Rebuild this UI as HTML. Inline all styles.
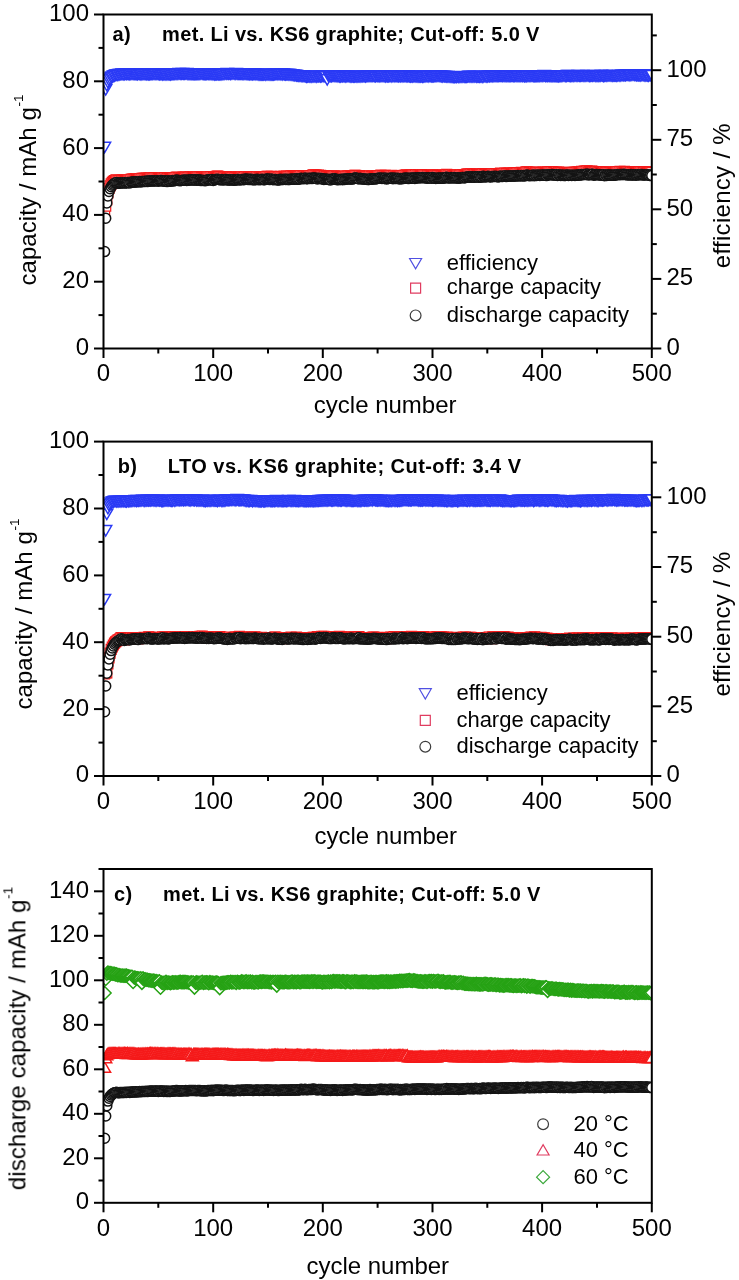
<!DOCTYPE html>
<html><head><meta charset="utf-8"><style>
html,body{margin:0;padding:0;background:#fff;}
body{width:739px;height:1280px;overflow:hidden;font-family:"Liberation Sans",sans-serif;}
svg{display:block;filter:blur(0.35px);}
</style></head><body>
<svg width="739" height="1280" viewBox="0 0 739 1280">
<defs>
<path id="mcirc" d="M-5.0 0a5.0 5.0 0 1 0 10.0 0a5.0 5.0 0 1 0 -10.0 0z"/>
<path id="msq" d="M-5 -5h10v10h-10z"/>
<path id="mlcirc" d="M-5.4 0a5.4 5.4 0 1 0 10.8 0a5.4 5.4 0 1 0 -10.8 0z"/>
<path id="mtdown" d="M-6 -5.2h12l-6 10.4z"/>
<path id="mtup" d="M-6 5.2h12l-6 -10.4z"/>
<path id="mdia" d="M0 -6.5l6.5 6.5l-6.5 6.5l-6.5 -6.5z"/>
<clipPath id="ca"><rect x="103.5" y="14.5" width="548.3" height="334.0"/></clipPath>
<clipPath id="cb"><rect x="103.5" y="441.6" width="548.3" height="334.4"/></clipPath>
<clipPath id="cc"><rect x="103.5" y="869.0" width="548.3" height="333.8"/></clipPath>
</defs>
<rect width="739" height="1280" fill="#fff"/>
<g fill="#fff" stroke="#2a3af5" stroke-width="1.5" clip-path="url(#ca)"><use href="#mtdown" x="104.6" y="147.5"/><use href="#mtdown" x="105.7" y="89.9"/><use href="#mtdown" x="106.8" y="85.6"/><use href="#mtdown" x="107.9" y="82.6"/><use href="#mtdown" x="109" y="80.5"/><use href="#mtdown" x="110.1" y="79.1"/><use href="#mtdown" x="111.2" y="77.6"/><use href="#mtdown" x="112.3" y="77.2"/><use href="#mtdown" x="113.4" y="76.2"/><use href="#mtdown" x="114.5" y="76"/><use href="#mtdown" x="115.6" y="75.3"/><use href="#mtdown" x="116.7" y="75.1"/><use href="#mtdown" x="117.8" y="75.3"/><use href="#mtdown" x="118.9" y="74.7"/><use href="#mtdown" x="119.9" y="74.8"/><use href="#mtdown" x="121" y="74.6"/><use href="#mtdown" x="122.1" y="74.2"/><use href="#mtdown" x="123.2" y="74.6"/><use href="#mtdown" x="124.3" y="74.6"/><use href="#mtdown" x="125.4" y="74.1"/><use href="#mtdown" x="126.5" y="74.3"/><use href="#mtdown" x="127.6" y="74.1"/><use href="#mtdown" x="128.7" y="74.3"/><use href="#mtdown" x="129.8" y="74.5"/><use href="#mtdown" x="130.9" y="74.3"/><use href="#mtdown" x="132" y="74.1"/><use href="#mtdown" x="133.1" y="74.2"/><use href="#mtdown" x="134.2" y="74.4"/><use href="#mtdown" x="135.3" y="74.4"/><use href="#mtdown" x="136.4" y="74.4"/><use href="#mtdown" x="137.5" y="74.5"/><use href="#mtdown" x="138.6" y="74.1"/><use href="#mtdown" x="139.7" y="74.4"/><use href="#mtdown" x="140.8" y="74.6"/><use href="#mtdown" x="141.9" y="74.5"/><use href="#mtdown" x="143" y="74.3"/><use href="#mtdown" x="144.1" y="74.3"/><use href="#mtdown" x="145.2" y="74.4"/><use href="#mtdown" x="146.3" y="74.5"/><use href="#mtdown" x="147.4" y="74.3"/><use href="#mtdown" x="148.5" y="74.6"/><use href="#mtdown" x="149.6" y="74.5"/><use href="#mtdown" x="150.7" y="74.2"/><use href="#mtdown" x="151.8" y="74.4"/><use href="#mtdown" x="152.8" y="74.3"/><use href="#mtdown" x="153.9" y="74.1"/><use href="#mtdown" x="155" y="74.2"/><use href="#mtdown" x="156.1" y="74.4"/><use href="#mtdown" x="157.2" y="74"/><use href="#mtdown" x="158.3" y="74.3"/><use href="#mtdown" x="159.4" y="74.5"/><use href="#mtdown" x="160.5" y="74.4"/><use href="#mtdown" x="161.6" y="74.4"/><use href="#mtdown" x="162.7" y="74.7"/><use href="#mtdown" x="163.8" y="74.5"/><use href="#mtdown" x="164.9" y="74.6"/><use href="#mtdown" x="166" y="74.8"/><use href="#mtdown" x="167.1" y="74.5"/><use href="#mtdown" x="168.2" y="74.5"/><use href="#mtdown" x="169.3" y="74.5"/><use href="#mtdown" x="170.4" y="74.7"/><use href="#mtdown" x="171.5" y="74.4"/><use href="#mtdown" x="172.6" y="74.3"/><use href="#mtdown" x="173.7" y="74.2"/><use href="#mtdown" x="174.8" y="74.3"/><use href="#mtdown" x="175.9" y="74"/><use href="#mtdown" x="177" y="74.2"/><use href="#mtdown" x="178.1" y="74"/><use href="#mtdown" x="179.2" y="73.7"/><use href="#mtdown" x="180.3" y="74"/><use href="#mtdown" x="181.4" y="74"/><use href="#mtdown" x="182.5" y="73.7"/><use href="#mtdown" x="183.6" y="74"/><use href="#mtdown" x="184.6" y="74"/><use href="#mtdown" x="185.7" y="73.9"/><use href="#mtdown" x="186.8" y="73.8"/><use href="#mtdown" x="187.9" y="74.4"/><use href="#mtdown" x="189" y="74.2"/><use href="#mtdown" x="190.1" y="74.3"/><use href="#mtdown" x="191.2" y="74.3"/><use href="#mtdown" x="192.3" y="74.3"/><use href="#mtdown" x="193.4" y="74.4"/><use href="#mtdown" x="194.5" y="74.2"/><use href="#mtdown" x="195.6" y="74.4"/><use href="#mtdown" x="196.7" y="74.2"/><use href="#mtdown" x="197.8" y="74.2"/><use href="#mtdown" x="198.9" y="74.4"/><use href="#mtdown" x="200" y="74.2"/><use href="#mtdown" x="201.1" y="73.9"/><use href="#mtdown" x="202.2" y="74.1"/><use href="#mtdown" x="203.3" y="74.3"/><use href="#mtdown" x="204.4" y="74.2"/><use href="#mtdown" x="205.5" y="74.3"/><use href="#mtdown" x="206.6" y="74.2"/><use href="#mtdown" x="207.7" y="74.1"/><use href="#mtdown" x="208.8" y="74.4"/><use href="#mtdown" x="209.9" y="74.3"/><use href="#mtdown" x="211" y="74.2"/><use href="#mtdown" x="212.1" y="74.5"/><use href="#mtdown" x="213.2" y="74.4"/><use href="#mtdown" x="214.3" y="74.7"/><use href="#mtdown" x="215.4" y="74.6"/><use href="#mtdown" x="216.4" y="74.6"/><use href="#mtdown" x="217.5" y="74.2"/><use href="#mtdown" x="218.6" y="74.6"/><use href="#mtdown" x="219.7" y="74.6"/><use href="#mtdown" x="220.8" y="74.6"/><use href="#mtdown" x="221.9" y="74.5"/><use href="#mtdown" x="223" y="74.3"/><use href="#mtdown" x="224.1" y="74.3"/><use href="#mtdown" x="225.2" y="73.9"/><use href="#mtdown" x="226.3" y="74.1"/><use href="#mtdown" x="227.4" y="73.8"/><use href="#mtdown" x="228.5" y="74"/><use href="#mtdown" x="229.6" y="73.9"/><use href="#mtdown" x="230.7" y="74.2"/><use href="#mtdown" x="231.8" y="73.9"/><use href="#mtdown" x="232.9" y="73.9"/><use href="#mtdown" x="234" y="73.9"/><use href="#mtdown" x="235.1" y="74.2"/><use href="#mtdown" x="236.2" y="73.7"/><use href="#mtdown" x="237.3" y="74"/><use href="#mtdown" x="238.4" y="74"/><use href="#mtdown" x="239.5" y="74"/><use href="#mtdown" x="240.6" y="74.1"/><use href="#mtdown" x="241.7" y="74"/><use href="#mtdown" x="242.8" y="74.3"/><use href="#mtdown" x="243.9" y="74.3"/><use href="#mtdown" x="245" y="74.1"/><use href="#mtdown" x="246.1" y="74.2"/><use href="#mtdown" x="247.2" y="74.3"/><use href="#mtdown" x="248.3" y="74.4"/><use href="#mtdown" x="249.3" y="74.5"/><use href="#mtdown" x="250.4" y="74.4"/><use href="#mtdown" x="251.5" y="74.2"/><use href="#mtdown" x="252.6" y="74.6"/><use href="#mtdown" x="253.7" y="74.2"/><use href="#mtdown" x="254.8" y="74.3"/><use href="#mtdown" x="255.9" y="74.6"/><use href="#mtdown" x="257" y="74.4"/><use href="#mtdown" x="258.1" y="74.8"/><use href="#mtdown" x="259.2" y="74.9"/><use href="#mtdown" x="260.3" y="74.8"/><use href="#mtdown" x="261.4" y="74.7"/><use href="#mtdown" x="262.5" y="74.7"/><use href="#mtdown" x="263.6" y="74.7"/><use href="#mtdown" x="264.7" y="74.6"/><use href="#mtdown" x="265.8" y="75"/><use href="#mtdown" x="266.9" y="74.6"/><use href="#mtdown" x="268" y="74.9"/><use href="#mtdown" x="269.1" y="74.7"/><use href="#mtdown" x="270.2" y="74.7"/><use href="#mtdown" x="271.3" y="74.8"/><use href="#mtdown" x="272.4" y="74.8"/><use href="#mtdown" x="273.5" y="74.7"/><use href="#mtdown" x="274.6" y="74.5"/><use href="#mtdown" x="275.7" y="74.4"/><use href="#mtdown" x="276.8" y="74.3"/><use href="#mtdown" x="277.9" y="74.5"/><use href="#mtdown" x="279" y="74.4"/><use href="#mtdown" x="280.1" y="74.5"/><use href="#mtdown" x="281.1" y="74.3"/><use href="#mtdown" x="282.2" y="74.7"/><use href="#mtdown" x="283.3" y="74.2"/><use href="#mtdown" x="284.4" y="74.6"/><use href="#mtdown" x="285.5" y="74.7"/><use href="#mtdown" x="286.6" y="74.6"/><use href="#mtdown" x="287.7" y="74.6"/><use href="#mtdown" x="288.8" y="74.8"/><use href="#mtdown" x="289.9" y="74.8"/><use href="#mtdown" x="291" y="75.1"/><use href="#mtdown" x="292.1" y="75.1"/><use href="#mtdown" x="293.2" y="75.2"/><use href="#mtdown" x="294.3" y="75.6"/><use href="#mtdown" x="295.4" y="75.4"/><use href="#mtdown" x="296.5" y="75.7"/><use href="#mtdown" x="297.6" y="75.9"/><use href="#mtdown" x="298.7" y="76.1"/><use href="#mtdown" x="299.8" y="76.1"/><use href="#mtdown" x="300.9" y="76.1"/><use href="#mtdown" x="302" y="76.5"/><use href="#mtdown" x="303.1" y="76.3"/><use href="#mtdown" x="304.2" y="76.4"/><use href="#mtdown" x="305.3" y="76.5"/><use href="#mtdown" x="306.4" y="77"/><use href="#mtdown" x="307.5" y="76.7"/><use href="#mtdown" x="308.6" y="76.6"/><use href="#mtdown" x="309.7" y="76.8"/><use href="#mtdown" x="310.8" y="76.7"/><use href="#mtdown" x="311.9" y="77.1"/><use href="#mtdown" x="313" y="76.6"/><use href="#mtdown" x="314" y="76.8"/><use href="#mtdown" x="315.1" y="76.6"/><use href="#mtdown" x="316.2" y="77"/><use href="#mtdown" x="317.3" y="76.5"/><use href="#mtdown" x="318.4" y="76.6"/><use href="#mtdown" x="319.5" y="76.4"/><use href="#mtdown" x="320.6" y="76.7"/><use href="#mtdown" x="321.7" y="76.6"/><use href="#mtdown" x="322.8" y="76.1"/><use href="#mtdown" x="323.9" y="76.5"/><use href="#mtdown" x="325" y="76.5"/><use href="#mtdown" x="326.1" y="76.4"/><use href="#mtdown" x="327.2" y="79.9"/><use href="#mtdown" x="328.3" y="76.1"/><use href="#mtdown" x="329.4" y="76"/><use href="#mtdown" x="330.5" y="76.4"/><use href="#mtdown" x="331.6" y="76.5"/><use href="#mtdown" x="332.7" y="76.1"/><use href="#mtdown" x="333.8" y="76.1"/><use href="#mtdown" x="334.9" y="76.2"/><use href="#mtdown" x="336" y="76.2"/><use href="#mtdown" x="337.1" y="76.5"/><use href="#mtdown" x="338.2" y="76.4"/><use href="#mtdown" x="339.3" y="76.7"/><use href="#mtdown" x="340.4" y="76.7"/><use href="#mtdown" x="341.5" y="76.3"/><use href="#mtdown" x="342.6" y="76.6"/><use href="#mtdown" x="343.7" y="76.2"/><use href="#mtdown" x="344.8" y="76.6"/><use href="#mtdown" x="345.8" y="76.7"/><use href="#mtdown" x="346.9" y="76.5"/><use href="#mtdown" x="348" y="76.4"/><use href="#mtdown" x="349.1" y="76.6"/><use href="#mtdown" x="350.2" y="76.9"/><use href="#mtdown" x="351.3" y="76.7"/><use href="#mtdown" x="352.4" y="76.5"/><use href="#mtdown" x="353.5" y="76.8"/><use href="#mtdown" x="354.6" y="76.9"/><use href="#mtdown" x="355.7" y="76.6"/><use href="#mtdown" x="356.8" y="76.7"/><use href="#mtdown" x="357.9" y="76.9"/><use href="#mtdown" x="359" y="76.7"/><use href="#mtdown" x="360.1" y="76.8"/><use href="#mtdown" x="361.2" y="76.6"/><use href="#mtdown" x="362.3" y="76.6"/><use href="#mtdown" x="363.4" y="76.4"/><use href="#mtdown" x="364.5" y="76.4"/><use href="#mtdown" x="365.6" y="76.7"/><use href="#mtdown" x="366.7" y="76.4"/><use href="#mtdown" x="367.8" y="76.3"/><use href="#mtdown" x="368.9" y="76.3"/><use href="#mtdown" x="370" y="76.2"/><use href="#mtdown" x="371.1" y="76.4"/><use href="#mtdown" x="372.2" y="76.4"/><use href="#mtdown" x="373.3" y="76.1"/><use href="#mtdown" x="374.4" y="76.4"/><use href="#mtdown" x="375.5" y="76.6"/><use href="#mtdown" x="376.6" y="76"/><use href="#mtdown" x="377.6" y="76.3"/><use href="#mtdown" x="378.7" y="76.2"/><use href="#mtdown" x="379.8" y="76.5"/><use href="#mtdown" x="380.9" y="76.4"/><use href="#mtdown" x="382" y="76.4"/><use href="#mtdown" x="383.1" y="76.3"/><use href="#mtdown" x="384.2" y="76.2"/><use href="#mtdown" x="385.3" y="76.7"/><use href="#mtdown" x="386.4" y="76.2"/><use href="#mtdown" x="387.5" y="76.5"/><use href="#mtdown" x="388.6" y="76.5"/><use href="#mtdown" x="389.7" y="76.3"/><use href="#mtdown" x="390.8" y="76.4"/><use href="#mtdown" x="391.9" y="76.7"/><use href="#mtdown" x="393" y="76.1"/><use href="#mtdown" x="394.1" y="76.6"/><use href="#mtdown" x="395.2" y="76.4"/><use href="#mtdown" x="396.3" y="76.4"/><use href="#mtdown" x="397.4" y="76.2"/><use href="#mtdown" x="398.5" y="76.5"/><use href="#mtdown" x="399.6" y="76.3"/><use href="#mtdown" x="400.7" y="76.6"/><use href="#mtdown" x="401.8" y="76.3"/><use href="#mtdown" x="402.9" y="76.6"/><use href="#mtdown" x="404" y="76.6"/><use href="#mtdown" x="405.1" y="76.2"/><use href="#mtdown" x="406.2" y="76.5"/><use href="#mtdown" x="407.3" y="76.5"/><use href="#mtdown" x="408.4" y="76.2"/><use href="#mtdown" x="409.5" y="76.6"/><use href="#mtdown" x="410.5" y="76.8"/><use href="#mtdown" x="411.6" y="76.6"/><use href="#mtdown" x="412.7" y="76.9"/><use href="#mtdown" x="413.8" y="76.5"/><use href="#mtdown" x="414.9" y="76.5"/><use href="#mtdown" x="416" y="76.8"/><use href="#mtdown" x="417.1" y="76.8"/><use href="#mtdown" x="418.2" y="76.7"/><use href="#mtdown" x="419.3" y="76.7"/><use href="#mtdown" x="420.4" y="76.9"/><use href="#mtdown" x="421.5" y="76.6"/><use href="#mtdown" x="422.6" y="77"/><use href="#mtdown" x="423.7" y="76.7"/><use href="#mtdown" x="424.8" y="76.6"/><use href="#mtdown" x="425.9" y="76.6"/><use href="#mtdown" x="427" y="76.4"/><use href="#mtdown" x="428.1" y="76.7"/><use href="#mtdown" x="429.2" y="76.3"/><use href="#mtdown" x="430.3" y="76.4"/><use href="#mtdown" x="431.4" y="76.5"/><use href="#mtdown" x="432.5" y="76.5"/><use href="#mtdown" x="433.6" y="76.5"/><use href="#mtdown" x="434.7" y="76.2"/><use href="#mtdown" x="435.8" y="76.4"/><use href="#mtdown" x="436.9" y="76.3"/><use href="#mtdown" x="438" y="76.1"/><use href="#mtdown" x="439.1" y="76.2"/><use href="#mtdown" x="440.2" y="76.2"/><use href="#mtdown" x="441.3" y="76.5"/><use href="#mtdown" x="442.3" y="76.7"/><use href="#mtdown" x="443.4" y="76.4"/><use href="#mtdown" x="444.5" y="76.6"/><use href="#mtdown" x="445.6" y="76.6"/><use href="#mtdown" x="446.7" y="76.9"/><use href="#mtdown" x="447.8" y="76.7"/><use href="#mtdown" x="448.9" y="76.8"/><use href="#mtdown" x="450" y="77"/><use href="#mtdown" x="451.1" y="77.1"/><use href="#mtdown" x="452.2" y="77.1"/><use href="#mtdown" x="453.3" y="77.2"/><use href="#mtdown" x="454.4" y="77.2"/><use href="#mtdown" x="455.5" y="77.1"/><use href="#mtdown" x="456.6" y="77.3"/><use href="#mtdown" x="457.7" y="76.9"/><use href="#mtdown" x="458.8" y="77.2"/><use href="#mtdown" x="459.9" y="77"/><use href="#mtdown" x="461" y="77.1"/><use href="#mtdown" x="462.1" y="77.1"/><use href="#mtdown" x="463.2" y="76.7"/><use href="#mtdown" x="464.3" y="77"/><use href="#mtdown" x="465.4" y="77.1"/><use href="#mtdown" x="466.5" y="77"/><use href="#mtdown" x="467.6" y="76.9"/><use href="#mtdown" x="468.7" y="76.5"/><use href="#mtdown" x="469.8" y="76.8"/><use href="#mtdown" x="470.9" y="76.7"/><use href="#mtdown" x="472" y="77"/><use href="#mtdown" x="473.1" y="76.8"/><use href="#mtdown" x="474.2" y="76.7"/><use href="#mtdown" x="475.2" y="76.6"/><use href="#mtdown" x="476.3" y="77"/><use href="#mtdown" x="477.4" y="76.7"/><use href="#mtdown" x="478.5" y="76.8"/><use href="#mtdown" x="479.6" y="77"/><use href="#mtdown" x="480.7" y="76.8"/><use href="#mtdown" x="481.8" y="76.9"/><use href="#mtdown" x="482.9" y="77.2"/><use href="#mtdown" x="484" y="76.6"/><use href="#mtdown" x="485.1" y="76.6"/><use href="#mtdown" x="486.2" y="76.7"/><use href="#mtdown" x="487.3" y="76.9"/><use href="#mtdown" x="488.4" y="76.3"/><use href="#mtdown" x="489.5" y="76.5"/><use href="#mtdown" x="490.6" y="76.3"/><use href="#mtdown" x="491.7" y="76.2"/><use href="#mtdown" x="492.8" y="76.5"/><use href="#mtdown" x="493.9" y="76.2"/><use href="#mtdown" x="495" y="76.4"/><use href="#mtdown" x="496.1" y="76.3"/><use href="#mtdown" x="497.2" y="76.2"/><use href="#mtdown" x="498.3" y="76.2"/><use href="#mtdown" x="499.4" y="76"/><use href="#mtdown" x="500.5" y="76.1"/><use href="#mtdown" x="501.6" y="76.1"/><use href="#mtdown" x="502.7" y="76.2"/><use href="#mtdown" x="503.8" y="76.1"/><use href="#mtdown" x="504.9" y="76.3"/><use href="#mtdown" x="506" y="76.2"/><use href="#mtdown" x="507" y="76.2"/><use href="#mtdown" x="508.1" y="76.3"/><use href="#mtdown" x="509.2" y="76.2"/><use href="#mtdown" x="510.3" y="76.4"/><use href="#mtdown" x="511.4" y="76"/><use href="#mtdown" x="512.5" y="76.1"/><use href="#mtdown" x="513.6" y="76.3"/><use href="#mtdown" x="514.7" y="76.4"/><use href="#mtdown" x="515.8" y="76"/><use href="#mtdown" x="516.9" y="76.3"/><use href="#mtdown" x="518" y="76.4"/><use href="#mtdown" x="519.1" y="76.3"/><use href="#mtdown" x="520.2" y="76.3"/><use href="#mtdown" x="521.3" y="76.1"/><use href="#mtdown" x="522.4" y="76.3"/><use href="#mtdown" x="523.5" y="76"/><use href="#mtdown" x="524.6" y="76.5"/><use href="#mtdown" x="525.7" y="76.2"/><use href="#mtdown" x="526.8" y="76.5"/><use href="#mtdown" x="527.9" y="76"/><use href="#mtdown" x="529" y="76.3"/><use href="#mtdown" x="530.1" y="76.3"/><use href="#mtdown" x="531.2" y="76.1"/><use href="#mtdown" x="532.3" y="76"/><use href="#mtdown" x="533.4" y="76.4"/><use href="#mtdown" x="534.5" y="76.3"/><use href="#mtdown" x="535.6" y="76.4"/><use href="#mtdown" x="536.7" y="76.2"/><use href="#mtdown" x="537.8" y="76.2"/><use href="#mtdown" x="538.9" y="76.2"/><use href="#mtdown" x="539.9" y="76.2"/><use href="#mtdown" x="541" y="76.1"/><use href="#mtdown" x="542.1" y="76.2"/><use href="#mtdown" x="543.2" y="76"/><use href="#mtdown" x="544.3" y="75.8"/><use href="#mtdown" x="545.4" y="76.4"/><use href="#mtdown" x="546.5" y="76.1"/><use href="#mtdown" x="547.6" y="76.2"/><use href="#mtdown" x="548.7" y="76.1"/><use href="#mtdown" x="549.8" y="76.4"/><use href="#mtdown" x="550.9" y="76.3"/><use href="#mtdown" x="552" y="76.5"/><use href="#mtdown" x="553.1" y="76.2"/><use href="#mtdown" x="554.2" y="76.4"/><use href="#mtdown" x="555.3" y="76.4"/><use href="#mtdown" x="556.4" y="76.4"/><use href="#mtdown" x="557.5" y="76.4"/><use href="#mtdown" x="558.6" y="76.6"/><use href="#mtdown" x="559.7" y="76.2"/><use href="#mtdown" x="560.8" y="76.2"/><use href="#mtdown" x="561.9" y="76.3"/><use href="#mtdown" x="563" y="76"/><use href="#mtdown" x="564.1" y="75.9"/><use href="#mtdown" x="565.2" y="76.3"/><use href="#mtdown" x="566.3" y="76.2"/><use href="#mtdown" x="567.4" y="75.7"/><use href="#mtdown" x="568.5" y="75.7"/><use href="#mtdown" x="569.6" y="76.1"/><use href="#mtdown" x="570.7" y="76.2"/><use href="#mtdown" x="571.7" y="76.1"/><use href="#mtdown" x="572.8" y="76"/><use href="#mtdown" x="573.9" y="76.2"/><use href="#mtdown" x="575" y="75.9"/><use href="#mtdown" x="576.1" y="76.1"/><use href="#mtdown" x="577.2" y="76.1"/><use href="#mtdown" x="578.3" y="75.8"/><use href="#mtdown" x="579.4" y="76.1"/><use href="#mtdown" x="580.5" y="76"/><use href="#mtdown" x="581.6" y="75.9"/><use href="#mtdown" x="582.7" y="75.8"/><use href="#mtdown" x="583.8" y="76"/><use href="#mtdown" x="584.9" y="76"/><use href="#mtdown" x="586" y="76.1"/><use href="#mtdown" x="587.1" y="75.7"/><use href="#mtdown" x="588.2" y="75.9"/><use href="#mtdown" x="589.3" y="76.2"/><use href="#mtdown" x="590.4" y="76"/><use href="#mtdown" x="591.5" y="75.9"/><use href="#mtdown" x="592.6" y="76"/><use href="#mtdown" x="593.7" y="75.8"/><use href="#mtdown" x="594.8" y="75.9"/><use href="#mtdown" x="595.9" y="76.2"/><use href="#mtdown" x="597" y="76.1"/><use href="#mtdown" x="598.1" y="76.2"/><use href="#mtdown" x="599.2" y="76"/><use href="#mtdown" x="600.3" y="76"/><use href="#mtdown" x="601.4" y="75.5"/><use href="#mtdown" x="602.5" y="75.9"/><use href="#mtdown" x="603.5" y="76.2"/><use href="#mtdown" x="604.6" y="76"/><use href="#mtdown" x="605.7" y="75.8"/><use href="#mtdown" x="606.8" y="76"/><use href="#mtdown" x="607.9" y="75.9"/><use href="#mtdown" x="609" y="75.9"/><use href="#mtdown" x="610.1" y="75.8"/><use href="#mtdown" x="611.2" y="75.9"/><use href="#mtdown" x="612.3" y="76"/><use href="#mtdown" x="613.4" y="75.7"/><use href="#mtdown" x="614.5" y="75.9"/><use href="#mtdown" x="615.6" y="75.9"/><use href="#mtdown" x="616.7" y="76.1"/><use href="#mtdown" x="617.8" y="75.9"/><use href="#mtdown" x="618.9" y="75.6"/><use href="#mtdown" x="620" y="76"/><use href="#mtdown" x="621.1" y="75.6"/><use href="#mtdown" x="622.2" y="75.4"/><use href="#mtdown" x="623.3" y="75.6"/><use href="#mtdown" x="624.4" y="75.4"/><use href="#mtdown" x="625.5" y="75.5"/><use href="#mtdown" x="626.6" y="75.1"/><use href="#mtdown" x="627.7" y="75"/><use href="#mtdown" x="628.8" y="75.2"/><use href="#mtdown" x="629.9" y="75.5"/><use href="#mtdown" x="631" y="75.4"/><use href="#mtdown" x="632.1" y="75"/><use href="#mtdown" x="633.2" y="74.9"/><use href="#mtdown" x="634.3" y="75.2"/><use href="#mtdown" x="635.4" y="75.1"/><use href="#mtdown" x="636.4" y="75.5"/><use href="#mtdown" x="637.5" y="75.4"/><use href="#mtdown" x="638.6" y="75.5"/><use href="#mtdown" x="639.7" y="75.5"/><use href="#mtdown" x="640.8" y="75.8"/><use href="#mtdown" x="641.9" y="75.4"/><use href="#mtdown" x="643" y="75.4"/><use href="#mtdown" x="644.1" y="75.8"/><use href="#mtdown" x="645.2" y="75.8"/><use href="#mtdown" x="646.3" y="75.5"/><use href="#mtdown" x="647.4" y="75.7"/><use href="#mtdown" x="648.5" y="76"/><use href="#mtdown" x="649.6" y="75.4"/><use href="#mtdown" x="650.7" y="75.5"/><use href="#mtdown" x="651.8" y="75.6"/></g>
<g fill="#fff" stroke="#f51a1a" stroke-width="1.2" clip-path="url(#ca)"><use href="#msq" x="104.6" y="213.9"/><use href="#msq" x="105.7" y="206.2"/><use href="#msq" x="106.8" y="199.9"/><use href="#msq" x="107.9" y="192.8"/><use href="#msq" x="109" y="188.5"/><use href="#msq" x="110.1" y="185.9"/><use href="#msq" x="111.2" y="183.9"/><use href="#msq" x="112.3" y="182.3"/><use href="#msq" x="113.4" y="181.3"/><use href="#msq" x="114.5" y="180.5"/><use href="#msq" x="115.6" y="180.1"/><use href="#msq" x="116.7" y="179.8"/><use href="#msq" x="117.8" y="180.7"/><use href="#msq" x="118.9" y="180.7"/><use href="#msq" x="119.9" y="180.4"/><use href="#msq" x="121" y="180.5"/><use href="#msq" x="122.1" y="180.2"/><use href="#msq" x="123.2" y="180.2"/><use href="#msq" x="124.3" y="180.5"/><use href="#msq" x="125.4" y="180"/><use href="#msq" x="126.5" y="180.3"/><use href="#msq" x="127.6" y="180"/><use href="#msq" x="128.7" y="179.8"/><use href="#msq" x="129.8" y="180.1"/><use href="#msq" x="130.9" y="179.4"/><use href="#msq" x="132" y="179.2"/><use href="#msq" x="133.1" y="179.2"/><use href="#msq" x="134.2" y="179.1"/><use href="#msq" x="135.3" y="178.9"/><use href="#msq" x="136.4" y="179"/><use href="#msq" x="137.5" y="178.8"/><use href="#msq" x="138.6" y="178.8"/><use href="#msq" x="139.7" y="178.5"/><use href="#msq" x="140.8" y="178.8"/><use href="#msq" x="141.9" y="178.4"/><use href="#msq" x="143" y="178.4"/><use href="#msq" x="144.1" y="178.4"/><use href="#msq" x="145.2" y="178.4"/><use href="#msq" x="146.3" y="178.1"/><use href="#msq" x="147.4" y="178.6"/><use href="#msq" x="148.5" y="178"/><use href="#msq" x="149.6" y="178"/><use href="#msq" x="150.7" y="177.9"/><use href="#msq" x="151.8" y="177.8"/><use href="#msq" x="152.8" y="178.1"/><use href="#msq" x="153.9" y="177.9"/><use href="#msq" x="155" y="177.6"/><use href="#msq" x="156.1" y="177.7"/><use href="#msq" x="157.2" y="177.7"/><use href="#msq" x="158.3" y="178.2"/><use href="#msq" x="159.4" y="177.7"/><use href="#msq" x="160.5" y="177.5"/><use href="#msq" x="161.6" y="177.6"/><use href="#msq" x="162.7" y="177.8"/><use href="#msq" x="163.8" y="178.3"/><use href="#msq" x="164.9" y="177.7"/><use href="#msq" x="166" y="178"/><use href="#msq" x="167.1" y="178.7"/><use href="#msq" x="168.2" y="177.9"/><use href="#msq" x="169.3" y="178.4"/><use href="#msq" x="170.4" y="178.3"/><use href="#msq" x="171.5" y="178.1"/><use href="#msq" x="172.6" y="177.5"/><use href="#msq" x="173.7" y="177.9"/><use href="#msq" x="174.8" y="177.7"/><use href="#msq" x="175.9" y="177.3"/><use href="#msq" x="177" y="177.2"/><use href="#msq" x="178.1" y="177.6"/><use href="#msq" x="179.2" y="177.6"/><use href="#msq" x="180.3" y="177.8"/><use href="#msq" x="181.4" y="177.7"/><use href="#msq" x="182.5" y="177.4"/><use href="#msq" x="183.6" y="177.4"/><use href="#msq" x="184.6" y="177.4"/><use href="#msq" x="185.7" y="177.2"/><use href="#msq" x="186.8" y="177.6"/><use href="#msq" x="187.9" y="177.4"/><use href="#msq" x="189" y="177.1"/><use href="#msq" x="190.1" y="177"/><use href="#msq" x="191.2" y="176.8"/><use href="#msq" x="192.3" y="176.9"/><use href="#msq" x="193.4" y="177"/><use href="#msq" x="194.5" y="176.8"/><use href="#msq" x="195.6" y="177.1"/><use href="#msq" x="196.7" y="177.3"/><use href="#msq" x="197.8" y="176.8"/><use href="#msq" x="198.9" y="177"/><use href="#msq" x="200" y="177"/><use href="#msq" x="201.1" y="177.6"/><use href="#msq" x="202.2" y="177.3"/><use href="#msq" x="203.3" y="177.4"/><use href="#msq" x="204.4" y="177.5"/><use href="#msq" x="205.5" y="177.8"/><use href="#msq" x="206.6" y="177.2"/><use href="#msq" x="207.7" y="176.8"/><use href="#msq" x="208.8" y="176.8"/><use href="#msq" x="209.9" y="177"/><use href="#msq" x="211" y="176.7"/><use href="#msq" x="212.1" y="176.5"/><use href="#msq" x="213.2" y="177.4"/><use href="#msq" x="214.3" y="176.6"/><use href="#msq" x="215.4" y="176.5"/><use href="#msq" x="216.4" y="176.4"/><use href="#msq" x="217.5" y="176.2"/><use href="#msq" x="218.6" y="176.4"/><use href="#msq" x="219.7" y="176.7"/><use href="#msq" x="220.8" y="176.7"/><use href="#msq" x="221.9" y="176.7"/><use href="#msq" x="223" y="177.1"/><use href="#msq" x="224.1" y="177"/><use href="#msq" x="225.2" y="176.9"/><use href="#msq" x="226.3" y="176.7"/><use href="#msq" x="227.4" y="177.4"/><use href="#msq" x="228.5" y="177.4"/><use href="#msq" x="229.6" y="177.4"/><use href="#msq" x="230.7" y="177.2"/><use href="#msq" x="231.8" y="177.6"/><use href="#msq" x="232.9" y="177.2"/><use href="#msq" x="234" y="177.8"/><use href="#msq" x="235.1" y="177.5"/><use href="#msq" x="236.2" y="177.4"/><use href="#msq" x="237.3" y="177.1"/><use href="#msq" x="238.4" y="176.9"/><use href="#msq" x="239.5" y="177.5"/><use href="#msq" x="240.6" y="177.2"/><use href="#msq" x="241.7" y="176.8"/><use href="#msq" x="242.8" y="177.1"/><use href="#msq" x="243.9" y="177.3"/><use href="#msq" x="245" y="176.6"/><use href="#msq" x="246.1" y="176.7"/><use href="#msq" x="247.2" y="176.8"/><use href="#msq" x="248.3" y="177.1"/><use href="#msq" x="249.3" y="176.7"/><use href="#msq" x="250.4" y="177.1"/><use href="#msq" x="251.5" y="176.7"/><use href="#msq" x="252.6" y="177.2"/><use href="#msq" x="253.7" y="177.2"/><use href="#msq" x="254.8" y="176.9"/><use href="#msq" x="255.9" y="177.1"/><use href="#msq" x="257" y="176.7"/><use href="#msq" x="258.1" y="176.8"/><use href="#msq" x="259.2" y="177.2"/><use href="#msq" x="260.3" y="176.9"/><use href="#msq" x="261.4" y="177"/><use href="#msq" x="262.5" y="176.7"/><use href="#msq" x="263.6" y="177.1"/><use href="#msq" x="264.7" y="177.1"/><use href="#msq" x="265.8" y="176.6"/><use href="#msq" x="266.9" y="176.3"/><use href="#msq" x="268" y="176.3"/><use href="#msq" x="269.1" y="176.8"/><use href="#msq" x="270.2" y="176.7"/><use href="#msq" x="271.3" y="176.4"/><use href="#msq" x="272.4" y="176.8"/><use href="#msq" x="273.5" y="177"/><use href="#msq" x="274.6" y="176.7"/><use href="#msq" x="275.7" y="176.6"/><use href="#msq" x="276.8" y="176.9"/><use href="#msq" x="277.9" y="177.1"/><use href="#msq" x="279" y="177"/><use href="#msq" x="280.1" y="176.4"/><use href="#msq" x="281.1" y="176.7"/><use href="#msq" x="282.2" y="176.5"/><use href="#msq" x="283.3" y="176.4"/><use href="#msq" x="284.4" y="176.3"/><use href="#msq" x="285.5" y="176.5"/><use href="#msq" x="286.6" y="176.2"/><use href="#msq" x="287.7" y="176.5"/><use href="#msq" x="288.8" y="176.4"/><use href="#msq" x="289.9" y="176.5"/><use href="#msq" x="291" y="175.9"/><use href="#msq" x="292.1" y="176.2"/><use href="#msq" x="293.2" y="176.4"/><use href="#msq" x="294.3" y="176.2"/><use href="#msq" x="295.4" y="176.2"/><use href="#msq" x="296.5" y="175.9"/><use href="#msq" x="297.6" y="176.6"/><use href="#msq" x="298.7" y="176.4"/><use href="#msq" x="299.8" y="176.3"/><use href="#msq" x="300.9" y="175.5"/><use href="#msq" x="302" y="175.9"/><use href="#msq" x="303.1" y="176.1"/><use href="#msq" x="304.2" y="175.9"/><use href="#msq" x="305.3" y="175.5"/><use href="#msq" x="306.4" y="176"/><use href="#msq" x="307.5" y="176"/><use href="#msq" x="308.6" y="175.5"/><use href="#msq" x="309.7" y="175.6"/><use href="#msq" x="310.8" y="175.5"/><use href="#msq" x="311.9" y="175.7"/><use href="#msq" x="313" y="174.9"/><use href="#msq" x="314" y="175"/><use href="#msq" x="315.1" y="175.2"/><use href="#msq" x="316.2" y="175.2"/><use href="#msq" x="317.3" y="175.9"/><use href="#msq" x="318.4" y="175.2"/><use href="#msq" x="319.5" y="175.5"/><use href="#msq" x="320.6" y="175.4"/><use href="#msq" x="321.7" y="175.5"/><use href="#msq" x="322.8" y="175.9"/><use href="#msq" x="323.9" y="176.3"/><use href="#msq" x="325" y="175.9"/><use href="#msq" x="326.1" y="176.3"/><use href="#msq" x="327.2" y="176.3"/><use href="#msq" x="328.3" y="176.4"/><use href="#msq" x="329.4" y="176.5"/><use href="#msq" x="330.5" y="177"/><use href="#msq" x="331.6" y="176.1"/><use href="#msq" x="332.7" y="176.4"/><use href="#msq" x="333.8" y="176.2"/><use href="#msq" x="334.9" y="175.9"/><use href="#msq" x="336" y="176.5"/><use href="#msq" x="337.1" y="177"/><use href="#msq" x="338.2" y="176.7"/><use href="#msq" x="339.3" y="176.8"/><use href="#msq" x="340.4" y="176.6"/><use href="#msq" x="341.5" y="176.4"/><use href="#msq" x="342.6" y="176.9"/><use href="#msq" x="343.7" y="176.3"/><use href="#msq" x="344.8" y="176.7"/><use href="#msq" x="345.8" y="176.2"/><use href="#msq" x="346.9" y="176.2"/><use href="#msq" x="348" y="176.2"/><use href="#msq" x="349.1" y="176"/><use href="#msq" x="350.2" y="176.1"/><use href="#msq" x="351.3" y="176.1"/><use href="#msq" x="352.4" y="176.4"/><use href="#msq" x="353.5" y="175.9"/><use href="#msq" x="354.6" y="175.4"/><use href="#msq" x="355.7" y="175.3"/><use href="#msq" x="356.8" y="175.5"/><use href="#msq" x="357.9" y="175.7"/><use href="#msq" x="359" y="176.1"/><use href="#msq" x="360.1" y="175.5"/><use href="#msq" x="361.2" y="176"/><use href="#msq" x="362.3" y="176.1"/><use href="#msq" x="363.4" y="176.2"/><use href="#msq" x="364.5" y="176.2"/><use href="#msq" x="365.6" y="176.4"/><use href="#msq" x="366.7" y="176.4"/><use href="#msq" x="367.8" y="176.7"/><use href="#msq" x="368.9" y="176.6"/><use href="#msq" x="370" y="175.8"/><use href="#msq" x="371.1" y="176.4"/><use href="#msq" x="372.2" y="176.3"/><use href="#msq" x="373.3" y="176"/><use href="#msq" x="374.4" y="175.8"/><use href="#msq" x="375.5" y="176.2"/><use href="#msq" x="376.6" y="175.9"/><use href="#msq" x="377.6" y="175.5"/><use href="#msq" x="378.7" y="175.6"/><use href="#msq" x="379.8" y="175.6"/><use href="#msq" x="380.9" y="175.2"/><use href="#msq" x="382" y="175.9"/><use href="#msq" x="383.1" y="175.7"/><use href="#msq" x="384.2" y="175.9"/><use href="#msq" x="385.3" y="175.4"/><use href="#msq" x="386.4" y="176.4"/><use href="#msq" x="387.5" y="176.1"/><use href="#msq" x="388.6" y="176.1"/><use href="#msq" x="389.7" y="175.7"/><use href="#msq" x="390.8" y="175.7"/><use href="#msq" x="391.9" y="175.4"/><use href="#msq" x="393" y="176.2"/><use href="#msq" x="394.1" y="175.5"/><use href="#msq" x="395.2" y="175.8"/><use href="#msq" x="396.3" y="175.8"/><use href="#msq" x="397.4" y="175.5"/><use href="#msq" x="398.5" y="175.9"/><use href="#msq" x="399.6" y="176.2"/><use href="#msq" x="400.7" y="175.7"/><use href="#msq" x="401.8" y="176"/><use href="#msq" x="402.9" y="175.7"/><use href="#msq" x="404" y="175.4"/><use href="#msq" x="405.1" y="175.3"/><use href="#msq" x="406.2" y="174.9"/><use href="#msq" x="407.3" y="175.3"/><use href="#msq" x="408.4" y="175.6"/><use href="#msq" x="409.5" y="175.3"/><use href="#msq" x="410.5" y="175.2"/><use href="#msq" x="411.6" y="175.3"/><use href="#msq" x="412.7" y="174.8"/><use href="#msq" x="413.8" y="175"/><use href="#msq" x="414.9" y="175.3"/><use href="#msq" x="416" y="174.6"/><use href="#msq" x="417.1" y="174.8"/><use href="#msq" x="418.2" y="174.7"/><use href="#msq" x="419.3" y="174.7"/><use href="#msq" x="420.4" y="174.7"/><use href="#msq" x="421.5" y="174.8"/><use href="#msq" x="422.6" y="174.6"/><use href="#msq" x="423.7" y="174.8"/><use href="#msq" x="424.8" y="174.9"/><use href="#msq" x="425.9" y="174.9"/><use href="#msq" x="427" y="175.4"/><use href="#msq" x="428.1" y="175.1"/><use href="#msq" x="429.2" y="175.2"/><use href="#msq" x="430.3" y="175.1"/><use href="#msq" x="431.4" y="175.6"/><use href="#msq" x="432.5" y="174.8"/><use href="#msq" x="433.6" y="175.2"/><use href="#msq" x="434.7" y="175.6"/><use href="#msq" x="435.8" y="175.8"/><use href="#msq" x="436.9" y="175.4"/><use href="#msq" x="438" y="175.4"/><use href="#msq" x="439.1" y="175.5"/><use href="#msq" x="440.2" y="175.3"/><use href="#msq" x="441.3" y="175.5"/><use href="#msq" x="442.3" y="175.1"/><use href="#msq" x="443.4" y="175.4"/><use href="#msq" x="444.5" y="175.1"/><use href="#msq" x="445.6" y="174.8"/><use href="#msq" x="446.7" y="174.3"/><use href="#msq" x="447.8" y="175.1"/><use href="#msq" x="448.9" y="174.9"/><use href="#msq" x="450" y="175"/><use href="#msq" x="451.1" y="174.5"/><use href="#msq" x="452.2" y="175"/><use href="#msq" x="453.3" y="174.8"/><use href="#msq" x="454.4" y="174.7"/><use href="#msq" x="455.5" y="174.9"/><use href="#msq" x="456.6" y="174.9"/><use href="#msq" x="457.7" y="174.8"/><use href="#msq" x="458.8" y="175.3"/><use href="#msq" x="459.9" y="175.1"/><use href="#msq" x="461" y="174.8"/><use href="#msq" x="462.1" y="174.6"/><use href="#msq" x="463.2" y="174.6"/><use href="#msq" x="464.3" y="175"/><use href="#msq" x="465.4" y="174.6"/><use href="#msq" x="466.5" y="174.1"/><use href="#msq" x="467.6" y="174.1"/><use href="#msq" x="468.7" y="174.2"/><use href="#msq" x="469.8" y="174.4"/><use href="#msq" x="470.9" y="174"/><use href="#msq" x="472" y="174.4"/><use href="#msq" x="473.1" y="174.6"/><use href="#msq" x="474.2" y="174.6"/><use href="#msq" x="475.2" y="174"/><use href="#msq" x="476.3" y="174.4"/><use href="#msq" x="477.4" y="174.2"/><use href="#msq" x="478.5" y="174.6"/><use href="#msq" x="479.6" y="174.2"/><use href="#msq" x="480.7" y="174.7"/><use href="#msq" x="481.8" y="174.5"/><use href="#msq" x="482.9" y="173.7"/><use href="#msq" x="484" y="174.1"/><use href="#msq" x="485.1" y="174.3"/><use href="#msq" x="486.2" y="174.2"/><use href="#msq" x="487.3" y="173.9"/><use href="#msq" x="488.4" y="173.6"/><use href="#msq" x="489.5" y="174"/><use href="#msq" x="490.6" y="174.3"/><use href="#msq" x="491.7" y="173.9"/><use href="#msq" x="492.8" y="173.8"/><use href="#msq" x="493.9" y="173.8"/><use href="#msq" x="495" y="173.6"/><use href="#msq" x="496.1" y="173.9"/><use href="#msq" x="497.2" y="173.7"/><use href="#msq" x="498.3" y="174.2"/><use href="#msq" x="499.4" y="173.6"/><use href="#msq" x="500.5" y="173.2"/><use href="#msq" x="501.6" y="173.5"/><use href="#msq" x="502.7" y="173.6"/><use href="#msq" x="503.8" y="173.5"/><use href="#msq" x="504.9" y="173"/><use href="#msq" x="506" y="173.7"/><use href="#msq" x="507" y="173.4"/><use href="#msq" x="508.1" y="173.3"/><use href="#msq" x="509.2" y="173.2"/><use href="#msq" x="510.3" y="173.5"/><use href="#msq" x="511.4" y="173.3"/><use href="#msq" x="512.5" y="173.3"/><use href="#msq" x="513.6" y="173.2"/><use href="#msq" x="514.7" y="173.1"/><use href="#msq" x="515.8" y="173.3"/><use href="#msq" x="516.9" y="172.9"/><use href="#msq" x="518" y="172.6"/><use href="#msq" x="519.1" y="173"/><use href="#msq" x="520.2" y="172.7"/><use href="#msq" x="521.3" y="172.4"/><use href="#msq" x="522.4" y="172.9"/><use href="#msq" x="523.5" y="172.5"/><use href="#msq" x="524.6" y="172.8"/><use href="#msq" x="525.7" y="172.2"/><use href="#msq" x="526.8" y="171.9"/><use href="#msq" x="527.9" y="172"/><use href="#msq" x="529" y="172.6"/><use href="#msq" x="530.1" y="172.4"/><use href="#msq" x="531.2" y="172.6"/><use href="#msq" x="532.3" y="172.6"/><use href="#msq" x="533.4" y="172.2"/><use href="#msq" x="534.5" y="173"/><use href="#msq" x="535.6" y="172.4"/><use href="#msq" x="536.7" y="172.7"/><use href="#msq" x="537.8" y="172.3"/><use href="#msq" x="538.9" y="172.6"/><use href="#msq" x="539.9" y="172.8"/><use href="#msq" x="541" y="172.5"/><use href="#msq" x="542.1" y="172.3"/><use href="#msq" x="543.2" y="172.4"/><use href="#msq" x="544.3" y="172.2"/><use href="#msq" x="545.4" y="172.3"/><use href="#msq" x="546.5" y="172.7"/><use href="#msq" x="547.6" y="171.8"/><use href="#msq" x="548.7" y="171.8"/><use href="#msq" x="549.8" y="171.9"/><use href="#msq" x="550.9" y="171.9"/><use href="#msq" x="552" y="171.7"/><use href="#msq" x="553.1" y="172.2"/><use href="#msq" x="554.2" y="172.3"/><use href="#msq" x="555.3" y="172.3"/><use href="#msq" x="556.4" y="172"/><use href="#msq" x="557.5" y="172.8"/><use href="#msq" x="558.6" y="172.2"/><use href="#msq" x="559.7" y="172.7"/><use href="#msq" x="560.8" y="172.9"/><use href="#msq" x="561.9" y="172.3"/><use href="#msq" x="563" y="172.7"/><use href="#msq" x="564.1" y="173.1"/><use href="#msq" x="565.2" y="172.8"/><use href="#msq" x="566.3" y="172.5"/><use href="#msq" x="567.4" y="172.4"/><use href="#msq" x="568.5" y="172.8"/><use href="#msq" x="569.6" y="172.6"/><use href="#msq" x="570.7" y="172.5"/><use href="#msq" x="571.7" y="172.7"/><use href="#msq" x="572.8" y="172.4"/><use href="#msq" x="573.9" y="172.4"/><use href="#msq" x="575" y="172.4"/><use href="#msq" x="576.1" y="172.3"/><use href="#msq" x="577.2" y="172"/><use href="#msq" x="578.3" y="171.9"/><use href="#msq" x="579.4" y="172"/><use href="#msq" x="580.5" y="171.8"/><use href="#msq" x="581.6" y="171.3"/><use href="#msq" x="582.7" y="171.5"/><use href="#msq" x="583.8" y="171.3"/><use href="#msq" x="584.9" y="171.2"/><use href="#msq" x="586" y="171.4"/><use href="#msq" x="587.1" y="170.9"/><use href="#msq" x="588.2" y="171.8"/><use href="#msq" x="589.3" y="171.4"/><use href="#msq" x="590.4" y="171.7"/><use href="#msq" x="591.5" y="171.2"/><use href="#msq" x="592.6" y="171.3"/><use href="#msq" x="593.7" y="172.3"/><use href="#msq" x="594.8" y="172.1"/><use href="#msq" x="595.9" y="171.7"/><use href="#msq" x="597" y="171.8"/><use href="#msq" x="598.1" y="171.9"/><use href="#msq" x="599.2" y="172.2"/><use href="#msq" x="600.3" y="172.2"/><use href="#msq" x="601.4" y="172.2"/><use href="#msq" x="602.5" y="172.4"/><use href="#msq" x="603.5" y="172.1"/><use href="#msq" x="604.6" y="173"/><use href="#msq" x="605.7" y="172.3"/><use href="#msq" x="606.8" y="172.7"/><use href="#msq" x="607.9" y="172.1"/><use href="#msq" x="609" y="172.4"/><use href="#msq" x="610.1" y="172.5"/><use href="#msq" x="611.2" y="172.1"/><use href="#msq" x="612.3" y="172.4"/><use href="#msq" x="613.4" y="172.3"/><use href="#msq" x="614.5" y="172.4"/><use href="#msq" x="615.6" y="172"/><use href="#msq" x="616.7" y="171.8"/><use href="#msq" x="617.8" y="171.5"/><use href="#msq" x="618.9" y="171.8"/><use href="#msq" x="620" y="171.4"/><use href="#msq" x="621.1" y="171.7"/><use href="#msq" x="622.2" y="171.7"/><use href="#msq" x="623.3" y="171.6"/><use href="#msq" x="624.4" y="171.4"/><use href="#msq" x="625.5" y="171.9"/><use href="#msq" x="626.6" y="172"/><use href="#msq" x="627.7" y="172"/><use href="#msq" x="628.8" y="172"/><use href="#msq" x="629.9" y="172.4"/><use href="#msq" x="631" y="171.9"/><use href="#msq" x="632.1" y="172.4"/><use href="#msq" x="633.2" y="172.1"/><use href="#msq" x="634.3" y="172.5"/><use href="#msq" x="635.4" y="172.2"/><use href="#msq" x="636.4" y="172.2"/><use href="#msq" x="637.5" y="172.4"/><use href="#msq" x="638.6" y="171.7"/><use href="#msq" x="639.7" y="172.1"/><use href="#msq" x="640.8" y="171.7"/><use href="#msq" x="641.9" y="171.9"/><use href="#msq" x="643" y="172.3"/><use href="#msq" x="644.1" y="172.2"/><use href="#msq" x="645.2" y="171.9"/><use href="#msq" x="646.3" y="172"/><use href="#msq" x="647.4" y="172"/><use href="#msq" x="648.5" y="172.1"/><use href="#msq" x="649.6" y="172.5"/><use href="#msq" x="650.7" y="172.1"/><use href="#msq" x="651.8" y="172.6"/></g>
<g fill="#fff" stroke="#141414" stroke-width="1.5" clip-path="url(#ca)"><use href="#mcirc" x="104.6" y="251.6"/><use href="#mcirc" x="105.7" y="218.2"/><use href="#mcirc" x="106.8" y="202.9"/><use href="#mcirc" x="107.9" y="195.9"/><use href="#mcirc" x="109" y="191.5"/><use href="#mcirc" x="110.1" y="188.8"/><use href="#mcirc" x="111.2" y="186.8"/><use href="#mcirc" x="112.3" y="185.2"/><use href="#mcirc" x="113.4" y="184.2"/><use href="#mcirc" x="114.5" y="183.3"/><use href="#mcirc" x="115.6" y="182.8"/><use href="#mcirc" x="116.7" y="182.5"/><use href="#mcirc" x="117.8" y="183.3"/><use href="#mcirc" x="118.9" y="183.3"/><use href="#mcirc" x="119.9" y="183"/><use href="#mcirc" x="121" y="183"/><use href="#mcirc" x="122.1" y="182.8"/><use href="#mcirc" x="123.2" y="182.8"/><use href="#mcirc" x="124.3" y="183.1"/><use href="#mcirc" x="125.4" y="182.6"/><use href="#mcirc" x="126.5" y="182.9"/><use href="#mcirc" x="127.6" y="182.6"/><use href="#mcirc" x="128.7" y="182.5"/><use href="#mcirc" x="129.8" y="182.9"/><use href="#mcirc" x="130.9" y="182.2"/><use href="#mcirc" x="132" y="182.1"/><use href="#mcirc" x="133.1" y="182.1"/><use href="#mcirc" x="134.2" y="182"/><use href="#mcirc" x="135.3" y="181.9"/><use href="#mcirc" x="136.4" y="182"/><use href="#mcirc" x="137.5" y="181.8"/><use href="#mcirc" x="138.6" y="181.8"/><use href="#mcirc" x="139.7" y="181.6"/><use href="#mcirc" x="140.8" y="181.9"/><use href="#mcirc" x="141.9" y="181.4"/><use href="#mcirc" x="143" y="181.4"/><use href="#mcirc" x="144.1" y="181.4"/><use href="#mcirc" x="145.2" y="181.4"/><use href="#mcirc" x="146.3" y="181.1"/><use href="#mcirc" x="147.4" y="181.6"/><use href="#mcirc" x="148.5" y="181"/><use href="#mcirc" x="149.6" y="181"/><use href="#mcirc" x="150.7" y="180.9"/><use href="#mcirc" x="151.8" y="180.8"/><use href="#mcirc" x="152.8" y="181.1"/><use href="#mcirc" x="153.9" y="181"/><use href="#mcirc" x="155" y="180.7"/><use href="#mcirc" x="156.1" y="180.7"/><use href="#mcirc" x="157.2" y="180.8"/><use href="#mcirc" x="158.3" y="181.2"/><use href="#mcirc" x="159.4" y="180.7"/><use href="#mcirc" x="160.5" y="180.6"/><use href="#mcirc" x="161.6" y="180.6"/><use href="#mcirc" x="162.7" y="180.9"/><use href="#mcirc" x="163.8" y="181.3"/><use href="#mcirc" x="164.9" y="180.7"/><use href="#mcirc" x="166" y="181"/><use href="#mcirc" x="167.1" y="181.6"/><use href="#mcirc" x="168.2" y="180.8"/><use href="#mcirc" x="169.3" y="181.3"/><use href="#mcirc" x="170.4" y="181.2"/><use href="#mcirc" x="171.5" y="181"/><use href="#mcirc" x="172.6" y="180.5"/><use href="#mcirc" x="173.7" y="180.9"/><use href="#mcirc" x="174.8" y="180.6"/><use href="#mcirc" x="175.9" y="180.2"/><use href="#mcirc" x="177" y="180.1"/><use href="#mcirc" x="178.1" y="180.5"/><use href="#mcirc" x="179.2" y="180.5"/><use href="#mcirc" x="180.3" y="180.7"/><use href="#mcirc" x="181.4" y="180.5"/><use href="#mcirc" x="182.5" y="180.2"/><use href="#mcirc" x="183.6" y="180.2"/><use href="#mcirc" x="184.6" y="180.3"/><use href="#mcirc" x="185.7" y="180"/><use href="#mcirc" x="186.8" y="180.5"/><use href="#mcirc" x="187.9" y="180.3"/><use href="#mcirc" x="189" y="180"/><use href="#mcirc" x="190.1" y="180"/><use href="#mcirc" x="191.2" y="179.7"/><use href="#mcirc" x="192.3" y="179.9"/><use href="#mcirc" x="193.4" y="180"/><use href="#mcirc" x="194.5" y="179.8"/><use href="#mcirc" x="195.6" y="180.1"/><use href="#mcirc" x="196.7" y="180.3"/><use href="#mcirc" x="197.8" y="179.8"/><use href="#mcirc" x="198.9" y="180"/><use href="#mcirc" x="200" y="180"/><use href="#mcirc" x="201.1" y="180.6"/><use href="#mcirc" x="202.2" y="180.3"/><use href="#mcirc" x="203.3" y="180.4"/><use href="#mcirc" x="204.4" y="180.4"/><use href="#mcirc" x="205.5" y="180.8"/><use href="#mcirc" x="206.6" y="180.2"/><use href="#mcirc" x="207.7" y="179.8"/><use href="#mcirc" x="208.8" y="179.8"/><use href="#mcirc" x="209.9" y="180"/><use href="#mcirc" x="211" y="179.8"/><use href="#mcirc" x="212.1" y="179.5"/><use href="#mcirc" x="213.2" y="180.5"/><use href="#mcirc" x="214.3" y="179.7"/><use href="#mcirc" x="215.4" y="179.6"/><use href="#mcirc" x="216.4" y="179.5"/><use href="#mcirc" x="217.5" y="179.3"/><use href="#mcirc" x="218.6" y="179.5"/><use href="#mcirc" x="219.7" y="179.7"/><use href="#mcirc" x="220.8" y="179.7"/><use href="#mcirc" x="221.9" y="179.6"/><use href="#mcirc" x="223" y="180"/><use href="#mcirc" x="224.1" y="179.8"/><use href="#mcirc" x="225.2" y="179.6"/><use href="#mcirc" x="226.3" y="179.4"/><use href="#mcirc" x="227.4" y="180"/><use href="#mcirc" x="228.5" y="180"/><use href="#mcirc" x="229.6" y="180"/><use href="#mcirc" x="230.7" y="179.7"/><use href="#mcirc" x="231.8" y="180.1"/><use href="#mcirc" x="232.9" y="179.7"/><use href="#mcirc" x="234" y="180.3"/><use href="#mcirc" x="235.1" y="180.1"/><use href="#mcirc" x="236.2" y="180"/><use href="#mcirc" x="237.3" y="179.6"/><use href="#mcirc" x="238.4" y="179.4"/><use href="#mcirc" x="239.5" y="180"/><use href="#mcirc" x="240.6" y="179.8"/><use href="#mcirc" x="241.7" y="179.4"/><use href="#mcirc" x="242.8" y="179.6"/><use href="#mcirc" x="243.9" y="179.8"/><use href="#mcirc" x="245" y="179.1"/><use href="#mcirc" x="246.1" y="179.3"/><use href="#mcirc" x="247.2" y="179.3"/><use href="#mcirc" x="248.3" y="179.6"/><use href="#mcirc" x="249.3" y="179.3"/><use href="#mcirc" x="250.4" y="179.6"/><use href="#mcirc" x="251.5" y="179.3"/><use href="#mcirc" x="252.6" y="179.8"/><use href="#mcirc" x="253.7" y="179.8"/><use href="#mcirc" x="254.8" y="179.5"/><use href="#mcirc" x="255.9" y="179.7"/><use href="#mcirc" x="257" y="179.3"/><use href="#mcirc" x="258.1" y="179.4"/><use href="#mcirc" x="259.2" y="179.8"/><use href="#mcirc" x="260.3" y="179.5"/><use href="#mcirc" x="261.4" y="179.6"/><use href="#mcirc" x="262.5" y="179.3"/><use href="#mcirc" x="263.6" y="179.7"/><use href="#mcirc" x="264.7" y="179.7"/><use href="#mcirc" x="265.8" y="179.3"/><use href="#mcirc" x="266.9" y="179"/><use href="#mcirc" x="268" y="179"/><use href="#mcirc" x="269.1" y="179.5"/><use href="#mcirc" x="270.2" y="179.4"/><use href="#mcirc" x="271.3" y="179.1"/><use href="#mcirc" x="272.4" y="179.5"/><use href="#mcirc" x="273.5" y="179.7"/><use href="#mcirc" x="274.6" y="179.4"/><use href="#mcirc" x="275.7" y="179.4"/><use href="#mcirc" x="276.8" y="179.7"/><use href="#mcirc" x="277.9" y="179.9"/><use href="#mcirc" x="279" y="179.9"/><use href="#mcirc" x="280.1" y="179.3"/><use href="#mcirc" x="281.1" y="179.6"/><use href="#mcirc" x="282.2" y="179.5"/><use href="#mcirc" x="283.3" y="179.4"/><use href="#mcirc" x="284.4" y="179.2"/><use href="#mcirc" x="285.5" y="179.5"/><use href="#mcirc" x="286.6" y="179.2"/><use href="#mcirc" x="287.7" y="179.6"/><use href="#mcirc" x="288.8" y="179.4"/><use href="#mcirc" x="289.9" y="179.5"/><use href="#mcirc" x="291" y="178.9"/><use href="#mcirc" x="292.1" y="179.2"/><use href="#mcirc" x="293.2" y="179.3"/><use href="#mcirc" x="294.3" y="179.2"/><use href="#mcirc" x="295.4" y="179.1"/><use href="#mcirc" x="296.5" y="178.8"/><use href="#mcirc" x="297.6" y="179.3"/><use href="#mcirc" x="298.7" y="179.2"/><use href="#mcirc" x="299.8" y="179"/><use href="#mcirc" x="300.9" y="178.2"/><use href="#mcirc" x="302" y="178.5"/><use href="#mcirc" x="303.1" y="178.8"/><use href="#mcirc" x="304.2" y="178.5"/><use href="#mcirc" x="305.3" y="178.1"/><use href="#mcirc" x="306.4" y="178.7"/><use href="#mcirc" x="307.5" y="178.7"/><use href="#mcirc" x="308.6" y="178.2"/><use href="#mcirc" x="309.7" y="178.4"/><use href="#mcirc" x="310.8" y="178.3"/><use href="#mcirc" x="311.9" y="178.6"/><use href="#mcirc" x="313" y="177.9"/><use href="#mcirc" x="314" y="177.9"/><use href="#mcirc" x="315.1" y="178.2"/><use href="#mcirc" x="316.2" y="178.2"/><use href="#mcirc" x="317.3" y="179"/><use href="#mcirc" x="318.4" y="178.3"/><use href="#mcirc" x="319.5" y="178.6"/><use href="#mcirc" x="320.6" y="178.5"/><use href="#mcirc" x="321.7" y="178.6"/><use href="#mcirc" x="322.8" y="179"/><use href="#mcirc" x="323.9" y="179.4"/><use href="#mcirc" x="325" y="179"/><use href="#mcirc" x="326.1" y="179.3"/><use href="#mcirc" x="327.2" y="179.3"/><use href="#mcirc" x="328.3" y="179.4"/><use href="#mcirc" x="329.4" y="179.4"/><use href="#mcirc" x="330.5" y="180"/><use href="#mcirc" x="331.6" y="179"/><use href="#mcirc" x="332.7" y="179.3"/><use href="#mcirc" x="333.8" y="179"/><use href="#mcirc" x="334.9" y="178.8"/><use href="#mcirc" x="336" y="179.3"/><use href="#mcirc" x="337.1" y="179.8"/><use href="#mcirc" x="338.2" y="179.6"/><use href="#mcirc" x="339.3" y="179.6"/><use href="#mcirc" x="340.4" y="179.4"/><use href="#mcirc" x="341.5" y="179.2"/><use href="#mcirc" x="342.6" y="179.8"/><use href="#mcirc" x="343.7" y="179.1"/><use href="#mcirc" x="344.8" y="179.5"/><use href="#mcirc" x="345.8" y="179"/><use href="#mcirc" x="346.9" y="179"/><use href="#mcirc" x="348" y="179"/><use href="#mcirc" x="349.1" y="178.8"/><use href="#mcirc" x="350.2" y="178.9"/><use href="#mcirc" x="351.3" y="178.9"/><use href="#mcirc" x="352.4" y="179.1"/><use href="#mcirc" x="353.5" y="178.6"/><use href="#mcirc" x="354.6" y="178.1"/><use href="#mcirc" x="355.7" y="178.1"/><use href="#mcirc" x="356.8" y="178.3"/><use href="#mcirc" x="357.9" y="178.5"/><use href="#mcirc" x="359" y="178.9"/><use href="#mcirc" x="360.1" y="178.3"/><use href="#mcirc" x="361.2" y="178.8"/><use href="#mcirc" x="362.3" y="178.9"/><use href="#mcirc" x="363.4" y="179"/><use href="#mcirc" x="364.5" y="179"/><use href="#mcirc" x="365.6" y="179.3"/><use href="#mcirc" x="366.7" y="179.3"/><use href="#mcirc" x="367.8" y="179.6"/><use href="#mcirc" x="368.9" y="179.4"/><use href="#mcirc" x="370" y="178.7"/><use href="#mcirc" x="371.1" y="179.2"/><use href="#mcirc" x="372.2" y="179.2"/><use href="#mcirc" x="373.3" y="178.8"/><use href="#mcirc" x="374.4" y="178.7"/><use href="#mcirc" x="375.5" y="179"/><use href="#mcirc" x="376.6" y="178.7"/><use href="#mcirc" x="377.6" y="178.3"/><use href="#mcirc" x="378.7" y="178.3"/><use href="#mcirc" x="379.8" y="178.3"/><use href="#mcirc" x="380.9" y="177.9"/><use href="#mcirc" x="382" y="178.5"/><use href="#mcirc" x="383.1" y="178.3"/><use href="#mcirc" x="384.2" y="178.5"/><use href="#mcirc" x="385.3" y="178"/><use href="#mcirc" x="386.4" y="178.9"/><use href="#mcirc" x="387.5" y="178.6"/><use href="#mcirc" x="388.6" y="178.5"/><use href="#mcirc" x="389.7" y="178.2"/><use href="#mcirc" x="390.8" y="178.2"/><use href="#mcirc" x="391.9" y="178"/><use href="#mcirc" x="393" y="178.7"/><use href="#mcirc" x="394.1" y="178.1"/><use href="#mcirc" x="395.2" y="178.4"/><use href="#mcirc" x="396.3" y="178.5"/><use href="#mcirc" x="397.4" y="178.2"/><use href="#mcirc" x="398.5" y="178.6"/><use href="#mcirc" x="399.6" y="179"/><use href="#mcirc" x="400.7" y="178.5"/><use href="#mcirc" x="401.8" y="178.8"/><use href="#mcirc" x="402.9" y="178.6"/><use href="#mcirc" x="404" y="178.3"/><use href="#mcirc" x="405.1" y="178.3"/><use href="#mcirc" x="406.2" y="177.9"/><use href="#mcirc" x="407.3" y="178.3"/><use href="#mcirc" x="408.4" y="178.6"/><use href="#mcirc" x="409.5" y="178.3"/><use href="#mcirc" x="410.5" y="178.3"/><use href="#mcirc" x="411.6" y="178.3"/><use href="#mcirc" x="412.7" y="177.9"/><use href="#mcirc" x="413.8" y="178.1"/><use href="#mcirc" x="414.9" y="178.5"/><use href="#mcirc" x="416" y="177.7"/><use href="#mcirc" x="417.1" y="177.9"/><use href="#mcirc" x="418.2" y="177.8"/><use href="#mcirc" x="419.3" y="177.8"/><use href="#mcirc" x="420.4" y="177.7"/><use href="#mcirc" x="421.5" y="177.8"/><use href="#mcirc" x="422.6" y="177.5"/><use href="#mcirc" x="423.7" y="177.7"/><use href="#mcirc" x="424.8" y="177.7"/><use href="#mcirc" x="425.9" y="177.8"/><use href="#mcirc" x="427" y="178.3"/><use href="#mcirc" x="428.1" y="177.9"/><use href="#mcirc" x="429.2" y="178"/><use href="#mcirc" x="430.3" y="177.8"/><use href="#mcirc" x="431.4" y="178.3"/><use href="#mcirc" x="432.5" y="177.5"/><use href="#mcirc" x="433.6" y="178"/><use href="#mcirc" x="434.7" y="178.3"/><use href="#mcirc" x="435.8" y="178.5"/><use href="#mcirc" x="436.9" y="178.2"/><use href="#mcirc" x="438" y="178.1"/><use href="#mcirc" x="439.1" y="178.3"/><use href="#mcirc" x="440.2" y="178.1"/><use href="#mcirc" x="441.3" y="178.3"/><use href="#mcirc" x="442.3" y="177.9"/><use href="#mcirc" x="443.4" y="178.2"/><use href="#mcirc" x="444.5" y="178"/><use href="#mcirc" x="445.6" y="177.6"/><use href="#mcirc" x="446.7" y="177.2"/><use href="#mcirc" x="447.8" y="178"/><use href="#mcirc" x="448.9" y="177.8"/><use href="#mcirc" x="450" y="177.9"/><use href="#mcirc" x="451.1" y="177.4"/><use href="#mcirc" x="452.2" y="177.9"/><use href="#mcirc" x="453.3" y="177.7"/><use href="#mcirc" x="454.4" y="177.6"/><use href="#mcirc" x="455.5" y="177.9"/><use href="#mcirc" x="456.6" y="177.9"/><use href="#mcirc" x="457.7" y="177.8"/><use href="#mcirc" x="458.8" y="178.2"/><use href="#mcirc" x="459.9" y="178"/><use href="#mcirc" x="461" y="177.7"/><use href="#mcirc" x="462.1" y="177.5"/><use href="#mcirc" x="463.2" y="177.5"/><use href="#mcirc" x="464.3" y="177.9"/><use href="#mcirc" x="465.4" y="177.4"/><use href="#mcirc" x="466.5" y="177"/><use href="#mcirc" x="467.6" y="177"/><use href="#mcirc" x="468.7" y="177"/><use href="#mcirc" x="469.8" y="177.2"/><use href="#mcirc" x="470.9" y="176.8"/><use href="#mcirc" x="472" y="177.1"/><use href="#mcirc" x="473.1" y="177.3"/><use href="#mcirc" x="474.2" y="177.3"/><use href="#mcirc" x="475.2" y="176.7"/><use href="#mcirc" x="476.3" y="177"/><use href="#mcirc" x="477.4" y="176.8"/><use href="#mcirc" x="478.5" y="177.2"/><use href="#mcirc" x="479.6" y="176.8"/><use href="#mcirc" x="480.7" y="177.2"/><use href="#mcirc" x="481.8" y="177.1"/><use href="#mcirc" x="482.9" y="176.3"/><use href="#mcirc" x="484" y="176.6"/><use href="#mcirc" x="485.1" y="176.9"/><use href="#mcirc" x="486.2" y="176.7"/><use href="#mcirc" x="487.3" y="176.5"/><use href="#mcirc" x="488.4" y="176.2"/><use href="#mcirc" x="489.5" y="176.7"/><use href="#mcirc" x="490.6" y="177"/><use href="#mcirc" x="491.7" y="176.6"/><use href="#mcirc" x="492.8" y="176.5"/><use href="#mcirc" x="493.9" y="176.6"/><use href="#mcirc" x="495" y="176.3"/><use href="#mcirc" x="496.1" y="176.6"/><use href="#mcirc" x="497.2" y="176.5"/><use href="#mcirc" x="498.3" y="177"/><use href="#mcirc" x="499.4" y="176.4"/><use href="#mcirc" x="500.5" y="176.1"/><use href="#mcirc" x="501.6" y="176.4"/><use href="#mcirc" x="502.7" y="176.4"/><use href="#mcirc" x="503.8" y="176.3"/><use href="#mcirc" x="504.9" y="175.8"/><use href="#mcirc" x="506" y="176.5"/><use href="#mcirc" x="507" y="176.2"/><use href="#mcirc" x="508.1" y="176"/><use href="#mcirc" x="509.2" y="176"/><use href="#mcirc" x="510.3" y="176.3"/><use href="#mcirc" x="511.4" y="176"/><use href="#mcirc" x="512.5" y="176.1"/><use href="#mcirc" x="513.6" y="175.9"/><use href="#mcirc" x="514.7" y="175.9"/><use href="#mcirc" x="515.8" y="176.1"/><use href="#mcirc" x="516.9" y="175.8"/><use href="#mcirc" x="518" y="175.5"/><use href="#mcirc" x="519.1" y="175.9"/><use href="#mcirc" x="520.2" y="175.7"/><use href="#mcirc" x="521.3" y="175.5"/><use href="#mcirc" x="522.4" y="176"/><use href="#mcirc" x="523.5" y="175.6"/><use href="#mcirc" x="524.6" y="176"/><use href="#mcirc" x="525.7" y="175.4"/><use href="#mcirc" x="526.8" y="175.1"/><use href="#mcirc" x="527.9" y="175.2"/><use href="#mcirc" x="529" y="175.8"/><use href="#mcirc" x="530.1" y="175.5"/><use href="#mcirc" x="531.2" y="175.6"/><use href="#mcirc" x="532.3" y="175.6"/><use href="#mcirc" x="533.4" y="175.1"/><use href="#mcirc" x="534.5" y="175.8"/><use href="#mcirc" x="535.6" y="175.2"/><use href="#mcirc" x="536.7" y="175.4"/><use href="#mcirc" x="537.8" y="175"/><use href="#mcirc" x="538.9" y="175.3"/><use href="#mcirc" x="539.9" y="175.5"/><use href="#mcirc" x="541" y="175.2"/><use href="#mcirc" x="542.1" y="175.1"/><use href="#mcirc" x="543.2" y="175.2"/><use href="#mcirc" x="544.3" y="175"/><use href="#mcirc" x="545.4" y="175.2"/><use href="#mcirc" x="546.5" y="175.6"/><use href="#mcirc" x="547.6" y="174.7"/><use href="#mcirc" x="548.7" y="174.7"/><use href="#mcirc" x="549.8" y="174.8"/><use href="#mcirc" x="550.9" y="174.8"/><use href="#mcirc" x="552" y="174.6"/><use href="#mcirc" x="553.1" y="175"/><use href="#mcirc" x="554.2" y="175.1"/><use href="#mcirc" x="555.3" y="175"/><use href="#mcirc" x="556.4" y="174.7"/><use href="#mcirc" x="557.5" y="175.5"/><use href="#mcirc" x="558.6" y="174.8"/><use href="#mcirc" x="559.7" y="175.3"/><use href="#mcirc" x="560.8" y="175.4"/><use href="#mcirc" x="561.9" y="174.9"/><use href="#mcirc" x="563" y="175.2"/><use href="#mcirc" x="564.1" y="175.6"/><use href="#mcirc" x="565.2" y="175.4"/><use href="#mcirc" x="566.3" y="175.1"/><use href="#mcirc" x="567.4" y="175"/><use href="#mcirc" x="568.5" y="175.5"/><use href="#mcirc" x="569.6" y="175.3"/><use href="#mcirc" x="570.7" y="175.2"/><use href="#mcirc" x="571.7" y="175.5"/><use href="#mcirc" x="572.8" y="175.3"/><use href="#mcirc" x="573.9" y="175.3"/><use href="#mcirc" x="575" y="175.4"/><use href="#mcirc" x="576.1" y="175.3"/><use href="#mcirc" x="577.2" y="175.1"/><use href="#mcirc" x="578.3" y="175"/><use href="#mcirc" x="579.4" y="175.1"/><use href="#mcirc" x="580.5" y="175"/><use href="#mcirc" x="581.6" y="174.5"/><use href="#mcirc" x="582.7" y="174.7"/><use href="#mcirc" x="583.8" y="174.5"/><use href="#mcirc" x="584.9" y="174.4"/><use href="#mcirc" x="586" y="174.5"/><use href="#mcirc" x="587.1" y="174"/><use href="#mcirc" x="588.2" y="174.9"/><use href="#mcirc" x="589.3" y="174.4"/><use href="#mcirc" x="590.4" y="174.7"/><use href="#mcirc" x="591.5" y="174.2"/><use href="#mcirc" x="592.6" y="174.2"/><use href="#mcirc" x="593.7" y="175.2"/><use href="#mcirc" x="594.8" y="175"/><use href="#mcirc" x="595.9" y="174.6"/><use href="#mcirc" x="597" y="174.6"/><use href="#mcirc" x="598.1" y="174.7"/><use href="#mcirc" x="599.2" y="175"/><use href="#mcirc" x="600.3" y="174.9"/><use href="#mcirc" x="601.4" y="174.9"/><use href="#mcirc" x="602.5" y="175.1"/><use href="#mcirc" x="603.5" y="174.8"/><use href="#mcirc" x="604.6" y="175.7"/><use href="#mcirc" x="605.7" y="174.9"/><use href="#mcirc" x="606.8" y="175.4"/><use href="#mcirc" x="607.9" y="174.8"/><use href="#mcirc" x="609" y="175.1"/><use href="#mcirc" x="610.1" y="175.3"/><use href="#mcirc" x="611.2" y="174.9"/><use href="#mcirc" x="612.3" y="175.2"/><use href="#mcirc" x="613.4" y="175.2"/><use href="#mcirc" x="614.5" y="175.3"/><use href="#mcirc" x="615.6" y="174.9"/><use href="#mcirc" x="616.7" y="174.7"/><use href="#mcirc" x="617.8" y="174.5"/><use href="#mcirc" x="618.9" y="174.7"/><use href="#mcirc" x="620" y="174.4"/><use href="#mcirc" x="621.1" y="174.6"/><use href="#mcirc" x="622.2" y="174.6"/><use href="#mcirc" x="623.3" y="174.4"/><use href="#mcirc" x="624.4" y="174.3"/><use href="#mcirc" x="625.5" y="174.7"/><use href="#mcirc" x="626.6" y="174.7"/><use href="#mcirc" x="627.7" y="174.8"/><use href="#mcirc" x="628.8" y="174.7"/><use href="#mcirc" x="629.9" y="175.1"/><use href="#mcirc" x="631" y="174.6"/><use href="#mcirc" x="632.1" y="175"/><use href="#mcirc" x="633.2" y="174.8"/><use href="#mcirc" x="634.3" y="175.1"/><use href="#mcirc" x="635.4" y="174.8"/><use href="#mcirc" x="636.4" y="174.9"/><use href="#mcirc" x="637.5" y="175.1"/><use href="#mcirc" x="638.6" y="174.4"/><use href="#mcirc" x="639.7" y="174.8"/><use href="#mcirc" x="640.8" y="174.4"/><use href="#mcirc" x="641.9" y="174.6"/><use href="#mcirc" x="643" y="175.1"/><use href="#mcirc" x="644.1" y="175"/><use href="#mcirc" x="645.2" y="174.7"/><use href="#mcirc" x="646.3" y="174.8"/><use href="#mcirc" x="647.4" y="174.8"/><use href="#mcirc" x="648.5" y="174.9"/><use href="#mcirc" x="649.6" y="175.4"/><use href="#mcirc" x="650.7" y="174.9"/><use href="#mcirc" x="651.8" y="175.5"/></g>
<g fill="#fff" stroke="#2a3af5" stroke-width="1.5" clip-path="url(#cb)"><use href="#mtdown" x="104.6" y="599.6"/><use href="#mtdown" x="105.7" y="530.8"/><use href="#mtdown" x="106.8" y="514.4"/><use href="#mtdown" x="107.9" y="508.6"/><use href="#mtdown" x="109" y="505.6"/><use href="#mtdown" x="110.1" y="504.4"/><use href="#mtdown" x="111.2" y="503.1"/><use href="#mtdown" x="112.3" y="502.2"/><use href="#mtdown" x="113.4" y="502"/><use href="#mtdown" x="114.5" y="501.4"/><use href="#mtdown" x="115.6" y="501.4"/><use href="#mtdown" x="116.7" y="501.8"/><use href="#mtdown" x="117.8" y="501.6"/><use href="#mtdown" x="118.9" y="501.8"/><use href="#mtdown" x="119.9" y="501.4"/><use href="#mtdown" x="121" y="501.8"/><use href="#mtdown" x="122.1" y="501.4"/><use href="#mtdown" x="123.2" y="501.5"/><use href="#mtdown" x="124.3" y="501.4"/><use href="#mtdown" x="125.4" y="501.6"/><use href="#mtdown" x="126.5" y="501.9"/><use href="#mtdown" x="127.6" y="501.1"/><use href="#mtdown" x="128.7" y="501.5"/><use href="#mtdown" x="129.8" y="501.2"/><use href="#mtdown" x="130.9" y="501.3"/><use href="#mtdown" x="132" y="501.2"/><use href="#mtdown" x="133.1" y="500.9"/><use href="#mtdown" x="134.2" y="501.1"/><use href="#mtdown" x="135.3" y="500.8"/><use href="#mtdown" x="136.4" y="501.4"/><use href="#mtdown" x="137.5" y="500.8"/><use href="#mtdown" x="138.6" y="501"/><use href="#mtdown" x="139.7" y="500.9"/><use href="#mtdown" x="140.8" y="500.9"/><use href="#mtdown" x="141.9" y="500.7"/><use href="#mtdown" x="143" y="500.4"/><use href="#mtdown" x="144.1" y="501.2"/><use href="#mtdown" x="145.2" y="500.7"/><use href="#mtdown" x="146.3" y="500.9"/><use href="#mtdown" x="147.4" y="500.5"/><use href="#mtdown" x="148.5" y="500.8"/><use href="#mtdown" x="149.6" y="500.6"/><use href="#mtdown" x="150.7" y="500.8"/><use href="#mtdown" x="151.8" y="500.5"/><use href="#mtdown" x="152.8" y="500.4"/><use href="#mtdown" x="153.9" y="500.8"/><use href="#mtdown" x="155" y="500.7"/><use href="#mtdown" x="156.1" y="501"/><use href="#mtdown" x="157.2" y="500.6"/><use href="#mtdown" x="158.3" y="500.5"/><use href="#mtdown" x="159.4" y="500.8"/><use href="#mtdown" x="160.5" y="500.5"/><use href="#mtdown" x="161.6" y="501.2"/><use href="#mtdown" x="162.7" y="501.2"/><use href="#mtdown" x="163.8" y="501.1"/><use href="#mtdown" x="164.9" y="500.9"/><use href="#mtdown" x="166" y="500.8"/><use href="#mtdown" x="167.1" y="500.9"/><use href="#mtdown" x="168.2" y="500.8"/><use href="#mtdown" x="169.3" y="500.6"/><use href="#mtdown" x="170.4" y="500.9"/><use href="#mtdown" x="171.5" y="501"/><use href="#mtdown" x="172.6" y="501"/><use href="#mtdown" x="173.7" y="500.2"/><use href="#mtdown" x="174.8" y="501.1"/><use href="#mtdown" x="175.9" y="500.6"/><use href="#mtdown" x="177" y="500.2"/><use href="#mtdown" x="178.1" y="500.4"/><use href="#mtdown" x="179.2" y="500.6"/><use href="#mtdown" x="180.3" y="500.4"/><use href="#mtdown" x="181.4" y="500.2"/><use href="#mtdown" x="182.5" y="500.1"/><use href="#mtdown" x="183.6" y="500.5"/><use href="#mtdown" x="184.6" y="500.1"/><use href="#mtdown" x="185.7" y="500.3"/><use href="#mtdown" x="186.8" y="500.1"/><use href="#mtdown" x="187.9" y="500"/><use href="#mtdown" x="189" y="500.5"/><use href="#mtdown" x="190.1" y="500.7"/><use href="#mtdown" x="191.2" y="500.4"/><use href="#mtdown" x="192.3" y="500.1"/><use href="#mtdown" x="193.4" y="500.4"/><use href="#mtdown" x="194.5" y="500.5"/><use href="#mtdown" x="195.6" y="500.1"/><use href="#mtdown" x="196.7" y="500.9"/><use href="#mtdown" x="197.8" y="500.6"/><use href="#mtdown" x="198.9" y="500.9"/><use href="#mtdown" x="200" y="500.8"/><use href="#mtdown" x="201.1" y="500.8"/><use href="#mtdown" x="202.2" y="500.5"/><use href="#mtdown" x="203.3" y="501.1"/><use href="#mtdown" x="204.4" y="501"/><use href="#mtdown" x="205.5" y="501.3"/><use href="#mtdown" x="206.6" y="500.8"/><use href="#mtdown" x="207.7" y="501"/><use href="#mtdown" x="208.8" y="500.8"/><use href="#mtdown" x="209.9" y="501.1"/><use href="#mtdown" x="211" y="501"/><use href="#mtdown" x="212.1" y="500.6"/><use href="#mtdown" x="213.2" y="500.9"/><use href="#mtdown" x="214.3" y="500.7"/><use href="#mtdown" x="215.4" y="500.7"/><use href="#mtdown" x="216.4" y="500.9"/><use href="#mtdown" x="217.5" y="501.2"/><use href="#mtdown" x="218.6" y="500.6"/><use href="#mtdown" x="219.7" y="500.7"/><use href="#mtdown" x="220.8" y="500.5"/><use href="#mtdown" x="221.9" y="501.2"/><use href="#mtdown" x="223" y="501"/><use href="#mtdown" x="224.1" y="501.1"/><use href="#mtdown" x="225.2" y="500.7"/><use href="#mtdown" x="226.3" y="500.2"/><use href="#mtdown" x="227.4" y="500.3"/><use href="#mtdown" x="228.5" y="500.4"/><use href="#mtdown" x="229.6" y="500.3"/><use href="#mtdown" x="230.7" y="500.1"/><use href="#mtdown" x="231.8" y="500.2"/><use href="#mtdown" x="232.9" y="500"/><use href="#mtdown" x="234" y="500.1"/><use href="#mtdown" x="235.1" y="500.6"/><use href="#mtdown" x="236.2" y="500.2"/><use href="#mtdown" x="237.3" y="499.8"/><use href="#mtdown" x="238.4" y="500.2"/><use href="#mtdown" x="239.5" y="500.2"/><use href="#mtdown" x="240.6" y="500.3"/><use href="#mtdown" x="241.7" y="500.4"/><use href="#mtdown" x="242.8" y="500.1"/><use href="#mtdown" x="243.9" y="500.5"/><use href="#mtdown" x="245" y="500.8"/><use href="#mtdown" x="246.1" y="501.3"/><use href="#mtdown" x="247.2" y="500.8"/><use href="#mtdown" x="248.3" y="501.2"/><use href="#mtdown" x="249.3" y="501.3"/><use href="#mtdown" x="250.4" y="500.8"/><use href="#mtdown" x="251.5" y="500.9"/><use href="#mtdown" x="252.6" y="501.5"/><use href="#mtdown" x="253.7" y="500.9"/><use href="#mtdown" x="254.8" y="501.1"/><use href="#mtdown" x="255.9" y="501.4"/><use href="#mtdown" x="257" y="501.1"/><use href="#mtdown" x="258.1" y="501.6"/><use href="#mtdown" x="259.2" y="501.5"/><use href="#mtdown" x="260.3" y="501.6"/><use href="#mtdown" x="261.4" y="501.5"/><use href="#mtdown" x="262.5" y="501"/><use href="#mtdown" x="263.6" y="501.5"/><use href="#mtdown" x="264.7" y="501.5"/><use href="#mtdown" x="265.8" y="501.4"/><use href="#mtdown" x="266.9" y="501.1"/><use href="#mtdown" x="268" y="501.2"/><use href="#mtdown" x="269.1" y="500.9"/><use href="#mtdown" x="270.2" y="501.3"/><use href="#mtdown" x="271.3" y="501.4"/><use href="#mtdown" x="272.4" y="501.3"/><use href="#mtdown" x="273.5" y="501.1"/><use href="#mtdown" x="274.6" y="501.4"/><use href="#mtdown" x="275.7" y="501.1"/><use href="#mtdown" x="276.8" y="500.8"/><use href="#mtdown" x="277.9" y="501.3"/><use href="#mtdown" x="279" y="501.2"/><use href="#mtdown" x="280.1" y="500.9"/><use href="#mtdown" x="281.1" y="501.4"/><use href="#mtdown" x="282.2" y="501.4"/><use href="#mtdown" x="283.3" y="501.4"/><use href="#mtdown" x="284.4" y="501.1"/><use href="#mtdown" x="285.5" y="501.1"/><use href="#mtdown" x="286.6" y="501.2"/><use href="#mtdown" x="287.7" y="501.1"/><use href="#mtdown" x="288.8" y="500.8"/><use href="#mtdown" x="289.9" y="500.9"/><use href="#mtdown" x="291" y="501.3"/><use href="#mtdown" x="292.1" y="501"/><use href="#mtdown" x="293.2" y="501"/><use href="#mtdown" x="294.3" y="500.8"/><use href="#mtdown" x="295.4" y="501.1"/><use href="#mtdown" x="296.5" y="501.1"/><use href="#mtdown" x="297.6" y="501.1"/><use href="#mtdown" x="298.7" y="501.4"/><use href="#mtdown" x="299.8" y="501"/><use href="#mtdown" x="300.9" y="501.1"/><use href="#mtdown" x="302" y="500.9"/><use href="#mtdown" x="303.1" y="501.3"/><use href="#mtdown" x="304.2" y="501.2"/><use href="#mtdown" x="305.3" y="501.3"/><use href="#mtdown" x="306.4" y="501.3"/><use href="#mtdown" x="307.5" y="501"/><use href="#mtdown" x="308.6" y="501.2"/><use href="#mtdown" x="309.7" y="501"/><use href="#mtdown" x="310.8" y="501.4"/><use href="#mtdown" x="311.9" y="501.1"/><use href="#mtdown" x="313" y="501.5"/><use href="#mtdown" x="314" y="501.2"/><use href="#mtdown" x="315.1" y="501.2"/><use href="#mtdown" x="316.2" y="501"/><use href="#mtdown" x="317.3" y="501"/><use href="#mtdown" x="318.4" y="501.1"/><use href="#mtdown" x="319.5" y="500.8"/><use href="#mtdown" x="320.6" y="500.9"/><use href="#mtdown" x="321.7" y="500.8"/><use href="#mtdown" x="322.8" y="500.7"/><use href="#mtdown" x="323.9" y="500.8"/><use href="#mtdown" x="325" y="500.8"/><use href="#mtdown" x="326.1" y="500.7"/><use href="#mtdown" x="327.2" y="500.8"/><use href="#mtdown" x="328.3" y="500.6"/><use href="#mtdown" x="329.4" y="500.4"/><use href="#mtdown" x="330.5" y="500.4"/><use href="#mtdown" x="331.6" y="500.7"/><use href="#mtdown" x="332.7" y="500.9"/><use href="#mtdown" x="333.8" y="500.6"/><use href="#mtdown" x="334.9" y="500.6"/><use href="#mtdown" x="336" y="500.3"/><use href="#mtdown" x="337.1" y="500.7"/><use href="#mtdown" x="338.2" y="500.7"/><use href="#mtdown" x="339.3" y="500.5"/><use href="#mtdown" x="340.4" y="500.8"/><use href="#mtdown" x="341.5" y="500.7"/><use href="#mtdown" x="342.6" y="500.3"/><use href="#mtdown" x="343.7" y="500.4"/><use href="#mtdown" x="344.8" y="500.6"/><use href="#mtdown" x="345.8" y="500.7"/><use href="#mtdown" x="346.9" y="501"/><use href="#mtdown" x="348" y="500.7"/><use href="#mtdown" x="349.1" y="500.9"/><use href="#mtdown" x="350.2" y="500.9"/><use href="#mtdown" x="351.3" y="501.1"/><use href="#mtdown" x="352.4" y="501"/><use href="#mtdown" x="353.5" y="501"/><use href="#mtdown" x="354.6" y="500.9"/><use href="#mtdown" x="355.7" y="500.7"/><use href="#mtdown" x="356.8" y="500.9"/><use href="#mtdown" x="357.9" y="501.3"/><use href="#mtdown" x="359" y="501.1"/><use href="#mtdown" x="360.1" y="501.2"/><use href="#mtdown" x="361.2" y="501"/><use href="#mtdown" x="362.3" y="500.6"/><use href="#mtdown" x="363.4" y="500.6"/><use href="#mtdown" x="364.5" y="500.8"/><use href="#mtdown" x="365.6" y="500.5"/><use href="#mtdown" x="366.7" y="500.7"/><use href="#mtdown" x="367.8" y="500.8"/><use href="#mtdown" x="368.9" y="500.8"/><use href="#mtdown" x="370" y="500.6"/><use href="#mtdown" x="371.1" y="500.1"/><use href="#mtdown" x="372.2" y="500.7"/><use href="#mtdown" x="373.3" y="500.1"/><use href="#mtdown" x="374.4" y="500.1"/><use href="#mtdown" x="375.5" y="500.5"/><use href="#mtdown" x="376.6" y="500.5"/><use href="#mtdown" x="377.6" y="500.7"/><use href="#mtdown" x="378.7" y="500.6"/><use href="#mtdown" x="379.8" y="500.6"/><use href="#mtdown" x="380.9" y="500.8"/><use href="#mtdown" x="382" y="500.6"/><use href="#mtdown" x="383.1" y="500.7"/><use href="#mtdown" x="384.2" y="500.9"/><use href="#mtdown" x="385.3" y="501"/><use href="#mtdown" x="386.4" y="501.1"/><use href="#mtdown" x="387.5" y="501"/><use href="#mtdown" x="388.6" y="501.3"/><use href="#mtdown" x="389.7" y="501"/><use href="#mtdown" x="390.8" y="501"/><use href="#mtdown" x="391.9" y="501.2"/><use href="#mtdown" x="393" y="500.5"/><use href="#mtdown" x="394.1" y="501.1"/><use href="#mtdown" x="395.2" y="501.1"/><use href="#mtdown" x="396.3" y="500.7"/><use href="#mtdown" x="397.4" y="501.2"/><use href="#mtdown" x="398.5" y="500.9"/><use href="#mtdown" x="399.6" y="501"/><use href="#mtdown" x="400.7" y="500.9"/><use href="#mtdown" x="401.8" y="500.7"/><use href="#mtdown" x="402.9" y="500.5"/><use href="#mtdown" x="404" y="500.3"/><use href="#mtdown" x="405.1" y="500.4"/><use href="#mtdown" x="406.2" y="500.3"/><use href="#mtdown" x="407.3" y="500.4"/><use href="#mtdown" x="408.4" y="500.6"/><use href="#mtdown" x="409.5" y="500.3"/><use href="#mtdown" x="410.5" y="500.6"/><use href="#mtdown" x="411.6" y="500.6"/><use href="#mtdown" x="412.7" y="500.1"/><use href="#mtdown" x="413.8" y="500.3"/><use href="#mtdown" x="414.9" y="500.4"/><use href="#mtdown" x="416" y="500.3"/><use href="#mtdown" x="417.1" y="500.3"/><use href="#mtdown" x="418.2" y="500.8"/><use href="#mtdown" x="419.3" y="500.5"/><use href="#mtdown" x="420.4" y="500.7"/><use href="#mtdown" x="421.5" y="500.5"/><use href="#mtdown" x="422.6" y="500.7"/><use href="#mtdown" x="423.7" y="500.2"/><use href="#mtdown" x="424.8" y="500.4"/><use href="#mtdown" x="425.9" y="500.7"/><use href="#mtdown" x="427" y="500.6"/><use href="#mtdown" x="428.1" y="500.9"/><use href="#mtdown" x="429.2" y="500.6"/><use href="#mtdown" x="430.3" y="500.5"/><use href="#mtdown" x="431.4" y="500.6"/><use href="#mtdown" x="432.5" y="501.1"/><use href="#mtdown" x="433.6" y="500.7"/><use href="#mtdown" x="434.7" y="500.6"/><use href="#mtdown" x="435.8" y="500.6"/><use href="#mtdown" x="436.9" y="500.5"/><use href="#mtdown" x="438" y="501"/><use href="#mtdown" x="439.1" y="500.7"/><use href="#mtdown" x="440.2" y="500.9"/><use href="#mtdown" x="441.3" y="500.8"/><use href="#mtdown" x="442.3" y="500.7"/><use href="#mtdown" x="443.4" y="500.7"/><use href="#mtdown" x="444.5" y="501"/><use href="#mtdown" x="445.6" y="500.9"/><use href="#mtdown" x="446.7" y="501.2"/><use href="#mtdown" x="447.8" y="501.3"/><use href="#mtdown" x="448.9" y="500.9"/><use href="#mtdown" x="450" y="501.1"/><use href="#mtdown" x="451.1" y="501.4"/><use href="#mtdown" x="452.2" y="501.3"/><use href="#mtdown" x="453.3" y="501.1"/><use href="#mtdown" x="454.4" y="500.7"/><use href="#mtdown" x="455.5" y="500.8"/><use href="#mtdown" x="456.6" y="500.9"/><use href="#mtdown" x="457.7" y="501.5"/><use href="#mtdown" x="458.8" y="501.1"/><use href="#mtdown" x="459.9" y="500.9"/><use href="#mtdown" x="461" y="500.9"/><use href="#mtdown" x="462.1" y="500.8"/><use href="#mtdown" x="463.2" y="500.9"/><use href="#mtdown" x="464.3" y="500.5"/><use href="#mtdown" x="465.4" y="500.6"/><use href="#mtdown" x="466.5" y="500.9"/><use href="#mtdown" x="467.6" y="501.1"/><use href="#mtdown" x="468.7" y="500.4"/><use href="#mtdown" x="469.8" y="501"/><use href="#mtdown" x="470.9" y="500.6"/><use href="#mtdown" x="472" y="500.5"/><use href="#mtdown" x="473.1" y="501.1"/><use href="#mtdown" x="474.2" y="500.9"/><use href="#mtdown" x="475.2" y="501"/><use href="#mtdown" x="476.3" y="500.8"/><use href="#mtdown" x="477.4" y="500.9"/><use href="#mtdown" x="478.5" y="500.5"/><use href="#mtdown" x="479.6" y="500.8"/><use href="#mtdown" x="480.7" y="500.9"/><use href="#mtdown" x="481.8" y="500.7"/><use href="#mtdown" x="482.9" y="500.9"/><use href="#mtdown" x="484" y="500.9"/><use href="#mtdown" x="485.1" y="500.3"/><use href="#mtdown" x="486.2" y="500.9"/><use href="#mtdown" x="487.3" y="500.8"/><use href="#mtdown" x="488.4" y="500.7"/><use href="#mtdown" x="489.5" y="500.9"/><use href="#mtdown" x="490.6" y="501.1"/><use href="#mtdown" x="491.7" y="500.4"/><use href="#mtdown" x="492.8" y="500.8"/><use href="#mtdown" x="493.9" y="500.7"/><use href="#mtdown" x="495" y="500.7"/><use href="#mtdown" x="496.1" y="500.9"/><use href="#mtdown" x="497.2" y="500.9"/><use href="#mtdown" x="498.3" y="500.7"/><use href="#mtdown" x="499.4" y="500.2"/><use href="#mtdown" x="500.5" y="500.7"/><use href="#mtdown" x="501.6" y="500.7"/><use href="#mtdown" x="502.7" y="501.3"/><use href="#mtdown" x="503.8" y="501"/><use href="#mtdown" x="504.9" y="501.3"/><use href="#mtdown" x="506" y="500.9"/><use href="#mtdown" x="507" y="501.1"/><use href="#mtdown" x="508.1" y="501.1"/><use href="#mtdown" x="509.2" y="501.1"/><use href="#mtdown" x="510.3" y="501.2"/><use href="#mtdown" x="511.4" y="501.4"/><use href="#mtdown" x="512.5" y="500.9"/><use href="#mtdown" x="513.6" y="501.3"/><use href="#mtdown" x="514.7" y="501.2"/><use href="#mtdown" x="515.8" y="501"/><use href="#mtdown" x="516.9" y="501"/><use href="#mtdown" x="518" y="500.7"/><use href="#mtdown" x="519.1" y="500.5"/><use href="#mtdown" x="520.2" y="500.7"/><use href="#mtdown" x="521.3" y="500.7"/><use href="#mtdown" x="522.4" y="500.7"/><use href="#mtdown" x="523.5" y="500.5"/><use href="#mtdown" x="524.6" y="501.1"/><use href="#mtdown" x="525.7" y="500.6"/><use href="#mtdown" x="526.8" y="500.9"/><use href="#mtdown" x="527.9" y="501"/><use href="#mtdown" x="529" y="500.7"/><use href="#mtdown" x="530.1" y="500.8"/><use href="#mtdown" x="531.2" y="500.5"/><use href="#mtdown" x="532.3" y="500.4"/><use href="#mtdown" x="533.4" y="501.2"/><use href="#mtdown" x="534.5" y="500.7"/><use href="#mtdown" x="535.6" y="500.2"/><use href="#mtdown" x="536.7" y="500.5"/><use href="#mtdown" x="537.8" y="500.4"/><use href="#mtdown" x="538.9" y="500.7"/><use href="#mtdown" x="539.9" y="501"/><use href="#mtdown" x="541" y="500.9"/><use href="#mtdown" x="542.1" y="500.5"/><use href="#mtdown" x="543.2" y="500.4"/><use href="#mtdown" x="544.3" y="500.8"/><use href="#mtdown" x="545.4" y="500.7"/><use href="#mtdown" x="546.5" y="500.6"/><use href="#mtdown" x="547.6" y="501.1"/><use href="#mtdown" x="548.7" y="500.8"/><use href="#mtdown" x="549.8" y="500.4"/><use href="#mtdown" x="550.9" y="500.2"/><use href="#mtdown" x="552" y="500.8"/><use href="#mtdown" x="553.1" y="500.4"/><use href="#mtdown" x="554.2" y="501"/><use href="#mtdown" x="555.3" y="501.1"/><use href="#mtdown" x="556.4" y="501.4"/><use href="#mtdown" x="557.5" y="500.8"/><use href="#mtdown" x="558.6" y="501.1"/><use href="#mtdown" x="559.7" y="500.6"/><use href="#mtdown" x="560.8" y="501.1"/><use href="#mtdown" x="561.9" y="501.1"/><use href="#mtdown" x="563" y="501.6"/><use href="#mtdown" x="564.1" y="500.9"/><use href="#mtdown" x="565.2" y="501.3"/><use href="#mtdown" x="566.3" y="501.3"/><use href="#mtdown" x="567.4" y="501.8"/><use href="#mtdown" x="568.5" y="501.1"/><use href="#mtdown" x="569.6" y="501"/><use href="#mtdown" x="570.7" y="501.4"/><use href="#mtdown" x="571.7" y="501.2"/><use href="#mtdown" x="572.8" y="501.1"/><use href="#mtdown" x="573.9" y="500.9"/><use href="#mtdown" x="575" y="501.1"/><use href="#mtdown" x="576.1" y="500.7"/><use href="#mtdown" x="577.2" y="501.1"/><use href="#mtdown" x="578.3" y="501.1"/><use href="#mtdown" x="579.4" y="501.1"/><use href="#mtdown" x="580.5" y="501.5"/><use href="#mtdown" x="581.6" y="501.1"/><use href="#mtdown" x="582.7" y="500.6"/><use href="#mtdown" x="583.8" y="500.8"/><use href="#mtdown" x="584.9" y="501"/><use href="#mtdown" x="586" y="500.8"/><use href="#mtdown" x="587.1" y="501.3"/><use href="#mtdown" x="588.2" y="500.9"/><use href="#mtdown" x="589.3" y="500.7"/><use href="#mtdown" x="590.4" y="500.6"/><use href="#mtdown" x="591.5" y="501"/><use href="#mtdown" x="592.6" y="500.6"/><use href="#mtdown" x="593.7" y="500.4"/><use href="#mtdown" x="594.8" y="500.9"/><use href="#mtdown" x="595.9" y="500.6"/><use href="#mtdown" x="597" y="501.1"/><use href="#mtdown" x="598.1" y="501.2"/><use href="#mtdown" x="599.2" y="500.5"/><use href="#mtdown" x="600.3" y="500.6"/><use href="#mtdown" x="601.4" y="500.6"/><use href="#mtdown" x="602.5" y="500.7"/><use href="#mtdown" x="603.5" y="500.6"/><use href="#mtdown" x="604.6" y="500.4"/><use href="#mtdown" x="605.7" y="500.1"/><use href="#mtdown" x="606.8" y="500.5"/><use href="#mtdown" x="607.9" y="500.8"/><use href="#mtdown" x="609" y="500.2"/><use href="#mtdown" x="610.1" y="500.3"/><use href="#mtdown" x="611.2" y="500.2"/><use href="#mtdown" x="612.3" y="500.3"/><use href="#mtdown" x="613.4" y="499.8"/><use href="#mtdown" x="614.5" y="500.3"/><use href="#mtdown" x="615.6" y="500.2"/><use href="#mtdown" x="616.7" y="500.8"/><use href="#mtdown" x="617.8" y="500.5"/><use href="#mtdown" x="618.9" y="500.5"/><use href="#mtdown" x="620" y="500.4"/><use href="#mtdown" x="621.1" y="500.3"/><use href="#mtdown" x="622.2" y="500.6"/><use href="#mtdown" x="623.3" y="500.1"/><use href="#mtdown" x="624.4" y="500.7"/><use href="#mtdown" x="625.5" y="500.6"/><use href="#mtdown" x="626.6" y="500.5"/><use href="#mtdown" x="627.7" y="500.9"/><use href="#mtdown" x="628.8" y="500.6"/><use href="#mtdown" x="629.9" y="500.6"/><use href="#mtdown" x="631" y="500.9"/><use href="#mtdown" x="632.1" y="500.4"/><use href="#mtdown" x="633.2" y="500.8"/><use href="#mtdown" x="634.3" y="500.8"/><use href="#mtdown" x="635.4" y="501.1"/><use href="#mtdown" x="636.4" y="501.3"/><use href="#mtdown" x="637.5" y="501.1"/><use href="#mtdown" x="638.6" y="501"/><use href="#mtdown" x="639.7" y="501"/><use href="#mtdown" x="640.8" y="500.6"/><use href="#mtdown" x="641.9" y="501.3"/><use href="#mtdown" x="643" y="500.9"/><use href="#mtdown" x="644.1" y="501"/><use href="#mtdown" x="645.2" y="500.2"/><use href="#mtdown" x="646.3" y="500.6"/><use href="#mtdown" x="647.4" y="500.5"/><use href="#mtdown" x="648.5" y="500.6"/><use href="#mtdown" x="649.6" y="500.1"/><use href="#mtdown" x="650.7" y="500.4"/><use href="#mtdown" x="651.8" y="500.3"/></g>
<g fill="#fff" stroke="#f51a1a" stroke-width="1.2" clip-path="url(#cb)"><use href="#msq" x="104.6" y="674"/><use href="#msq" x="105.7" y="673"/><use href="#msq" x="106.8" y="672.8"/><use href="#msq" x="107.9" y="663.8"/><use href="#msq" x="109" y="657.9"/><use href="#msq" x="110.1" y="653.2"/><use href="#msq" x="111.2" y="649.4"/><use href="#msq" x="112.3" y="647"/><use href="#msq" x="113.4" y="645"/><use href="#msq" x="114.5" y="643.1"/><use href="#msq" x="115.6" y="641.8"/><use href="#msq" x="116.7" y="641"/><use href="#msq" x="117.8" y="640.1"/><use href="#msq" x="118.9" y="639.5"/><use href="#msq" x="119.9" y="638.8"/><use href="#msq" x="121" y="637.6"/><use href="#msq" x="122.1" y="638.6"/><use href="#msq" x="123.2" y="637.9"/><use href="#msq" x="124.3" y="639.8"/><use href="#msq" x="125.4" y="638.6"/><use href="#msq" x="126.5" y="638.4"/><use href="#msq" x="127.6" y="638.5"/><use href="#msq" x="128.7" y="638.9"/><use href="#msq" x="129.8" y="638.6"/><use href="#msq" x="130.9" y="638.1"/><use href="#msq" x="132" y="638.4"/><use href="#msq" x="133.1" y="637.9"/><use href="#msq" x="134.2" y="638.1"/><use href="#msq" x="135.3" y="638.1"/><use href="#msq" x="136.4" y="638.1"/><use href="#msq" x="137.5" y="638.6"/><use href="#msq" x="138.6" y="638.6"/><use href="#msq" x="139.7" y="637.5"/><use href="#msq" x="140.8" y="637.7"/><use href="#msq" x="141.9" y="637.7"/><use href="#msq" x="143" y="637.8"/><use href="#msq" x="144.1" y="637.4"/><use href="#msq" x="145.2" y="637.6"/><use href="#msq" x="146.3" y="637.9"/><use href="#msq" x="147.4" y="638"/><use href="#msq" x="148.5" y="636.8"/><use href="#msq" x="149.6" y="637.2"/><use href="#msq" x="150.7" y="637.6"/><use href="#msq" x="151.8" y="638.2"/><use href="#msq" x="152.8" y="637.8"/><use href="#msq" x="153.9" y="637.7"/><use href="#msq" x="155" y="637.3"/><use href="#msq" x="156.1" y="637.9"/><use href="#msq" x="157.2" y="637.6"/><use href="#msq" x="158.3" y="637.8"/><use href="#msq" x="159.4" y="638.2"/><use href="#msq" x="160.5" y="637.3"/><use href="#msq" x="161.6" y="637.8"/><use href="#msq" x="162.7" y="636.8"/><use href="#msq" x="163.8" y="637.7"/><use href="#msq" x="164.9" y="636.8"/><use href="#msq" x="166" y="637.1"/><use href="#msq" x="167.1" y="637.6"/><use href="#msq" x="168.2" y="638.1"/><use href="#msq" x="169.3" y="637.5"/><use href="#msq" x="170.4" y="637.6"/><use href="#msq" x="171.5" y="637.3"/><use href="#msq" x="172.6" y="637.2"/><use href="#msq" x="173.7" y="637.1"/><use href="#msq" x="174.8" y="636.5"/><use href="#msq" x="175.9" y="636.8"/><use href="#msq" x="177" y="637.2"/><use href="#msq" x="178.1" y="637.2"/><use href="#msq" x="179.2" y="637"/><use href="#msq" x="180.3" y="636.9"/><use href="#msq" x="181.4" y="636.8"/><use href="#msq" x="182.5" y="636.7"/><use href="#msq" x="183.6" y="637"/><use href="#msq" x="184.6" y="637.4"/><use href="#msq" x="185.7" y="637.5"/><use href="#msq" x="186.8" y="636.7"/><use href="#msq" x="187.9" y="637.2"/><use href="#msq" x="189" y="636.5"/><use href="#msq" x="190.1" y="636.7"/><use href="#msq" x="191.2" y="636.5"/><use href="#msq" x="192.3" y="636.7"/><use href="#msq" x="193.4" y="636.7"/><use href="#msq" x="194.5" y="636.9"/><use href="#msq" x="195.6" y="636.6"/><use href="#msq" x="196.7" y="637.2"/><use href="#msq" x="197.8" y="637.4"/><use href="#msq" x="198.9" y="636.8"/><use href="#msq" x="200" y="636.4"/><use href="#msq" x="201.1" y="637.4"/><use href="#msq" x="202.2" y="636.2"/><use href="#msq" x="203.3" y="637.3"/><use href="#msq" x="204.4" y="636.7"/><use href="#msq" x="205.5" y="637.2"/><use href="#msq" x="206.6" y="637.6"/><use href="#msq" x="207.7" y="637.3"/><use href="#msq" x="208.8" y="637.2"/><use href="#msq" x="209.9" y="636.7"/><use href="#msq" x="211" y="637.4"/><use href="#msq" x="212.1" y="637.2"/><use href="#msq" x="213.2" y="637.7"/><use href="#msq" x="214.3" y="637.9"/><use href="#msq" x="215.4" y="637.5"/><use href="#msq" x="216.4" y="637.8"/><use href="#msq" x="217.5" y="637.1"/><use href="#msq" x="218.6" y="637.5"/><use href="#msq" x="219.7" y="636.7"/><use href="#msq" x="220.8" y="637.2"/><use href="#msq" x="221.9" y="637.5"/><use href="#msq" x="223" y="638"/><use href="#msq" x="224.1" y="637.8"/><use href="#msq" x="225.2" y="638.3"/><use href="#msq" x="226.3" y="638.2"/><use href="#msq" x="227.4" y="638.3"/><use href="#msq" x="228.5" y="637.8"/><use href="#msq" x="229.6" y="637"/><use href="#msq" x="230.7" y="638"/><use href="#msq" x="231.8" y="638.1"/><use href="#msq" x="232.9" y="637.9"/><use href="#msq" x="234" y="637.8"/><use href="#msq" x="235.1" y="637.1"/><use href="#msq" x="236.2" y="637.4"/><use href="#msq" x="237.3" y="637.5"/><use href="#msq" x="238.4" y="636.9"/><use href="#msq" x="239.5" y="636.3"/><use href="#msq" x="240.6" y="637.6"/><use href="#msq" x="241.7" y="637.3"/><use href="#msq" x="242.8" y="637.6"/><use href="#msq" x="243.9" y="637.6"/><use href="#msq" x="245" y="637.4"/><use href="#msq" x="246.1" y="638"/><use href="#msq" x="247.2" y="637.2"/><use href="#msq" x="248.3" y="638"/><use href="#msq" x="249.3" y="637.9"/><use href="#msq" x="250.4" y="637.2"/><use href="#msq" x="251.5" y="637.2"/><use href="#msq" x="252.6" y="637.7"/><use href="#msq" x="253.7" y="637.6"/><use href="#msq" x="254.8" y="636.8"/><use href="#msq" x="255.9" y="637.4"/><use href="#msq" x="257" y="637.6"/><use href="#msq" x="258.1" y="637.7"/><use href="#msq" x="259.2" y="637.6"/><use href="#msq" x="260.3" y="637.6"/><use href="#msq" x="261.4" y="637.3"/><use href="#msq" x="262.5" y="637.6"/><use href="#msq" x="263.6" y="638.3"/><use href="#msq" x="264.7" y="637.6"/><use href="#msq" x="265.8" y="637.7"/><use href="#msq" x="266.9" y="637.8"/><use href="#msq" x="268" y="637.7"/><use href="#msq" x="269.1" y="637.5"/><use href="#msq" x="270.2" y="637.6"/><use href="#msq" x="271.3" y="637.9"/><use href="#msq" x="272.4" y="638"/><use href="#msq" x="273.5" y="637.5"/><use href="#msq" x="274.6" y="637.2"/><use href="#msq" x="275.7" y="637.1"/><use href="#msq" x="276.8" y="637.8"/><use href="#msq" x="277.9" y="638.3"/><use href="#msq" x="279" y="638.2"/><use href="#msq" x="280.1" y="637.9"/><use href="#msq" x="281.1" y="637.8"/><use href="#msq" x="282.2" y="638.7"/><use href="#msq" x="283.3" y="637.9"/><use href="#msq" x="284.4" y="637.7"/><use href="#msq" x="285.5" y="637.8"/><use href="#msq" x="286.6" y="637.5"/><use href="#msq" x="287.7" y="637.5"/><use href="#msq" x="288.8" y="638.5"/><use href="#msq" x="289.9" y="637.6"/><use href="#msq" x="291" y="637.1"/><use href="#msq" x="292.1" y="637.5"/><use href="#msq" x="293.2" y="637.9"/><use href="#msq" x="294.3" y="637.5"/><use href="#msq" x="295.4" y="637.9"/><use href="#msq" x="296.5" y="637.1"/><use href="#msq" x="297.6" y="638"/><use href="#msq" x="298.7" y="637.8"/><use href="#msq" x="299.8" y="637.7"/><use href="#msq" x="300.9" y="637.9"/><use href="#msq" x="302" y="638.3"/><use href="#msq" x="303.1" y="638.3"/><use href="#msq" x="304.2" y="637.9"/><use href="#msq" x="305.3" y="638"/><use href="#msq" x="306.4" y="638.2"/><use href="#msq" x="307.5" y="638.5"/><use href="#msq" x="308.6" y="637.6"/><use href="#msq" x="309.7" y="638.2"/><use href="#msq" x="310.8" y="637.9"/><use href="#msq" x="311.9" y="638"/><use href="#msq" x="313" y="637.4"/><use href="#msq" x="314" y="637.4"/><use href="#msq" x="315.1" y="638.4"/><use href="#msq" x="316.2" y="637.7"/><use href="#msq" x="317.3" y="636.7"/><use href="#msq" x="318.4" y="636.9"/><use href="#msq" x="319.5" y="636.7"/><use href="#msq" x="320.6" y="637.1"/><use href="#msq" x="321.7" y="636.4"/><use href="#msq" x="322.8" y="636.9"/><use href="#msq" x="323.9" y="636.3"/><use href="#msq" x="325" y="636.8"/><use href="#msq" x="326.1" y="636.7"/><use href="#msq" x="327.2" y="637.3"/><use href="#msq" x="328.3" y="637.4"/><use href="#msq" x="329.4" y="637.5"/><use href="#msq" x="330.5" y="637"/><use href="#msq" x="331.6" y="637.6"/><use href="#msq" x="332.7" y="637.3"/><use href="#msq" x="333.8" y="636.9"/><use href="#msq" x="334.9" y="637.1"/><use href="#msq" x="336" y="637.5"/><use href="#msq" x="337.1" y="637.2"/><use href="#msq" x="338.2" y="637.6"/><use href="#msq" x="339.3" y="636.4"/><use href="#msq" x="340.4" y="637.2"/><use href="#msq" x="341.5" y="636.9"/><use href="#msq" x="342.6" y="637.4"/><use href="#msq" x="343.7" y="638.2"/><use href="#msq" x="344.8" y="637.4"/><use href="#msq" x="345.8" y="638.3"/><use href="#msq" x="346.9" y="637.5"/><use href="#msq" x="348" y="637.4"/><use href="#msq" x="349.1" y="637.9"/><use href="#msq" x="350.2" y="637.5"/><use href="#msq" x="351.3" y="636.9"/><use href="#msq" x="352.4" y="637.8"/><use href="#msq" x="353.5" y="637.2"/><use href="#msq" x="354.6" y="637.4"/><use href="#msq" x="355.7" y="637.5"/><use href="#msq" x="356.8" y="637.7"/><use href="#msq" x="357.9" y="637.3"/><use href="#msq" x="359" y="636.7"/><use href="#msq" x="360.1" y="638"/><use href="#msq" x="361.2" y="637.6"/><use href="#msq" x="362.3" y="637.8"/><use href="#msq" x="363.4" y="637.7"/><use href="#msq" x="364.5" y="638.3"/><use href="#msq" x="365.6" y="638.2"/><use href="#msq" x="366.7" y="637.7"/><use href="#msq" x="367.8" y="638.4"/><use href="#msq" x="368.9" y="638"/><use href="#msq" x="370" y="638"/><use href="#msq" x="371.1" y="637.9"/><use href="#msq" x="372.2" y="637.4"/><use href="#msq" x="373.3" y="637.2"/><use href="#msq" x="374.4" y="637.4"/><use href="#msq" x="375.5" y="637.5"/><use href="#msq" x="376.6" y="637.3"/><use href="#msq" x="377.6" y="637.7"/><use href="#msq" x="378.7" y="637.6"/><use href="#msq" x="379.8" y="637.5"/><use href="#msq" x="380.9" y="637.7"/><use href="#msq" x="382" y="638"/><use href="#msq" x="383.1" y="638.3"/><use href="#msq" x="384.2" y="638.6"/><use href="#msq" x="385.3" y="638.1"/><use href="#msq" x="386.4" y="638.6"/><use href="#msq" x="387.5" y="637.3"/><use href="#msq" x="388.6" y="638.1"/><use href="#msq" x="389.7" y="637.7"/><use href="#msq" x="390.8" y="637.2"/><use href="#msq" x="391.9" y="637.8"/><use href="#msq" x="393" y="637.6"/><use href="#msq" x="394.1" y="636.5"/><use href="#msq" x="395.2" y="637.8"/><use href="#msq" x="396.3" y="637.8"/><use href="#msq" x="397.4" y="636.9"/><use href="#msq" x="398.5" y="637.9"/><use href="#msq" x="399.6" y="637.6"/><use href="#msq" x="400.7" y="637.3"/><use href="#msq" x="401.8" y="636.7"/><use href="#msq" x="402.9" y="637.5"/><use href="#msq" x="404" y="637.2"/><use href="#msq" x="405.1" y="636.9"/><use href="#msq" x="406.2" y="637.2"/><use href="#msq" x="407.3" y="637.9"/><use href="#msq" x="408.4" y="637.2"/><use href="#msq" x="409.5" y="637.1"/><use href="#msq" x="410.5" y="637.2"/><use href="#msq" x="411.6" y="636.3"/><use href="#msq" x="412.7" y="636.9"/><use href="#msq" x="413.8" y="637.1"/><use href="#msq" x="414.9" y="636.7"/><use href="#msq" x="416" y="637.3"/><use href="#msq" x="417.1" y="637"/><use href="#msq" x="418.2" y="637"/><use href="#msq" x="419.3" y="637.1"/><use href="#msq" x="420.4" y="636.9"/><use href="#msq" x="421.5" y="637.3"/><use href="#msq" x="422.6" y="636.9"/><use href="#msq" x="423.7" y="636.7"/><use href="#msq" x="424.8" y="637.6"/><use href="#msq" x="425.9" y="637.4"/><use href="#msq" x="427" y="638.5"/><use href="#msq" x="428.1" y="637.6"/><use href="#msq" x="429.2" y="637.8"/><use href="#msq" x="430.3" y="637.8"/><use href="#msq" x="431.4" y="637.7"/><use href="#msq" x="432.5" y="637.3"/><use href="#msq" x="433.6" y="637.6"/><use href="#msq" x="434.7" y="637.1"/><use href="#msq" x="435.8" y="637.4"/><use href="#msq" x="436.9" y="636.6"/><use href="#msq" x="438" y="637.2"/><use href="#msq" x="439.1" y="636.7"/><use href="#msq" x="440.2" y="636.8"/><use href="#msq" x="441.3" y="636.8"/><use href="#msq" x="442.3" y="638"/><use href="#msq" x="443.4" y="637.1"/><use href="#msq" x="444.5" y="637.6"/><use href="#msq" x="445.6" y="637.4"/><use href="#msq" x="446.7" y="637.4"/><use href="#msq" x="447.8" y="637.3"/><use href="#msq" x="448.9" y="638.5"/><use href="#msq" x="450" y="637.5"/><use href="#msq" x="451.1" y="638.3"/><use href="#msq" x="452.2" y="637.5"/><use href="#msq" x="453.3" y="638.5"/><use href="#msq" x="454.4" y="638.2"/><use href="#msq" x="455.5" y="638.5"/><use href="#msq" x="456.6" y="637.4"/><use href="#msq" x="457.7" y="638.2"/><use href="#msq" x="458.8" y="637.8"/><use href="#msq" x="459.9" y="638"/><use href="#msq" x="461" y="637.8"/><use href="#msq" x="462.1" y="637.6"/><use href="#msq" x="463.2" y="637.1"/><use href="#msq" x="464.3" y="637.5"/><use href="#msq" x="465.4" y="637.1"/><use href="#msq" x="466.5" y="637.6"/><use href="#msq" x="467.6" y="637.5"/><use href="#msq" x="468.7" y="637.9"/><use href="#msq" x="469.8" y="637.4"/><use href="#msq" x="470.9" y="637.3"/><use href="#msq" x="472" y="637.5"/><use href="#msq" x="473.1" y="638.2"/><use href="#msq" x="474.2" y="638.3"/><use href="#msq" x="475.2" y="638"/><use href="#msq" x="476.3" y="637.5"/><use href="#msq" x="477.4" y="638.5"/><use href="#msq" x="478.5" y="638.2"/><use href="#msq" x="479.6" y="638.2"/><use href="#msq" x="480.7" y="638.1"/><use href="#msq" x="481.8" y="637.8"/><use href="#msq" x="482.9" y="638.8"/><use href="#msq" x="484" y="637.9"/><use href="#msq" x="485.1" y="637.5"/><use href="#msq" x="486.2" y="638"/><use href="#msq" x="487.3" y="638.2"/><use href="#msq" x="488.4" y="637.3"/><use href="#msq" x="489.5" y="637.2"/><use href="#msq" x="490.6" y="638.3"/><use href="#msq" x="491.7" y="638.6"/><use href="#msq" x="492.8" y="636.9"/><use href="#msq" x="493.9" y="637"/><use href="#msq" x="495" y="637.6"/><use href="#msq" x="496.1" y="638.2"/><use href="#msq" x="497.2" y="637"/><use href="#msq" x="498.3" y="637"/><use href="#msq" x="499.4" y="636.9"/><use href="#msq" x="500.5" y="636.9"/><use href="#msq" x="501.6" y="637.4"/><use href="#msq" x="502.7" y="637.9"/><use href="#msq" x="503.8" y="636.7"/><use href="#msq" x="504.9" y="637"/><use href="#msq" x="506" y="638.3"/><use href="#msq" x="507" y="637.6"/><use href="#msq" x="508.1" y="637.1"/><use href="#msq" x="509.2" y="637.6"/><use href="#msq" x="510.3" y="638.3"/><use href="#msq" x="511.4" y="638.1"/><use href="#msq" x="512.5" y="638"/><use href="#msq" x="513.6" y="638.3"/><use href="#msq" x="514.7" y="638.1"/><use href="#msq" x="515.8" y="638.2"/><use href="#msq" x="516.9" y="638.5"/><use href="#msq" x="518" y="638.2"/><use href="#msq" x="519.1" y="638.6"/><use href="#msq" x="520.2" y="638.6"/><use href="#msq" x="521.3" y="638.3"/><use href="#msq" x="522.4" y="638"/><use href="#msq" x="523.5" y="638.1"/><use href="#msq" x="524.6" y="638.5"/><use href="#msq" x="525.7" y="638"/><use href="#msq" x="526.8" y="637.9"/><use href="#msq" x="527.9" y="637.8"/><use href="#msq" x="529" y="637.8"/><use href="#msq" x="530.1" y="637.3"/><use href="#msq" x="531.2" y="637.1"/><use href="#msq" x="532.3" y="637.8"/><use href="#msq" x="533.4" y="637.6"/><use href="#msq" x="534.5" y="636.9"/><use href="#msq" x="535.6" y="637.3"/><use href="#msq" x="536.7" y="637.9"/><use href="#msq" x="537.8" y="638.1"/><use href="#msq" x="538.9" y="638.1"/><use href="#msq" x="539.9" y="637.7"/><use href="#msq" x="541" y="637.3"/><use href="#msq" x="542.1" y="637.5"/><use href="#msq" x="543.2" y="638.3"/><use href="#msq" x="544.3" y="637.8"/><use href="#msq" x="545.4" y="638.5"/><use href="#msq" x="546.5" y="638.3"/><use href="#msq" x="547.6" y="638.3"/><use href="#msq" x="548.7" y="638.8"/><use href="#msq" x="549.8" y="638.8"/><use href="#msq" x="550.9" y="639.6"/><use href="#msq" x="552" y="639.2"/><use href="#msq" x="553.1" y="639.4"/><use href="#msq" x="554.2" y="639.1"/><use href="#msq" x="555.3" y="639"/><use href="#msq" x="556.4" y="638.7"/><use href="#msq" x="557.5" y="638.8"/><use href="#msq" x="558.6" y="639.1"/><use href="#msq" x="559.7" y="638.8"/><use href="#msq" x="560.8" y="639.2"/><use href="#msq" x="561.9" y="638.5"/><use href="#msq" x="563" y="638.7"/><use href="#msq" x="564.1" y="639.5"/><use href="#msq" x="565.2" y="638.8"/><use href="#msq" x="566.3" y="639"/><use href="#msq" x="567.4" y="638.5"/><use href="#msq" x="568.5" y="638.5"/><use href="#msq" x="569.6" y="638.2"/><use href="#msq" x="570.7" y="638.7"/><use href="#msq" x="571.7" y="638.7"/><use href="#msq" x="572.8" y="639.3"/><use href="#msq" x="573.9" y="638.2"/><use href="#msq" x="575" y="638.6"/><use href="#msq" x="576.1" y="639"/><use href="#msq" x="577.2" y="638.2"/><use href="#msq" x="578.3" y="638.4"/><use href="#msq" x="579.4" y="638.3"/><use href="#msq" x="580.5" y="638.4"/><use href="#msq" x="581.6" y="638.5"/><use href="#msq" x="582.7" y="638.2"/><use href="#msq" x="583.8" y="638.6"/><use href="#msq" x="584.9" y="638.3"/><use href="#msq" x="586" y="637.8"/><use href="#msq" x="587.1" y="637.8"/><use href="#msq" x="588.2" y="638.1"/><use href="#msq" x="589.3" y="638.6"/><use href="#msq" x="590.4" y="638.9"/><use href="#msq" x="591.5" y="638.4"/><use href="#msq" x="592.6" y="638.3"/><use href="#msq" x="593.7" y="638.9"/><use href="#msq" x="594.8" y="638.3"/><use href="#msq" x="595.9" y="637.9"/><use href="#msq" x="597" y="638.5"/><use href="#msq" x="598.1" y="639.1"/><use href="#msq" x="599.2" y="638.9"/><use href="#msq" x="600.3" y="638.8"/><use href="#msq" x="601.4" y="637.5"/><use href="#msq" x="602.5" y="637.8"/><use href="#msq" x="603.5" y="638"/><use href="#msq" x="604.6" y="638.3"/><use href="#msq" x="605.7" y="638.2"/><use href="#msq" x="606.8" y="638.1"/><use href="#msq" x="607.9" y="638"/><use href="#msq" x="609" y="638.4"/><use href="#msq" x="610.1" y="638.5"/><use href="#msq" x="611.2" y="637.9"/><use href="#msq" x="612.3" y="638.2"/><use href="#msq" x="613.4" y="638.6"/><use href="#msq" x="614.5" y="639.4"/><use href="#msq" x="615.6" y="638.8"/><use href="#msq" x="616.7" y="638.7"/><use href="#msq" x="617.8" y="638.6"/><use href="#msq" x="618.9" y="638.8"/><use href="#msq" x="620" y="638.8"/><use href="#msq" x="621.1" y="638"/><use href="#msq" x="622.2" y="638.3"/><use href="#msq" x="623.3" y="638.7"/><use href="#msq" x="624.4" y="639"/><use href="#msq" x="625.5" y="638.3"/><use href="#msq" x="626.6" y="638.5"/><use href="#msq" x="627.7" y="638.5"/><use href="#msq" x="628.8" y="638.5"/><use href="#msq" x="629.9" y="638.7"/><use href="#msq" x="631" y="638.1"/><use href="#msq" x="632.1" y="638.4"/><use href="#msq" x="633.2" y="638.2"/><use href="#msq" x="634.3" y="638.7"/><use href="#msq" x="635.4" y="638.7"/><use href="#msq" x="636.4" y="638.8"/><use href="#msq" x="637.5" y="638.7"/><use href="#msq" x="638.6" y="638"/><use href="#msq" x="639.7" y="638.3"/><use href="#msq" x="640.8" y="638.2"/><use href="#msq" x="641.9" y="637.6"/><use href="#msq" x="643" y="638.5"/><use href="#msq" x="644.1" y="638.2"/><use href="#msq" x="645.2" y="637.7"/><use href="#msq" x="646.3" y="637.9"/><use href="#msq" x="647.4" y="637.6"/><use href="#msq" x="648.5" y="637.5"/><use href="#msq" x="649.6" y="638.1"/><use href="#msq" x="650.7" y="638.3"/><use href="#msq" x="651.8" y="638.5"/></g>
<g fill="#fff" stroke="#141414" stroke-width="1.5" clip-path="url(#cb)"><use href="#mcirc" x="104.6" y="711.8"/><use href="#mcirc" x="105.7" y="686"/><use href="#mcirc" x="106.8" y="673.3"/><use href="#mcirc" x="107.9" y="665"/><use href="#mcirc" x="109" y="659"/><use href="#mcirc" x="110.1" y="654.3"/><use href="#mcirc" x="111.2" y="650.6"/><use href="#mcirc" x="112.3" y="647.9"/><use href="#mcirc" x="113.4" y="645.9"/><use href="#mcirc" x="114.5" y="644.2"/><use href="#mcirc" x="115.6" y="642.9"/><use href="#mcirc" x="116.7" y="641.9"/><use href="#mcirc" x="117.8" y="641.1"/><use href="#mcirc" x="118.9" y="640.4"/><use href="#mcirc" x="119.9" y="639.9"/><use href="#mcirc" x="121" y="638.8"/><use href="#mcirc" x="122.1" y="639.6"/><use href="#mcirc" x="123.2" y="639.3"/><use href="#mcirc" x="124.3" y="640.4"/><use href="#mcirc" x="125.4" y="639.6"/><use href="#mcirc" x="126.5" y="639.7"/><use href="#mcirc" x="127.6" y="639.4"/><use href="#mcirc" x="128.7" y="639.5"/><use href="#mcirc" x="129.8" y="639.9"/><use href="#mcirc" x="130.9" y="639.2"/><use href="#mcirc" x="132" y="639.2"/><use href="#mcirc" x="133.1" y="639.1"/><use href="#mcirc" x="134.2" y="638.9"/><use href="#mcirc" x="135.3" y="638.8"/><use href="#mcirc" x="136.4" y="639.1"/><use href="#mcirc" x="137.5" y="639.5"/><use href="#mcirc" x="138.6" y="639.4"/><use href="#mcirc" x="139.7" y="638.4"/><use href="#mcirc" x="140.8" y="638.5"/><use href="#mcirc" x="141.9" y="638.7"/><use href="#mcirc" x="143" y="638.8"/><use href="#mcirc" x="144.1" y="638.6"/><use href="#mcirc" x="145.2" y="638.5"/><use href="#mcirc" x="146.3" y="638.6"/><use href="#mcirc" x="147.4" y="638.7"/><use href="#mcirc" x="148.5" y="637.8"/><use href="#mcirc" x="149.6" y="638.5"/><use href="#mcirc" x="150.7" y="638.8"/><use href="#mcirc" x="151.8" y="639.1"/><use href="#mcirc" x="152.8" y="638.9"/><use href="#mcirc" x="153.9" y="638.5"/><use href="#mcirc" x="155" y="638.5"/><use href="#mcirc" x="156.1" y="638.8"/><use href="#mcirc" x="157.2" y="638.8"/><use href="#mcirc" x="158.3" y="638.9"/><use href="#mcirc" x="159.4" y="639.1"/><use href="#mcirc" x="160.5" y="638.3"/><use href="#mcirc" x="161.6" y="638.6"/><use href="#mcirc" x="162.7" y="637.8"/><use href="#mcirc" x="163.8" y="638.9"/><use href="#mcirc" x="164.9" y="638.6"/><use href="#mcirc" x="166" y="638.2"/><use href="#mcirc" x="167.1" y="638.6"/><use href="#mcirc" x="168.2" y="638.9"/><use href="#mcirc" x="169.3" y="638.7"/><use href="#mcirc" x="170.4" y="638.3"/><use href="#mcirc" x="171.5" y="638.2"/><use href="#mcirc" x="172.6" y="638.3"/><use href="#mcirc" x="173.7" y="637.9"/><use href="#mcirc" x="174.8" y="637.8"/><use href="#mcirc" x="175.9" y="638"/><use href="#mcirc" x="177" y="638"/><use href="#mcirc" x="178.1" y="638.1"/><use href="#mcirc" x="179.2" y="637.8"/><use href="#mcirc" x="180.3" y="637.6"/><use href="#mcirc" x="181.4" y="637.9"/><use href="#mcirc" x="182.5" y="637.8"/><use href="#mcirc" x="183.6" y="638.1"/><use href="#mcirc" x="184.6" y="638.5"/><use href="#mcirc" x="185.7" y="638.3"/><use href="#mcirc" x="186.8" y="637.8"/><use href="#mcirc" x="187.9" y="637.9"/><use href="#mcirc" x="189" y="637.5"/><use href="#mcirc" x="190.1" y="638"/><use href="#mcirc" x="191.2" y="637.7"/><use href="#mcirc" x="192.3" y="637.6"/><use href="#mcirc" x="193.4" y="637.7"/><use href="#mcirc" x="194.5" y="638.1"/><use href="#mcirc" x="195.6" y="638"/><use href="#mcirc" x="196.7" y="637.9"/><use href="#mcirc" x="197.8" y="638.3"/><use href="#mcirc" x="198.9" y="637.8"/><use href="#mcirc" x="200" y="637.6"/><use href="#mcirc" x="201.1" y="638.2"/><use href="#mcirc" x="202.2" y="637.4"/><use href="#mcirc" x="203.3" y="638.2"/><use href="#mcirc" x="204.4" y="638.2"/><use href="#mcirc" x="205.5" y="638.3"/><use href="#mcirc" x="206.6" y="638.5"/><use href="#mcirc" x="207.7" y="638.2"/><use href="#mcirc" x="208.8" y="638.4"/><use href="#mcirc" x="209.9" y="637.9"/><use href="#mcirc" x="211" y="638.2"/><use href="#mcirc" x="212.1" y="638.2"/><use href="#mcirc" x="213.2" y="638.4"/><use href="#mcirc" x="214.3" y="638.8"/><use href="#mcirc" x="215.4" y="638.3"/><use href="#mcirc" x="216.4" y="638.5"/><use href="#mcirc" x="217.5" y="637.9"/><use href="#mcirc" x="218.6" y="638.3"/><use href="#mcirc" x="219.7" y="637.8"/><use href="#mcirc" x="220.8" y="638.3"/><use href="#mcirc" x="221.9" y="638.4"/><use href="#mcirc" x="223" y="638.8"/><use href="#mcirc" x="224.1" y="639"/><use href="#mcirc" x="225.2" y="638.9"/><use href="#mcirc" x="226.3" y="638.8"/><use href="#mcirc" x="227.4" y="639.4"/><use href="#mcirc" x="228.5" y="639"/><use href="#mcirc" x="229.6" y="638.2"/><use href="#mcirc" x="230.7" y="638.9"/><use href="#mcirc" x="231.8" y="638.8"/><use href="#mcirc" x="232.9" y="638.8"/><use href="#mcirc" x="234" y="639"/><use href="#mcirc" x="235.1" y="638"/><use href="#mcirc" x="236.2" y="638.3"/><use href="#mcirc" x="237.3" y="638.2"/><use href="#mcirc" x="238.4" y="637.7"/><use href="#mcirc" x="239.5" y="637.5"/><use href="#mcirc" x="240.6" y="638.7"/><use href="#mcirc" x="241.7" y="638.1"/><use href="#mcirc" x="242.8" y="638.3"/><use href="#mcirc" x="243.9" y="638.5"/><use href="#mcirc" x="245" y="638.5"/><use href="#mcirc" x="246.1" y="638.7"/><use href="#mcirc" x="247.2" y="638.2"/><use href="#mcirc" x="248.3" y="638.5"/><use href="#mcirc" x="249.3" y="638.6"/><use href="#mcirc" x="250.4" y="638.3"/><use href="#mcirc" x="251.5" y="638.4"/><use href="#mcirc" x="252.6" y="638.5"/><use href="#mcirc" x="253.7" y="638.5"/><use href="#mcirc" x="254.8" y="637.9"/><use href="#mcirc" x="255.9" y="638.3"/><use href="#mcirc" x="257" y="638.5"/><use href="#mcirc" x="258.1" y="638.8"/><use href="#mcirc" x="259.2" y="638.6"/><use href="#mcirc" x="260.3" y="638.9"/><use href="#mcirc" x="261.4" y="638.5"/><use href="#mcirc" x="262.5" y="638.5"/><use href="#mcirc" x="263.6" y="639.3"/><use href="#mcirc" x="264.7" y="638.6"/><use href="#mcirc" x="265.8" y="638.4"/><use href="#mcirc" x="266.9" y="638.6"/><use href="#mcirc" x="268" y="638.9"/><use href="#mcirc" x="269.1" y="638.1"/><use href="#mcirc" x="270.2" y="638.8"/><use href="#mcirc" x="271.3" y="639"/><use href="#mcirc" x="272.4" y="638.9"/><use href="#mcirc" x="273.5" y="638.6"/><use href="#mcirc" x="274.6" y="638.3"/><use href="#mcirc" x="275.7" y="638.3"/><use href="#mcirc" x="276.8" y="638.7"/><use href="#mcirc" x="277.9" y="639.2"/><use href="#mcirc" x="279" y="639.1"/><use href="#mcirc" x="280.1" y="639.2"/><use href="#mcirc" x="281.1" y="639"/><use href="#mcirc" x="282.2" y="639.5"/><use href="#mcirc" x="283.3" y="638.8"/><use href="#mcirc" x="284.4" y="638.5"/><use href="#mcirc" x="285.5" y="638.8"/><use href="#mcirc" x="286.6" y="638.5"/><use href="#mcirc" x="287.7" y="638.9"/><use href="#mcirc" x="288.8" y="639.1"/><use href="#mcirc" x="289.9" y="638.8"/><use href="#mcirc" x="291" y="638.2"/><use href="#mcirc" x="292.1" y="638.3"/><use href="#mcirc" x="293.2" y="638.9"/><use href="#mcirc" x="294.3" y="638.3"/><use href="#mcirc" x="295.4" y="638.9"/><use href="#mcirc" x="296.5" y="638.3"/><use href="#mcirc" x="297.6" y="638.7"/><use href="#mcirc" x="298.7" y="639"/><use href="#mcirc" x="299.8" y="638.6"/><use href="#mcirc" x="300.9" y="639.2"/><use href="#mcirc" x="302" y="639.3"/><use href="#mcirc" x="303.1" y="639.6"/><use href="#mcirc" x="304.2" y="639"/><use href="#mcirc" x="305.3" y="639.2"/><use href="#mcirc" x="306.4" y="639.2"/><use href="#mcirc" x="307.5" y="639.4"/><use href="#mcirc" x="308.6" y="638.7"/><use href="#mcirc" x="309.7" y="639.3"/><use href="#mcirc" x="310.8" y="639.3"/><use href="#mcirc" x="311.9" y="638.6"/><use href="#mcirc" x="313" y="638.4"/><use href="#mcirc" x="314" y="638.6"/><use href="#mcirc" x="315.1" y="639.2"/><use href="#mcirc" x="316.2" y="638.7"/><use href="#mcirc" x="317.3" y="638.1"/><use href="#mcirc" x="318.4" y="638.2"/><use href="#mcirc" x="319.5" y="637.5"/><use href="#mcirc" x="320.6" y="638.4"/><use href="#mcirc" x="321.7" y="637.7"/><use href="#mcirc" x="322.8" y="638.1"/><use href="#mcirc" x="323.9" y="637.4"/><use href="#mcirc" x="325" y="637.9"/><use href="#mcirc" x="326.1" y="637.6"/><use href="#mcirc" x="327.2" y="638.2"/><use href="#mcirc" x="328.3" y="638.5"/><use href="#mcirc" x="329.4" y="638.5"/><use href="#mcirc" x="330.5" y="638.4"/><use href="#mcirc" x="331.6" y="638.6"/><use href="#mcirc" x="332.7" y="637.8"/><use href="#mcirc" x="333.8" y="637.8"/><use href="#mcirc" x="334.9" y="638.1"/><use href="#mcirc" x="336" y="638.6"/><use href="#mcirc" x="337.1" y="638.2"/><use href="#mcirc" x="338.2" y="638.4"/><use href="#mcirc" x="339.3" y="637.7"/><use href="#mcirc" x="340.4" y="638.1"/><use href="#mcirc" x="341.5" y="638"/><use href="#mcirc" x="342.6" y="638.4"/><use href="#mcirc" x="343.7" y="639"/><use href="#mcirc" x="344.8" y="638.6"/><use href="#mcirc" x="345.8" y="638.8"/><use href="#mcirc" x="346.9" y="638.4"/><use href="#mcirc" x="348" y="638.5"/><use href="#mcirc" x="349.1" y="638.8"/><use href="#mcirc" x="350.2" y="638.6"/><use href="#mcirc" x="351.3" y="637.9"/><use href="#mcirc" x="352.4" y="638.7"/><use href="#mcirc" x="353.5" y="638.7"/><use href="#mcirc" x="354.6" y="638.4"/><use href="#mcirc" x="355.7" y="638.5"/><use href="#mcirc" x="356.8" y="638.4"/><use href="#mcirc" x="357.9" y="638.1"/><use href="#mcirc" x="359" y="637.8"/><use href="#mcirc" x="360.1" y="639.1"/><use href="#mcirc" x="361.2" y="638.6"/><use href="#mcirc" x="362.3" y="638.7"/><use href="#mcirc" x="363.4" y="638.8"/><use href="#mcirc" x="364.5" y="639"/><use href="#mcirc" x="365.6" y="639.1"/><use href="#mcirc" x="366.7" y="638.7"/><use href="#mcirc" x="367.8" y="639.2"/><use href="#mcirc" x="368.9" y="639"/><use href="#mcirc" x="370" y="638.9"/><use href="#mcirc" x="371.1" y="638.8"/><use href="#mcirc" x="372.2" y="638.8"/><use href="#mcirc" x="373.3" y="638.3"/><use href="#mcirc" x="374.4" y="638.6"/><use href="#mcirc" x="375.5" y="638.5"/><use href="#mcirc" x="376.6" y="638.5"/><use href="#mcirc" x="377.6" y="638.9"/><use href="#mcirc" x="378.7" y="638.9"/><use href="#mcirc" x="379.8" y="639"/><use href="#mcirc" x="380.9" y="638.7"/><use href="#mcirc" x="382" y="639.1"/><use href="#mcirc" x="383.1" y="639.3"/><use href="#mcirc" x="384.2" y="638.9"/><use href="#mcirc" x="385.3" y="638.8"/><use href="#mcirc" x="386.4" y="639.6"/><use href="#mcirc" x="387.5" y="638.5"/><use href="#mcirc" x="388.6" y="639"/><use href="#mcirc" x="389.7" y="638.9"/><use href="#mcirc" x="390.8" y="638.5"/><use href="#mcirc" x="391.9" y="638.8"/><use href="#mcirc" x="393" y="638.9"/><use href="#mcirc" x="394.1" y="637.9"/><use href="#mcirc" x="395.2" y="638.9"/><use href="#mcirc" x="396.3" y="638.6"/><use href="#mcirc" x="397.4" y="638.2"/><use href="#mcirc" x="398.5" y="638.8"/><use href="#mcirc" x="399.6" y="638.5"/><use href="#mcirc" x="400.7" y="638.3"/><use href="#mcirc" x="401.8" y="637.6"/><use href="#mcirc" x="402.9" y="638.7"/><use href="#mcirc" x="404" y="638.4"/><use href="#mcirc" x="405.1" y="638.1"/><use href="#mcirc" x="406.2" y="638.3"/><use href="#mcirc" x="407.3" y="638.7"/><use href="#mcirc" x="408.4" y="638.2"/><use href="#mcirc" x="409.5" y="638.2"/><use href="#mcirc" x="410.5" y="638.1"/><use href="#mcirc" x="411.6" y="637.8"/><use href="#mcirc" x="412.7" y="637.9"/><use href="#mcirc" x="413.8" y="638"/><use href="#mcirc" x="414.9" y="638"/><use href="#mcirc" x="416" y="638.4"/><use href="#mcirc" x="417.1" y="638"/><use href="#mcirc" x="418.2" y="637.9"/><use href="#mcirc" x="419.3" y="638.2"/><use href="#mcirc" x="420.4" y="638.1"/><use href="#mcirc" x="421.5" y="638.5"/><use href="#mcirc" x="422.6" y="637.8"/><use href="#mcirc" x="423.7" y="637.7"/><use href="#mcirc" x="424.8" y="638.7"/><use href="#mcirc" x="425.9" y="638.6"/><use href="#mcirc" x="427" y="638.9"/><use href="#mcirc" x="428.1" y="638.4"/><use href="#mcirc" x="429.2" y="638.7"/><use href="#mcirc" x="430.3" y="638.7"/><use href="#mcirc" x="431.4" y="638.8"/><use href="#mcirc" x="432.5" y="638.5"/><use href="#mcirc" x="433.6" y="638.8"/><use href="#mcirc" x="434.7" y="638.1"/><use href="#mcirc" x="435.8" y="638.4"/><use href="#mcirc" x="436.9" y="637.9"/><use href="#mcirc" x="438" y="638.1"/><use href="#mcirc" x="439.1" y="637.7"/><use href="#mcirc" x="440.2" y="638.2"/><use href="#mcirc" x="441.3" y="637.9"/><use href="#mcirc" x="442.3" y="638.6"/><use href="#mcirc" x="443.4" y="638.1"/><use href="#mcirc" x="444.5" y="638.5"/><use href="#mcirc" x="445.6" y="638.4"/><use href="#mcirc" x="446.7" y="638.6"/><use href="#mcirc" x="447.8" y="638.4"/><use href="#mcirc" x="448.9" y="639.4"/><use href="#mcirc" x="450" y="638.7"/><use href="#mcirc" x="451.1" y="639.4"/><use href="#mcirc" x="452.2" y="638.5"/><use href="#mcirc" x="453.3" y="639.6"/><use href="#mcirc" x="454.4" y="639.3"/><use href="#mcirc" x="455.5" y="639.5"/><use href="#mcirc" x="456.6" y="638.3"/><use href="#mcirc" x="457.7" y="639.2"/><use href="#mcirc" x="458.8" y="638.6"/><use href="#mcirc" x="459.9" y="638.7"/><use href="#mcirc" x="461" y="639.1"/><use href="#mcirc" x="462.1" y="638.5"/><use href="#mcirc" x="463.2" y="638.1"/><use href="#mcirc" x="464.3" y="638.5"/><use href="#mcirc" x="465.4" y="638.1"/><use href="#mcirc" x="466.5" y="638.6"/><use href="#mcirc" x="467.6" y="638.6"/><use href="#mcirc" x="468.7" y="638.7"/><use href="#mcirc" x="469.8" y="638.6"/><use href="#mcirc" x="470.9" y="638.1"/><use href="#mcirc" x="472" y="638.7"/><use href="#mcirc" x="473.1" y="638.8"/><use href="#mcirc" x="474.2" y="639.1"/><use href="#mcirc" x="475.2" y="639.2"/><use href="#mcirc" x="476.3" y="638.5"/><use href="#mcirc" x="477.4" y="639.4"/><use href="#mcirc" x="478.5" y="639.3"/><use href="#mcirc" x="479.6" y="639"/><use href="#mcirc" x="480.7" y="639.2"/><use href="#mcirc" x="481.8" y="638.3"/><use href="#mcirc" x="482.9" y="639.7"/><use href="#mcirc" x="484" y="638.8"/><use href="#mcirc" x="485.1" y="638.7"/><use href="#mcirc" x="486.2" y="639.2"/><use href="#mcirc" x="487.3" y="639"/><use href="#mcirc" x="488.4" y="638.6"/><use href="#mcirc" x="489.5" y="638.1"/><use href="#mcirc" x="490.6" y="638.9"/><use href="#mcirc" x="491.7" y="639.1"/><use href="#mcirc" x="492.8" y="638.2"/><use href="#mcirc" x="493.9" y="637.9"/><use href="#mcirc" x="495" y="638.5"/><use href="#mcirc" x="496.1" y="639"/><use href="#mcirc" x="497.2" y="637.8"/><use href="#mcirc" x="498.3" y="638.3"/><use href="#mcirc" x="499.4" y="637.9"/><use href="#mcirc" x="500.5" y="638.3"/><use href="#mcirc" x="501.6" y="638.4"/><use href="#mcirc" x="502.7" y="638.5"/><use href="#mcirc" x="503.8" y="637.9"/><use href="#mcirc" x="504.9" y="637.9"/><use href="#mcirc" x="506" y="639.2"/><use href="#mcirc" x="507" y="638.9"/><use href="#mcirc" x="508.1" y="638.1"/><use href="#mcirc" x="509.2" y="638.9"/><use href="#mcirc" x="510.3" y="639.3"/><use href="#mcirc" x="511.4" y="638.9"/><use href="#mcirc" x="512.5" y="639.1"/><use href="#mcirc" x="513.6" y="639.2"/><use href="#mcirc" x="514.7" y="639.4"/><use href="#mcirc" x="515.8" y="639.4"/><use href="#mcirc" x="516.9" y="639.5"/><use href="#mcirc" x="518" y="639.3"/><use href="#mcirc" x="519.1" y="639.7"/><use href="#mcirc" x="520.2" y="639.5"/><use href="#mcirc" x="521.3" y="639.5"/><use href="#mcirc" x="522.4" y="638.9"/><use href="#mcirc" x="523.5" y="639.2"/><use href="#mcirc" x="524.6" y="639.3"/><use href="#mcirc" x="525.7" y="639"/><use href="#mcirc" x="526.8" y="639"/><use href="#mcirc" x="527.9" y="638.6"/><use href="#mcirc" x="529" y="638.7"/><use href="#mcirc" x="530.1" y="638.2"/><use href="#mcirc" x="531.2" y="638.2"/><use href="#mcirc" x="532.3" y="638.6"/><use href="#mcirc" x="533.4" y="638.7"/><use href="#mcirc" x="534.5" y="638.2"/><use href="#mcirc" x="535.6" y="638.4"/><use href="#mcirc" x="536.7" y="638.6"/><use href="#mcirc" x="537.8" y="639.1"/><use href="#mcirc" x="538.9" y="639.3"/><use href="#mcirc" x="539.9" y="638.6"/><use href="#mcirc" x="541" y="638.5"/><use href="#mcirc" x="542.1" y="638.6"/><use href="#mcirc" x="543.2" y="639.4"/><use href="#mcirc" x="544.3" y="638.7"/><use href="#mcirc" x="545.4" y="639.4"/><use href="#mcirc" x="546.5" y="639.2"/><use href="#mcirc" x="547.6" y="639.3"/><use href="#mcirc" x="548.7" y="639.9"/><use href="#mcirc" x="549.8" y="639.9"/><use href="#mcirc" x="550.9" y="640.5"/><use href="#mcirc" x="552" y="640.2"/><use href="#mcirc" x="553.1" y="640.5"/><use href="#mcirc" x="554.2" y="639.8"/><use href="#mcirc" x="555.3" y="639.9"/><use href="#mcirc" x="556.4" y="639.6"/><use href="#mcirc" x="557.5" y="639.7"/><use href="#mcirc" x="558.6" y="640"/><use href="#mcirc" x="559.7" y="639.7"/><use href="#mcirc" x="560.8" y="640"/><use href="#mcirc" x="561.9" y="639.6"/><use href="#mcirc" x="563" y="639.7"/><use href="#mcirc" x="564.1" y="640.2"/><use href="#mcirc" x="565.2" y="639.9"/><use href="#mcirc" x="566.3" y="639.8"/><use href="#mcirc" x="567.4" y="639.9"/><use href="#mcirc" x="568.5" y="639.4"/><use href="#mcirc" x="569.6" y="639.1"/><use href="#mcirc" x="570.7" y="639.7"/><use href="#mcirc" x="571.7" y="639.7"/><use href="#mcirc" x="572.8" y="640.3"/><use href="#mcirc" x="573.9" y="639.6"/><use href="#mcirc" x="575" y="639.6"/><use href="#mcirc" x="576.1" y="640.2"/><use href="#mcirc" x="577.2" y="639.4"/><use href="#mcirc" x="578.3" y="639.3"/><use href="#mcirc" x="579.4" y="639.7"/><use href="#mcirc" x="580.5" y="639.5"/><use href="#mcirc" x="581.6" y="639.7"/><use href="#mcirc" x="582.7" y="639.1"/><use href="#mcirc" x="583.8" y="639.8"/><use href="#mcirc" x="584.9" y="639.4"/><use href="#mcirc" x="586" y="638.7"/><use href="#mcirc" x="587.1" y="639.3"/><use href="#mcirc" x="588.2" y="639.2"/><use href="#mcirc" x="589.3" y="639.5"/><use href="#mcirc" x="590.4" y="639.9"/><use href="#mcirc" x="591.5" y="639.6"/><use href="#mcirc" x="592.6" y="639.5"/><use href="#mcirc" x="593.7" y="640"/><use href="#mcirc" x="594.8" y="639.6"/><use href="#mcirc" x="595.9" y="639.2"/><use href="#mcirc" x="597" y="639.2"/><use href="#mcirc" x="598.1" y="640"/><use href="#mcirc" x="599.2" y="639.7"/><use href="#mcirc" x="600.3" y="639.8"/><use href="#mcirc" x="601.4" y="638.8"/><use href="#mcirc" x="602.5" y="638.9"/><use href="#mcirc" x="603.5" y="638.8"/><use href="#mcirc" x="604.6" y="639.3"/><use href="#mcirc" x="605.7" y="639.4"/><use href="#mcirc" x="606.8" y="639"/><use href="#mcirc" x="607.9" y="639"/><use href="#mcirc" x="609" y="639.4"/><use href="#mcirc" x="610.1" y="639.1"/><use href="#mcirc" x="611.2" y="639.1"/><use href="#mcirc" x="612.3" y="639.3"/><use href="#mcirc" x="613.4" y="639.8"/><use href="#mcirc" x="614.5" y="640.2"/><use href="#mcirc" x="615.6" y="639.6"/><use href="#mcirc" x="616.7" y="639.5"/><use href="#mcirc" x="617.8" y="639.7"/><use href="#mcirc" x="618.9" y="639.8"/><use href="#mcirc" x="620" y="639.9"/><use href="#mcirc" x="621.1" y="639.4"/><use href="#mcirc" x="622.2" y="639.6"/><use href="#mcirc" x="623.3" y="639.5"/><use href="#mcirc" x="624.4" y="639.9"/><use href="#mcirc" x="625.5" y="639.7"/><use href="#mcirc" x="626.6" y="639.4"/><use href="#mcirc" x="627.7" y="639.8"/><use href="#mcirc" x="628.8" y="639.9"/><use href="#mcirc" x="629.9" y="639.6"/><use href="#mcirc" x="631" y="639.1"/><use href="#mcirc" x="632.1" y="639.4"/><use href="#mcirc" x="633.2" y="639"/><use href="#mcirc" x="634.3" y="639.6"/><use href="#mcirc" x="635.4" y="639.6"/><use href="#mcirc" x="636.4" y="640"/><use href="#mcirc" x="637.5" y="639.7"/><use href="#mcirc" x="638.6" y="638.9"/><use href="#mcirc" x="639.7" y="639.2"/><use href="#mcirc" x="640.8" y="639"/><use href="#mcirc" x="641.9" y="638.9"/><use href="#mcirc" x="643" y="639.1"/><use href="#mcirc" x="644.1" y="639.1"/><use href="#mcirc" x="645.2" y="638.9"/><use href="#mcirc" x="646.3" y="638.7"/><use href="#mcirc" x="647.4" y="638.8"/><use href="#mcirc" x="648.5" y="638.8"/><use href="#mcirc" x="649.6" y="638.9"/><use href="#mcirc" x="650.7" y="639.3"/><use href="#mcirc" x="651.8" y="639.3"/></g>
<g fill="#fff" stroke="#141414" stroke-width="1.5" clip-path="url(#cc)"><use href="#mcirc" x="104.6" y="1138.3"/><use href="#mcirc" x="105.7" y="1116"/><use href="#mcirc" x="106.8" y="1105.8"/><use href="#mcirc" x="107.9" y="1101.1"/><use href="#mcirc" x="109" y="1098.2"/><use href="#mcirc" x="110.1" y="1096.4"/><use href="#mcirc" x="111.2" y="1095.1"/><use href="#mcirc" x="112.3" y="1094"/><use href="#mcirc" x="113.4" y="1093.3"/><use href="#mcirc" x="114.5" y="1092.8"/><use href="#mcirc" x="115.6" y="1092.4"/><use href="#mcirc" x="116.7" y="1092.2"/><use href="#mcirc" x="117.8" y="1092.7"/><use href="#mcirc" x="118.9" y="1092.7"/><use href="#mcirc" x="119.9" y="1092.6"/><use href="#mcirc" x="121" y="1092.6"/><use href="#mcirc" x="122.1" y="1092.4"/><use href="#mcirc" x="123.2" y="1092.4"/><use href="#mcirc" x="124.3" y="1092.6"/><use href="#mcirc" x="125.4" y="1092.3"/><use href="#mcirc" x="126.5" y="1092.5"/><use href="#mcirc" x="127.6" y="1092.3"/><use href="#mcirc" x="128.7" y="1092.2"/><use href="#mcirc" x="129.8" y="1092.4"/><use href="#mcirc" x="130.9" y="1092"/><use href="#mcirc" x="132" y="1091.9"/><use href="#mcirc" x="133.1" y="1091.9"/><use href="#mcirc" x="134.2" y="1091.9"/><use href="#mcirc" x="135.3" y="1091.8"/><use href="#mcirc" x="136.4" y="1091.9"/><use href="#mcirc" x="137.5" y="1091.7"/><use href="#mcirc" x="138.6" y="1091.7"/><use href="#mcirc" x="139.7" y="1091.6"/><use href="#mcirc" x="140.8" y="1091.8"/><use href="#mcirc" x="141.9" y="1091.5"/><use href="#mcirc" x="143" y="1091.5"/><use href="#mcirc" x="144.1" y="1091.5"/><use href="#mcirc" x="145.2" y="1091.5"/><use href="#mcirc" x="146.3" y="1091.3"/><use href="#mcirc" x="147.4" y="1091.6"/><use href="#mcirc" x="148.5" y="1091.2"/><use href="#mcirc" x="149.6" y="1091.2"/><use href="#mcirc" x="150.7" y="1091.1"/><use href="#mcirc" x="151.8" y="1091.1"/><use href="#mcirc" x="152.8" y="1091.2"/><use href="#mcirc" x="153.9" y="1091.2"/><use href="#mcirc" x="155" y="1091"/><use href="#mcirc" x="156.1" y="1091"/><use href="#mcirc" x="157.2" y="1091"/><use href="#mcirc" x="158.3" y="1091.4"/><use href="#mcirc" x="159.4" y="1091"/><use href="#mcirc" x="160.5" y="1090.9"/><use href="#mcirc" x="161.6" y="1090.9"/><use href="#mcirc" x="162.7" y="1091.1"/><use href="#mcirc" x="163.8" y="1091.4"/><use href="#mcirc" x="164.9" y="1091"/><use href="#mcirc" x="166" y="1091.2"/><use href="#mcirc" x="167.1" y="1091.6"/><use href="#mcirc" x="168.2" y="1091.1"/><use href="#mcirc" x="169.3" y="1091.4"/><use href="#mcirc" x="170.4" y="1091.4"/><use href="#mcirc" x="171.5" y="1091.2"/><use href="#mcirc" x="172.6" y="1090.9"/><use href="#mcirc" x="173.7" y="1091.1"/><use href="#mcirc" x="174.8" y="1090.9"/><use href="#mcirc" x="175.9" y="1090.6"/><use href="#mcirc" x="177" y="1090.6"/><use href="#mcirc" x="178.1" y="1090.9"/><use href="#mcirc" x="179.2" y="1090.9"/><use href="#mcirc" x="180.3" y="1091"/><use href="#mcirc" x="181.4" y="1090.9"/><use href="#mcirc" x="182.5" y="1090.7"/><use href="#mcirc" x="183.6" y="1090.7"/><use href="#mcirc" x="184.6" y="1090.7"/><use href="#mcirc" x="185.7" y="1090.5"/><use href="#mcirc" x="186.8" y="1090.9"/><use href="#mcirc" x="187.9" y="1090.7"/><use href="#mcirc" x="189" y="1090.5"/><use href="#mcirc" x="190.1" y="1090.5"/><use href="#mcirc" x="191.2" y="1090.4"/><use href="#mcirc" x="192.3" y="1090.5"/><use href="#mcirc" x="193.4" y="1090.5"/><use href="#mcirc" x="194.5" y="1090.4"/><use href="#mcirc" x="195.6" y="1090.6"/><use href="#mcirc" x="196.7" y="1090.8"/><use href="#mcirc" x="197.8" y="1090.4"/><use href="#mcirc" x="198.9" y="1090.5"/><use href="#mcirc" x="200" y="1090.5"/><use href="#mcirc" x="201.1" y="1090.9"/><use href="#mcirc" x="202.2" y="1090.7"/><use href="#mcirc" x="203.3" y="1090.8"/><use href="#mcirc" x="204.4" y="1090.8"/><use href="#mcirc" x="205.5" y="1091.1"/><use href="#mcirc" x="206.6" y="1090.7"/><use href="#mcirc" x="207.7" y="1090.4"/><use href="#mcirc" x="208.8" y="1090.4"/><use href="#mcirc" x="209.9" y="1090.6"/><use href="#mcirc" x="211" y="1090.4"/><use href="#mcirc" x="212.1" y="1090.2"/><use href="#mcirc" x="213.2" y="1090.8"/><use href="#mcirc" x="214.3" y="1090.3"/><use href="#mcirc" x="215.4" y="1090.2"/><use href="#mcirc" x="216.4" y="1090.2"/><use href="#mcirc" x="217.5" y="1090.1"/><use href="#mcirc" x="218.6" y="1090.2"/><use href="#mcirc" x="219.7" y="1090.3"/><use href="#mcirc" x="220.8" y="1090.3"/><use href="#mcirc" x="221.9" y="1090.3"/><use href="#mcirc" x="223" y="1090.5"/><use href="#mcirc" x="224.1" y="1090.4"/><use href="#mcirc" x="225.2" y="1090.3"/><use href="#mcirc" x="226.3" y="1090.1"/><use href="#mcirc" x="227.4" y="1090.5"/><use href="#mcirc" x="228.5" y="1090.6"/><use href="#mcirc" x="229.6" y="1090.5"/><use href="#mcirc" x="230.7" y="1090.4"/><use href="#mcirc" x="231.8" y="1090.6"/><use href="#mcirc" x="232.9" y="1090.4"/><use href="#mcirc" x="234" y="1090.8"/><use href="#mcirc" x="235.1" y="1090.6"/><use href="#mcirc" x="236.2" y="1090.5"/><use href="#mcirc" x="237.3" y="1090.3"/><use href="#mcirc" x="238.4" y="1090.2"/><use href="#mcirc" x="239.5" y="1090.6"/><use href="#mcirc" x="240.6" y="1090.4"/><use href="#mcirc" x="241.7" y="1090.1"/><use href="#mcirc" x="242.8" y="1090.3"/><use href="#mcirc" x="243.9" y="1090.4"/><use href="#mcirc" x="245" y="1090"/><use href="#mcirc" x="246.1" y="1090.1"/><use href="#mcirc" x="247.2" y="1090.1"/><use href="#mcirc" x="248.3" y="1090.3"/><use href="#mcirc" x="249.3" y="1090"/><use href="#mcirc" x="250.4" y="1090.3"/><use href="#mcirc" x="251.5" y="1090"/><use href="#mcirc" x="252.6" y="1090.4"/><use href="#mcirc" x="253.7" y="1090.4"/><use href="#mcirc" x="254.8" y="1090.2"/><use href="#mcirc" x="255.9" y="1090.3"/><use href="#mcirc" x="257" y="1090.1"/><use href="#mcirc" x="258.1" y="1090.1"/><use href="#mcirc" x="259.2" y="1090.4"/><use href="#mcirc" x="260.3" y="1090.2"/><use href="#mcirc" x="261.4" y="1090.3"/><use href="#mcirc" x="262.5" y="1090.1"/><use href="#mcirc" x="263.6" y="1090.4"/><use href="#mcirc" x="264.7" y="1090.3"/><use href="#mcirc" x="265.8" y="1090"/><use href="#mcirc" x="266.9" y="1089.8"/><use href="#mcirc" x="268" y="1089.9"/><use href="#mcirc" x="269.1" y="1090.2"/><use href="#mcirc" x="270.2" y="1090.2"/><use href="#mcirc" x="271.3" y="1089.9"/><use href="#mcirc" x="272.4" y="1090.2"/><use href="#mcirc" x="273.5" y="1090.4"/><use href="#mcirc" x="274.6" y="1090.2"/><use href="#mcirc" x="275.7" y="1090.1"/><use href="#mcirc" x="276.8" y="1090.3"/><use href="#mcirc" x="277.9" y="1090.5"/><use href="#mcirc" x="279" y="1090.5"/><use href="#mcirc" x="280.1" y="1090.1"/><use href="#mcirc" x="281.1" y="1090.3"/><use href="#mcirc" x="282.2" y="1090.2"/><use href="#mcirc" x="283.3" y="1090.1"/><use href="#mcirc" x="284.4" y="1090"/><use href="#mcirc" x="285.5" y="1090.2"/><use href="#mcirc" x="286.6" y="1090"/><use href="#mcirc" x="287.7" y="1090.2"/><use href="#mcirc" x="288.8" y="1090.1"/><use href="#mcirc" x="289.9" y="1090.2"/><use href="#mcirc" x="291" y="1089.8"/><use href="#mcirc" x="292.1" y="1090"/><use href="#mcirc" x="293.2" y="1090.1"/><use href="#mcirc" x="294.3" y="1090"/><use href="#mcirc" x="295.4" y="1089.9"/><use href="#mcirc" x="296.5" y="1089.7"/><use href="#mcirc" x="297.6" y="1090.1"/><use href="#mcirc" x="298.7" y="1090"/><use href="#mcirc" x="299.8" y="1089.8"/><use href="#mcirc" x="300.9" y="1089.3"/><use href="#mcirc" x="302" y="1089.6"/><use href="#mcirc" x="303.1" y="1089.7"/><use href="#mcirc" x="304.2" y="1089.6"/><use href="#mcirc" x="305.3" y="1089.3"/><use href="#mcirc" x="306.4" y="1089.7"/><use href="#mcirc" x="307.5" y="1089.7"/><use href="#mcirc" x="308.6" y="1089.4"/><use href="#mcirc" x="309.7" y="1089.5"/><use href="#mcirc" x="310.8" y="1089.4"/><use href="#mcirc" x="311.9" y="1089.6"/><use href="#mcirc" x="313" y="1089.1"/><use href="#mcirc" x="314" y="1089.2"/><use href="#mcirc" x="315.1" y="1089.4"/><use href="#mcirc" x="316.2" y="1089.4"/><use href="#mcirc" x="317.3" y="1089.9"/><use href="#mcirc" x="318.4" y="1089.4"/><use href="#mcirc" x="319.5" y="1089.6"/><use href="#mcirc" x="320.6" y="1089.6"/><use href="#mcirc" x="321.7" y="1089.6"/><use href="#mcirc" x="322.8" y="1089.8"/><use href="#mcirc" x="323.9" y="1090.2"/><use href="#mcirc" x="325" y="1089.8"/><use href="#mcirc" x="326.1" y="1090.1"/><use href="#mcirc" x="327.2" y="1090.1"/><use href="#mcirc" x="328.3" y="1090.2"/><use href="#mcirc" x="329.4" y="1090.1"/><use href="#mcirc" x="330.5" y="1090.5"/><use href="#mcirc" x="331.6" y="1089.9"/><use href="#mcirc" x="332.7" y="1090"/><use href="#mcirc" x="333.8" y="1089.9"/><use href="#mcirc" x="334.9" y="1089.7"/><use href="#mcirc" x="336" y="1090.1"/><use href="#mcirc" x="337.1" y="1090.4"/><use href="#mcirc" x="338.2" y="1090.2"/><use href="#mcirc" x="339.3" y="1090.3"/><use href="#mcirc" x="340.4" y="1090.1"/><use href="#mcirc" x="341.5" y="1090"/><use href="#mcirc" x="342.6" y="1090.4"/><use href="#mcirc" x="343.7" y="1089.9"/><use href="#mcirc" x="344.8" y="1090.2"/><use href="#mcirc" x="345.8" y="1089.8"/><use href="#mcirc" x="346.9" y="1089.9"/><use href="#mcirc" x="348" y="1089.8"/><use href="#mcirc" x="349.1" y="1089.8"/><use href="#mcirc" x="350.2" y="1089.8"/><use href="#mcirc" x="351.3" y="1089.8"/><use href="#mcirc" x="352.4" y="1089.9"/><use href="#mcirc" x="353.5" y="1089.6"/><use href="#mcirc" x="354.6" y="1089.3"/><use href="#mcirc" x="355.7" y="1089.3"/><use href="#mcirc" x="356.8" y="1089.4"/><use href="#mcirc" x="357.9" y="1089.5"/><use href="#mcirc" x="359" y="1089.8"/><use href="#mcirc" x="360.1" y="1089.4"/><use href="#mcirc" x="361.2" y="1089.7"/><use href="#mcirc" x="362.3" y="1089.8"/><use href="#mcirc" x="363.4" y="1089.9"/><use href="#mcirc" x="364.5" y="1089.9"/><use href="#mcirc" x="365.6" y="1090"/><use href="#mcirc" x="366.7" y="1090"/><use href="#mcirc" x="367.8" y="1090.2"/><use href="#mcirc" x="368.9" y="1090.1"/><use href="#mcirc" x="370" y="1089.6"/><use href="#mcirc" x="371.1" y="1090"/><use href="#mcirc" x="372.2" y="1090"/><use href="#mcirc" x="373.3" y="1089.8"/><use href="#mcirc" x="374.4" y="1089.7"/><use href="#mcirc" x="375.5" y="1089.9"/><use href="#mcirc" x="376.6" y="1089.6"/><use href="#mcirc" x="377.6" y="1089.4"/><use href="#mcirc" x="378.7" y="1089.4"/><use href="#mcirc" x="379.8" y="1089.4"/><use href="#mcirc" x="380.9" y="1089.1"/><use href="#mcirc" x="382" y="1089.5"/><use href="#mcirc" x="383.1" y="1089.4"/><use href="#mcirc" x="384.2" y="1089.5"/><use href="#mcirc" x="385.3" y="1089.2"/><use href="#mcirc" x="386.4" y="1089.8"/><use href="#mcirc" x="387.5" y="1089.6"/><use href="#mcirc" x="388.6" y="1089.6"/><use href="#mcirc" x="389.7" y="1089.3"/><use href="#mcirc" x="390.8" y="1089.3"/><use href="#mcirc" x="391.9" y="1089.2"/><use href="#mcirc" x="393" y="1089.7"/><use href="#mcirc" x="394.1" y="1089.3"/><use href="#mcirc" x="395.2" y="1089.5"/><use href="#mcirc" x="396.3" y="1089.5"/><use href="#mcirc" x="397.4" y="1089.3"/><use href="#mcirc" x="398.5" y="1089.6"/><use href="#mcirc" x="399.6" y="1089.9"/><use href="#mcirc" x="400.7" y="1089.6"/><use href="#mcirc" x="401.8" y="1089.8"/><use href="#mcirc" x="402.9" y="1089.6"/><use href="#mcirc" x="404" y="1089.4"/><use href="#mcirc" x="405.1" y="1089.4"/><use href="#mcirc" x="406.2" y="1089.1"/><use href="#mcirc" x="407.3" y="1089.4"/><use href="#mcirc" x="408.4" y="1089.6"/><use href="#mcirc" x="409.5" y="1089.4"/><use href="#mcirc" x="410.5" y="1089.4"/><use href="#mcirc" x="411.6" y="1089.4"/><use href="#mcirc" x="412.7" y="1089.1"/><use href="#mcirc" x="413.8" y="1089.3"/><use href="#mcirc" x="414.9" y="1089.5"/><use href="#mcirc" x="416" y="1089"/><use href="#mcirc" x="417.1" y="1089.1"/><use href="#mcirc" x="418.2" y="1089"/><use href="#mcirc" x="419.3" y="1089.1"/><use href="#mcirc" x="420.4" y="1089"/><use href="#mcirc" x="421.5" y="1089.1"/><use href="#mcirc" x="422.6" y="1088.9"/><use href="#mcirc" x="423.7" y="1089"/><use href="#mcirc" x="424.8" y="1089"/><use href="#mcirc" x="425.9" y="1089"/><use href="#mcirc" x="427" y="1089.4"/><use href="#mcirc" x="428.1" y="1089.1"/><use href="#mcirc" x="429.2" y="1089.2"/><use href="#mcirc" x="430.3" y="1089.1"/><use href="#mcirc" x="431.4" y="1089.4"/><use href="#mcirc" x="432.5" y="1088.9"/><use href="#mcirc" x="433.6" y="1089.2"/><use href="#mcirc" x="434.7" y="1089.4"/><use href="#mcirc" x="435.8" y="1089.5"/><use href="#mcirc" x="436.9" y="1089.3"/><use href="#mcirc" x="438" y="1089.3"/><use href="#mcirc" x="439.1" y="1089.4"/><use href="#mcirc" x="440.2" y="1089.3"/><use href="#mcirc" x="441.3" y="1089.4"/><use href="#mcirc" x="442.3" y="1089.2"/><use href="#mcirc" x="443.4" y="1089.3"/><use href="#mcirc" x="444.5" y="1089.2"/><use href="#mcirc" x="445.6" y="1089"/><use href="#mcirc" x="446.7" y="1088.6"/><use href="#mcirc" x="447.8" y="1089.2"/><use href="#mcirc" x="448.9" y="1089.1"/><use href="#mcirc" x="450" y="1089.1"/><use href="#mcirc" x="451.1" y="1088.8"/><use href="#mcirc" x="452.2" y="1089.1"/><use href="#mcirc" x="453.3" y="1089"/><use href="#mcirc" x="454.4" y="1088.9"/><use href="#mcirc" x="455.5" y="1089.1"/><use href="#mcirc" x="456.6" y="1089.1"/><use href="#mcirc" x="457.7" y="1089.1"/><use href="#mcirc" x="458.8" y="1089.4"/><use href="#mcirc" x="459.9" y="1089.2"/><use href="#mcirc" x="461" y="1089"/><use href="#mcirc" x="462.1" y="1088.9"/><use href="#mcirc" x="463.2" y="1088.9"/><use href="#mcirc" x="464.3" y="1089.1"/><use href="#mcirc" x="465.4" y="1088.8"/><use href="#mcirc" x="466.5" y="1088.5"/><use href="#mcirc" x="467.6" y="1088.5"/><use href="#mcirc" x="468.7" y="1088.6"/><use href="#mcirc" x="469.8" y="1088.7"/><use href="#mcirc" x="470.9" y="1088.4"/><use href="#mcirc" x="472" y="1088.6"/><use href="#mcirc" x="473.1" y="1088.7"/><use href="#mcirc" x="474.2" y="1088.7"/><use href="#mcirc" x="475.2" y="1088.3"/><use href="#mcirc" x="476.3" y="1088.6"/><use href="#mcirc" x="477.4" y="1088.4"/><use href="#mcirc" x="478.5" y="1088.7"/><use href="#mcirc" x="479.6" y="1088.4"/><use href="#mcirc" x="480.7" y="1088.7"/><use href="#mcirc" x="481.8" y="1088.6"/><use href="#mcirc" x="482.9" y="1088"/><use href="#mcirc" x="484" y="1088.3"/><use href="#mcirc" x="485.1" y="1088.5"/><use href="#mcirc" x="486.2" y="1088.4"/><use href="#mcirc" x="487.3" y="1088.2"/><use href="#mcirc" x="488.4" y="1088"/><use href="#mcirc" x="489.5" y="1088.3"/><use href="#mcirc" x="490.6" y="1088.5"/><use href="#mcirc" x="491.7" y="1088.3"/><use href="#mcirc" x="492.8" y="1088.2"/><use href="#mcirc" x="493.9" y="1088.3"/><use href="#mcirc" x="495" y="1088.1"/><use href="#mcirc" x="496.1" y="1088.3"/><use href="#mcirc" x="497.2" y="1088.2"/><use href="#mcirc" x="498.3" y="1088.5"/><use href="#mcirc" x="499.4" y="1088.2"/><use href="#mcirc" x="500.5" y="1087.9"/><use href="#mcirc" x="501.6" y="1088.1"/><use href="#mcirc" x="502.7" y="1088.1"/><use href="#mcirc" x="503.8" y="1088.1"/><use href="#mcirc" x="504.9" y="1087.8"/><use href="#mcirc" x="506" y="1088.2"/><use href="#mcirc" x="507" y="1088"/><use href="#mcirc" x="508.1" y="1087.9"/><use href="#mcirc" x="509.2" y="1087.8"/><use href="#mcirc" x="510.3" y="1088"/><use href="#mcirc" x="511.4" y="1087.9"/><use href="#mcirc" x="512.5" y="1087.9"/><use href="#mcirc" x="513.6" y="1087.8"/><use href="#mcirc" x="514.7" y="1087.8"/><use href="#mcirc" x="515.8" y="1088"/><use href="#mcirc" x="516.9" y="1087.7"/><use href="#mcirc" x="518" y="1087.5"/><use href="#mcirc" x="519.1" y="1087.8"/><use href="#mcirc" x="520.2" y="1087.7"/><use href="#mcirc" x="521.3" y="1087.5"/><use href="#mcirc" x="522.4" y="1087.8"/><use href="#mcirc" x="523.5" y="1087.6"/><use href="#mcirc" x="524.6" y="1087.9"/><use href="#mcirc" x="525.7" y="1087.5"/><use href="#mcirc" x="526.8" y="1087.3"/><use href="#mcirc" x="527.9" y="1087.3"/><use href="#mcirc" x="529" y="1087.7"/><use href="#mcirc" x="530.1" y="1087.5"/><use href="#mcirc" x="531.2" y="1087.6"/><use href="#mcirc" x="532.3" y="1087.6"/><use href="#mcirc" x="533.4" y="1087.3"/><use href="#mcirc" x="534.5" y="1087.8"/><use href="#mcirc" x="535.6" y="1087.3"/><use href="#mcirc" x="536.7" y="1087.5"/><use href="#mcirc" x="537.8" y="1087.2"/><use href="#mcirc" x="538.9" y="1087.4"/><use href="#mcirc" x="539.9" y="1087.6"/><use href="#mcirc" x="541" y="1087.4"/><use href="#mcirc" x="542.1" y="1087.2"/><use href="#mcirc" x="543.2" y="1087.3"/><use href="#mcirc" x="544.3" y="1087.2"/><use href="#mcirc" x="545.4" y="1087.3"/><use href="#mcirc" x="546.5" y="1087.6"/><use href="#mcirc" x="547.6" y="1087"/><use href="#mcirc" x="548.7" y="1087"/><use href="#mcirc" x="549.8" y="1087.1"/><use href="#mcirc" x="550.9" y="1087.1"/><use href="#mcirc" x="552" y="1086.9"/><use href="#mcirc" x="553.1" y="1087.2"/><use href="#mcirc" x="554.2" y="1087.3"/><use href="#mcirc" x="555.3" y="1087.2"/><use href="#mcirc" x="556.4" y="1087"/><use href="#mcirc" x="557.5" y="1087.5"/><use href="#mcirc" x="558.6" y="1087.1"/><use href="#mcirc" x="559.7" y="1087.4"/><use href="#mcirc" x="560.8" y="1087.5"/><use href="#mcirc" x="561.9" y="1087.1"/><use href="#mcirc" x="563" y="1087.4"/><use href="#mcirc" x="564.1" y="1087.6"/><use href="#mcirc" x="565.2" y="1087.5"/><use href="#mcirc" x="566.3" y="1087.2"/><use href="#mcirc" x="567.4" y="1087.2"/><use href="#mcirc" x="568.5" y="1087.5"/><use href="#mcirc" x="569.6" y="1087.4"/><use href="#mcirc" x="570.7" y="1087.3"/><use href="#mcirc" x="571.7" y="1087.6"/><use href="#mcirc" x="572.8" y="1087.4"/><use href="#mcirc" x="573.9" y="1087.4"/><use href="#mcirc" x="575" y="1087.4"/><use href="#mcirc" x="576.1" y="1087.4"/><use href="#mcirc" x="577.2" y="1087.2"/><use href="#mcirc" x="578.3" y="1087.2"/><use href="#mcirc" x="579.4" y="1087.3"/><use href="#mcirc" x="580.5" y="1087.2"/><use href="#mcirc" x="581.6" y="1086.9"/><use href="#mcirc" x="582.7" y="1087"/><use href="#mcirc" x="583.8" y="1086.8"/><use href="#mcirc" x="584.9" y="1086.8"/><use href="#mcirc" x="586" y="1086.9"/><use href="#mcirc" x="587.1" y="1086.6"/><use href="#mcirc" x="588.2" y="1087.1"/><use href="#mcirc" x="589.3" y="1086.8"/><use href="#mcirc" x="590.4" y="1087"/><use href="#mcirc" x="591.5" y="1086.6"/><use href="#mcirc" x="592.6" y="1086.7"/><use href="#mcirc" x="593.7" y="1087.4"/><use href="#mcirc" x="594.8" y="1087.2"/><use href="#mcirc" x="595.9" y="1086.9"/><use href="#mcirc" x="597" y="1086.9"/><use href="#mcirc" x="598.1" y="1087"/><use href="#mcirc" x="599.2" y="1087.2"/><use href="#mcirc" x="600.3" y="1087.1"/><use href="#mcirc" x="601.4" y="1087.1"/><use href="#mcirc" x="602.5" y="1087.3"/><use href="#mcirc" x="603.5" y="1087.1"/><use href="#mcirc" x="604.6" y="1087.7"/><use href="#mcirc" x="605.7" y="1087.2"/><use href="#mcirc" x="606.8" y="1087.4"/><use href="#mcirc" x="607.9" y="1087.1"/><use href="#mcirc" x="609" y="1087.3"/><use href="#mcirc" x="610.1" y="1087.4"/><use href="#mcirc" x="611.2" y="1087.1"/><use href="#mcirc" x="612.3" y="1087.3"/><use href="#mcirc" x="613.4" y="1087.3"/><use href="#mcirc" x="614.5" y="1087.4"/><use href="#mcirc" x="615.6" y="1087.1"/><use href="#mcirc" x="616.7" y="1087"/><use href="#mcirc" x="617.8" y="1086.9"/><use href="#mcirc" x="618.9" y="1087"/><use href="#mcirc" x="620" y="1086.8"/><use href="#mcirc" x="621.1" y="1086.9"/><use href="#mcirc" x="622.2" y="1086.9"/><use href="#mcirc" x="623.3" y="1086.8"/><use href="#mcirc" x="624.4" y="1086.7"/><use href="#mcirc" x="625.5" y="1087"/><use href="#mcirc" x="626.6" y="1087"/><use href="#mcirc" x="627.7" y="1087"/><use href="#mcirc" x="628.8" y="1087"/><use href="#mcirc" x="629.9" y="1087.3"/><use href="#mcirc" x="631" y="1086.9"/><use href="#mcirc" x="632.1" y="1087.2"/><use href="#mcirc" x="633.2" y="1087.1"/><use href="#mcirc" x="634.3" y="1087.3"/><use href="#mcirc" x="635.4" y="1087.1"/><use href="#mcirc" x="636.4" y="1087.1"/><use href="#mcirc" x="637.5" y="1087.3"/><use href="#mcirc" x="638.6" y="1086.8"/><use href="#mcirc" x="639.7" y="1087.1"/><use href="#mcirc" x="640.8" y="1086.8"/><use href="#mcirc" x="641.9" y="1087"/><use href="#mcirc" x="643" y="1087.3"/><use href="#mcirc" x="644.1" y="1087.2"/><use href="#mcirc" x="645.2" y="1087"/><use href="#mcirc" x="646.3" y="1087.1"/><use href="#mcirc" x="647.4" y="1087.1"/><use href="#mcirc" x="648.5" y="1087.2"/><use href="#mcirc" x="649.6" y="1087.4"/><use href="#mcirc" x="650.7" y="1087.2"/><use href="#mcirc" x="651.8" y="1087.5"/></g>
<g fill="#fff" stroke="#f51a1a" stroke-width="1.5" clip-path="url(#cc)"><use href="#mtup" x="104.6" y="1067.1"/><use href="#mtup" x="105.7" y="1057.5"/><use href="#mtup" x="106.8" y="1054.6"/><use href="#mtup" x="107.9" y="1053.4"/><use href="#mtup" x="109" y="1052.9"/><use href="#mtup" x="110.1" y="1053"/><use href="#mtup" x="111.2" y="1052.9"/><use href="#mtup" x="112.3" y="1053"/><use href="#mtup" x="113.4" y="1052.9"/><use href="#mtup" x="114.5" y="1052.9"/><use href="#mtup" x="115.6" y="1053"/><use href="#mtup" x="116.7" y="1053.1"/><use href="#mtup" x="117.8" y="1053.1"/><use href="#mtup" x="118.9" y="1052.7"/><use href="#mtup" x="119.9" y="1053"/><use href="#mtup" x="121" y="1053"/><use href="#mtup" x="122.1" y="1053"/><use href="#mtup" x="123.2" y="1052.9"/><use href="#mtup" x="124.3" y="1052.8"/><use href="#mtup" x="125.4" y="1053"/><use href="#mtup" x="126.5" y="1053.2"/><use href="#mtup" x="127.6" y="1052.8"/><use href="#mtup" x="128.7" y="1053.2"/><use href="#mtup" x="129.8" y="1052.9"/><use href="#mtup" x="130.9" y="1053"/><use href="#mtup" x="132" y="1052.9"/><use href="#mtup" x="133.1" y="1052.9"/><use href="#mtup" x="134.2" y="1053.2"/><use href="#mtup" x="135.3" y="1053.4"/><use href="#mtup" x="136.4" y="1053.6"/><use href="#mtup" x="137.5" y="1053.6"/><use href="#mtup" x="138.6" y="1053.5"/><use href="#mtup" x="139.7" y="1053.8"/><use href="#mtup" x="140.8" y="1053.5"/><use href="#mtup" x="141.9" y="1053.5"/><use href="#mtup" x="143" y="1053.3"/><use href="#mtup" x="144.1" y="1053.4"/><use href="#mtup" x="145.2" y="1053.3"/><use href="#mtup" x="146.3" y="1053.4"/><use href="#mtup" x="147.4" y="1053.2"/><use href="#mtup" x="148.5" y="1053.4"/><use href="#mtup" x="149.6" y="1053"/><use href="#mtup" x="150.7" y="1052.8"/><use href="#mtup" x="151.8" y="1053"/><use href="#mtup" x="152.8" y="1052.9"/><use href="#mtup" x="153.9" y="1053.2"/><use href="#mtup" x="155" y="1052.8"/><use href="#mtup" x="156.1" y="1053.2"/><use href="#mtup" x="157.2" y="1053"/><use href="#mtup" x="158.3" y="1053.1"/><use href="#mtup" x="159.4" y="1053.4"/><use href="#mtup" x="160.5" y="1053.1"/><use href="#mtup" x="161.6" y="1053.3"/><use href="#mtup" x="162.7" y="1053.3"/><use href="#mtup" x="163.8" y="1053.3"/><use href="#mtup" x="164.9" y="1053.3"/><use href="#mtup" x="166" y="1053.4"/><use href="#mtup" x="167.1" y="1053.2"/><use href="#mtup" x="168.2" y="1053.3"/><use href="#mtup" x="169.3" y="1053.2"/><use href="#mtup" x="170.4" y="1053.3"/><use href="#mtup" x="171.5" y="1053.4"/><use href="#mtup" x="172.6" y="1053.3"/><use href="#mtup" x="173.7" y="1053.3"/><use href="#mtup" x="174.8" y="1053.2"/><use href="#mtup" x="175.9" y="1053.1"/><use href="#mtup" x="177" y="1053.6"/><use href="#mtup" x="178.1" y="1053.4"/><use href="#mtup" x="179.2" y="1053.8"/><use href="#mtup" x="180.3" y="1053.6"/><use href="#mtup" x="181.4" y="1053.6"/><use href="#mtup" x="182.5" y="1053.9"/><use href="#mtup" x="183.6" y="1053.8"/><use href="#mtup" x="184.6" y="1053.6"/><use href="#mtup" x="185.7" y="1053.6"/><use href="#mtup" x="186.8" y="1053.6"/><use href="#mtup" x="187.9" y="1053.8"/><use href="#mtup" x="189" y="1053.3"/><use href="#mtup" x="190.1" y="1053.7"/><use href="#mtup" x="191.2" y="1053.8"/><use href="#mtup" x="192.3" y="1055.5"/><use href="#mtup" x="193.4" y="1053.6"/><use href="#mtup" x="194.5" y="1053.8"/><use href="#mtup" x="195.6" y="1053.6"/><use href="#mtup" x="196.7" y="1053.7"/><use href="#mtup" x="197.8" y="1053.6"/><use href="#mtup" x="198.9" y="1053.7"/><use href="#mtup" x="200" y="1053.9"/><use href="#mtup" x="201.1" y="1053.6"/><use href="#mtup" x="202.2" y="1053.7"/><use href="#mtup" x="203.3" y="1053.9"/><use href="#mtup" x="204.4" y="1053.8"/><use href="#mtup" x="205.5" y="1053.6"/><use href="#mtup" x="206.6" y="1053.8"/><use href="#mtup" x="207.7" y="1053.8"/><use href="#mtup" x="208.8" y="1053.7"/><use href="#mtup" x="209.9" y="1053.8"/><use href="#mtup" x="211" y="1054.1"/><use href="#mtup" x="212.1" y="1053.8"/><use href="#mtup" x="213.2" y="1053.7"/><use href="#mtup" x="214.3" y="1053.7"/><use href="#mtup" x="215.4" y="1053.6"/><use href="#mtup" x="216.4" y="1053.8"/><use href="#mtup" x="217.5" y="1053.7"/><use href="#mtup" x="218.6" y="1053.6"/><use href="#mtup" x="219.7" y="1053.9"/><use href="#mtup" x="220.8" y="1053.6"/><use href="#mtup" x="221.9" y="1053.6"/><use href="#mtup" x="223" y="1053.8"/><use href="#mtup" x="224.1" y="1053.6"/><use href="#mtup" x="225.2" y="1053.8"/><use href="#mtup" x="226.3" y="1054.1"/><use href="#mtup" x="227.4" y="1053.8"/><use href="#mtup" x="228.5" y="1054"/><use href="#mtup" x="229.6" y="1054.1"/><use href="#mtup" x="230.7" y="1054.2"/><use href="#mtup" x="231.8" y="1054.1"/><use href="#mtup" x="232.9" y="1054.3"/><use href="#mtup" x="234" y="1054.5"/><use href="#mtup" x="235.1" y="1054.4"/><use href="#mtup" x="236.2" y="1054.4"/><use href="#mtup" x="237.3" y="1054.7"/><use href="#mtup" x="238.4" y="1054.7"/><use href="#mtup" x="239.5" y="1054.7"/><use href="#mtup" x="240.6" y="1054.8"/><use href="#mtup" x="241.7" y="1054.6"/><use href="#mtup" x="242.8" y="1054.5"/><use href="#mtup" x="243.9" y="1054.4"/><use href="#mtup" x="245" y="1054.5"/><use href="#mtup" x="246.1" y="1054.5"/><use href="#mtup" x="247.2" y="1054.5"/><use href="#mtup" x="248.3" y="1054.5"/><use href="#mtup" x="249.3" y="1054.8"/><use href="#mtup" x="250.4" y="1054.6"/><use href="#mtup" x="251.5" y="1054.7"/><use href="#mtup" x="252.6" y="1054.7"/><use href="#mtup" x="253.7" y="1054.8"/><use href="#mtup" x="254.8" y="1054.9"/><use href="#mtup" x="255.9" y="1054.9"/><use href="#mtup" x="257" y="1055.1"/><use href="#mtup" x="258.1" y="1054.8"/><use href="#mtup" x="259.2" y="1054.9"/><use href="#mtup" x="260.3" y="1054.9"/><use href="#mtup" x="261.4" y="1054.9"/><use href="#mtup" x="262.5" y="1054.9"/><use href="#mtup" x="263.6" y="1055.1"/><use href="#mtup" x="264.7" y="1055"/><use href="#mtup" x="265.8" y="1055.2"/><use href="#mtup" x="266.9" y="1055.3"/><use href="#mtup" x="268" y="1055.2"/><use href="#mtup" x="269.1" y="1054.6"/><use href="#mtup" x="270.2" y="1055.1"/><use href="#mtup" x="271.3" y="1054.7"/><use href="#mtup" x="272.4" y="1054.6"/><use href="#mtup" x="273.5" y="1054.8"/><use href="#mtup" x="274.6" y="1054.5"/><use href="#mtup" x="275.7" y="1054.5"/><use href="#mtup" x="276.8" y="1054.6"/><use href="#mtup" x="277.9" y="1054.3"/><use href="#mtup" x="279" y="1054.6"/><use href="#mtup" x="280.1" y="1054.8"/><use href="#mtup" x="281.1" y="1054.6"/><use href="#mtup" x="282.2" y="1054.8"/><use href="#mtup" x="283.3" y="1054.9"/><use href="#mtup" x="284.4" y="1054.9"/><use href="#mtup" x="285.5" y="1054.3"/><use href="#mtup" x="286.6" y="1054.8"/><use href="#mtup" x="287.7" y="1054.7"/><use href="#mtup" x="288.8" y="1054.8"/><use href="#mtup" x="289.9" y="1054.7"/><use href="#mtup" x="291" y="1054.7"/><use href="#mtup" x="292.1" y="1054.8"/><use href="#mtup" x="293.2" y="1054.9"/><use href="#mtup" x="294.3" y="1055"/><use href="#mtup" x="295.4" y="1054.9"/><use href="#mtup" x="296.5" y="1054.8"/><use href="#mtup" x="297.6" y="1054.5"/><use href="#mtup" x="298.7" y="1054.7"/><use href="#mtup" x="299.8" y="1054.6"/><use href="#mtup" x="300.9" y="1054.8"/><use href="#mtup" x="302" y="1054.9"/><use href="#mtup" x="303.1" y="1055.1"/><use href="#mtup" x="304.2" y="1054.9"/><use href="#mtup" x="305.3" y="1055.2"/><use href="#mtup" x="306.4" y="1054.9"/><use href="#mtup" x="307.5" y="1054.6"/><use href="#mtup" x="308.6" y="1054.8"/><use href="#mtup" x="309.7" y="1054.7"/><use href="#mtup" x="310.8" y="1055"/><use href="#mtup" x="311.9" y="1055.1"/><use href="#mtup" x="313" y="1055"/><use href="#mtup" x="314" y="1055"/><use href="#mtup" x="315.1" y="1054.8"/><use href="#mtup" x="316.2" y="1054.7"/><use href="#mtup" x="317.3" y="1055.2"/><use href="#mtup" x="318.4" y="1055.2"/><use href="#mtup" x="319.5" y="1055.2"/><use href="#mtup" x="320.6" y="1055.3"/><use href="#mtup" x="321.7" y="1055.5"/><use href="#mtup" x="322.8" y="1055.3"/><use href="#mtup" x="323.9" y="1055.3"/><use href="#mtup" x="325" y="1055.4"/><use href="#mtup" x="326.1" y="1055.7"/><use href="#mtup" x="327.2" y="1055.6"/><use href="#mtup" x="328.3" y="1055.8"/><use href="#mtup" x="329.4" y="1055.5"/><use href="#mtup" x="330.5" y="1055.8"/><use href="#mtup" x="331.6" y="1055.7"/><use href="#mtup" x="332.7" y="1055.7"/><use href="#mtup" x="333.8" y="1055.7"/><use href="#mtup" x="334.9" y="1055.8"/><use href="#mtup" x="336" y="1055.9"/><use href="#mtup" x="337.1" y="1055.4"/><use href="#mtup" x="338.2" y="1055.6"/><use href="#mtup" x="339.3" y="1055.6"/><use href="#mtup" x="340.4" y="1055.4"/><use href="#mtup" x="341.5" y="1055.7"/><use href="#mtup" x="342.6" y="1055.7"/><use href="#mtup" x="343.7" y="1055.8"/><use href="#mtup" x="344.8" y="1055.6"/><use href="#mtup" x="345.8" y="1055.8"/><use href="#mtup" x="346.9" y="1055.8"/><use href="#mtup" x="348" y="1055.9"/><use href="#mtup" x="349.1" y="1055.8"/><use href="#mtup" x="350.2" y="1055.7"/><use href="#mtup" x="351.3" y="1056.1"/><use href="#mtup" x="352.4" y="1055.8"/><use href="#mtup" x="353.5" y="1055.8"/><use href="#mtup" x="354.6" y="1055.7"/><use href="#mtup" x="355.7" y="1055.9"/><use href="#mtup" x="356.8" y="1055.5"/><use href="#mtup" x="357.9" y="1055.7"/><use href="#mtup" x="359" y="1055.6"/><use href="#mtup" x="360.1" y="1055.6"/><use href="#mtup" x="361.2" y="1055.8"/><use href="#mtup" x="362.3" y="1055.6"/><use href="#mtup" x="363.4" y="1055.8"/><use href="#mtup" x="364.5" y="1055.7"/><use href="#mtup" x="365.6" y="1055.6"/><use href="#mtup" x="366.7" y="1055.6"/><use href="#mtup" x="367.8" y="1055.6"/><use href="#mtup" x="368.9" y="1055.6"/><use href="#mtup" x="370" y="1055.3"/><use href="#mtup" x="371.1" y="1055.6"/><use href="#mtup" x="372.2" y="1055.2"/><use href="#mtup" x="373.3" y="1055.1"/><use href="#mtup" x="374.4" y="1055.2"/><use href="#mtup" x="375.5" y="1055.1"/><use href="#mtup" x="376.6" y="1055.2"/><use href="#mtup" x="377.6" y="1055.3"/><use href="#mtup" x="378.7" y="1054.9"/><use href="#mtup" x="379.8" y="1055.2"/><use href="#mtup" x="380.9" y="1055.2"/><use href="#mtup" x="382" y="1055.2"/><use href="#mtup" x="383.1" y="1055.2"/><use href="#mtup" x="384.2" y="1055"/><use href="#mtup" x="385.3" y="1055.1"/><use href="#mtup" x="386.4" y="1055"/><use href="#mtup" x="387.5" y="1055.7"/><use href="#mtup" x="388.6" y="1055.1"/><use href="#mtup" x="389.7" y="1055"/><use href="#mtup" x="390.8" y="1054.8"/><use href="#mtup" x="391.9" y="1055.1"/><use href="#mtup" x="393" y="1055.3"/><use href="#mtup" x="394.1" y="1055"/><use href="#mtup" x="395.2" y="1055.1"/><use href="#mtup" x="396.3" y="1055.3"/><use href="#mtup" x="397.4" y="1055.2"/><use href="#mtup" x="398.5" y="1054.9"/><use href="#mtup" x="399.6" y="1054.9"/><use href="#mtup" x="400.7" y="1055"/><use href="#mtup" x="401.8" y="1055.3"/><use href="#mtup" x="402.9" y="1054.7"/><use href="#mtup" x="404" y="1055.3"/><use href="#mtup" x="405.1" y="1055.2"/><use href="#mtup" x="406.2" y="1055.4"/><use href="#mtup" x="407.3" y="1055"/><use href="#mtup" x="408.4" y="1056.5"/><use href="#mtup" x="409.5" y="1056.4"/><use href="#mtup" x="410.5" y="1056.5"/><use href="#mtup" x="411.6" y="1056.5"/><use href="#mtup" x="412.7" y="1056.5"/><use href="#mtup" x="413.8" y="1056.8"/><use href="#mtup" x="414.9" y="1056.4"/><use href="#mtup" x="416" y="1056.4"/><use href="#mtup" x="417.1" y="1056.5"/><use href="#mtup" x="418.2" y="1056.5"/><use href="#mtup" x="419.3" y="1056.4"/><use href="#mtup" x="420.4" y="1056.2"/><use href="#mtup" x="421.5" y="1056.4"/><use href="#mtup" x="422.6" y="1056.4"/><use href="#mtup" x="423.7" y="1056.5"/><use href="#mtup" x="424.8" y="1056.7"/><use href="#mtup" x="425.9" y="1056.5"/><use href="#mtup" x="427" y="1056.4"/><use href="#mtup" x="428.1" y="1056.5"/><use href="#mtup" x="429.2" y="1056.4"/><use href="#mtup" x="430.3" y="1056.4"/><use href="#mtup" x="431.4" y="1056.4"/><use href="#mtup" x="432.5" y="1056.5"/><use href="#mtup" x="433.6" y="1056.4"/><use href="#mtup" x="434.7" y="1056.5"/><use href="#mtup" x="435.8" y="1056.5"/><use href="#mtup" x="436.9" y="1056.5"/><use href="#mtup" x="438" y="1056.1"/><use href="#mtup" x="439.1" y="1055.7"/><use href="#mtup" x="440.2" y="1056.1"/><use href="#mtup" x="441.3" y="1055.8"/><use href="#mtup" x="442.3" y="1055.9"/><use href="#mtup" x="443.4" y="1055.7"/><use href="#mtup" x="444.5" y="1055.9"/><use href="#mtup" x="445.6" y="1056.1"/><use href="#mtup" x="446.7" y="1055.8"/><use href="#mtup" x="447.8" y="1056"/><use href="#mtup" x="448.9" y="1056"/><use href="#mtup" x="450" y="1056.1"/><use href="#mtup" x="451.1" y="1056"/><use href="#mtup" x="452.2" y="1056"/><use href="#mtup" x="453.3" y="1056.1"/><use href="#mtup" x="454.4" y="1056.4"/><use href="#mtup" x="455.5" y="1056.3"/><use href="#mtup" x="456.6" y="1056.2"/><use href="#mtup" x="457.7" y="1056"/><use href="#mtup" x="458.8" y="1056.2"/><use href="#mtup" x="459.9" y="1056.3"/><use href="#mtup" x="461" y="1056.1"/><use href="#mtup" x="462.1" y="1056.3"/><use href="#mtup" x="463.2" y="1056.2"/><use href="#mtup" x="464.3" y="1056.2"/><use href="#mtup" x="465.4" y="1056.4"/><use href="#mtup" x="466.5" y="1056.1"/><use href="#mtup" x="467.6" y="1056.1"/><use href="#mtup" x="468.7" y="1056.3"/><use href="#mtup" x="469.8" y="1056.4"/><use href="#mtup" x="470.9" y="1056.2"/><use href="#mtup" x="472" y="1056"/><use href="#mtup" x="473.1" y="1056.3"/><use href="#mtup" x="474.2" y="1056.4"/><use href="#mtup" x="475.2" y="1056.2"/><use href="#mtup" x="476.3" y="1056.5"/><use href="#mtup" x="477.4" y="1056.6"/><use href="#mtup" x="478.5" y="1056.3"/><use href="#mtup" x="479.6" y="1056.3"/><use href="#mtup" x="480.7" y="1056.2"/><use href="#mtup" x="481.8" y="1056.3"/><use href="#mtup" x="482.9" y="1056.1"/><use href="#mtup" x="484" y="1056.2"/><use href="#mtup" x="485.1" y="1056.3"/><use href="#mtup" x="486.2" y="1056.2"/><use href="#mtup" x="487.3" y="1056.1"/><use href="#mtup" x="488.4" y="1056"/><use href="#mtup" x="489.5" y="1056"/><use href="#mtup" x="490.6" y="1056.1"/><use href="#mtup" x="491.7" y="1056.7"/><use href="#mtup" x="492.8" y="1056.4"/><use href="#mtup" x="493.9" y="1056.3"/><use href="#mtup" x="495" y="1056.2"/><use href="#mtup" x="496.1" y="1056.5"/><use href="#mtup" x="497.2" y="1056"/><use href="#mtup" x="498.3" y="1056.2"/><use href="#mtup" x="499.4" y="1056.3"/><use href="#mtup" x="500.5" y="1056.2"/><use href="#mtup" x="501.6" y="1056.2"/><use href="#mtup" x="502.7" y="1056.2"/><use href="#mtup" x="503.8" y="1056"/><use href="#mtup" x="504.9" y="1056"/><use href="#mtup" x="506" y="1056.1"/><use href="#mtup" x="507" y="1056"/><use href="#mtup" x="508.1" y="1055.9"/><use href="#mtup" x="509.2" y="1056"/><use href="#mtup" x="510.3" y="1055.6"/><use href="#mtup" x="511.4" y="1056"/><use href="#mtup" x="512.5" y="1055.6"/><use href="#mtup" x="513.6" y="1055.7"/><use href="#mtup" x="514.7" y="1056.1"/><use href="#mtup" x="515.8" y="1055.9"/><use href="#mtup" x="516.9" y="1055.8"/><use href="#mtup" x="518" y="1056.1"/><use href="#mtup" x="519.1" y="1056.3"/><use href="#mtup" x="520.2" y="1056.1"/><use href="#mtup" x="521.3" y="1055.9"/><use href="#mtup" x="522.4" y="1056.4"/><use href="#mtup" x="523.5" y="1056.1"/><use href="#mtup" x="524.6" y="1056.1"/><use href="#mtup" x="525.7" y="1056.2"/><use href="#mtup" x="526.8" y="1056.2"/><use href="#mtup" x="527.9" y="1056.2"/><use href="#mtup" x="529" y="1055.9"/><use href="#mtup" x="530.1" y="1056"/><use href="#mtup" x="531.2" y="1056.2"/><use href="#mtup" x="532.3" y="1055.8"/><use href="#mtup" x="533.4" y="1056.2"/><use href="#mtup" x="534.5" y="1055.9"/><use href="#mtup" x="535.6" y="1056"/><use href="#mtup" x="536.7" y="1055.9"/><use href="#mtup" x="537.8" y="1056"/><use href="#mtup" x="538.9" y="1055.9"/><use href="#mtup" x="539.9" y="1056"/><use href="#mtup" x="541" y="1055.9"/><use href="#mtup" x="542.1" y="1056"/><use href="#mtup" x="543.2" y="1055.7"/><use href="#mtup" x="544.3" y="1056.2"/><use href="#mtup" x="545.4" y="1055.9"/><use href="#mtup" x="546.5" y="1056.1"/><use href="#mtup" x="547.6" y="1056.1"/><use href="#mtup" x="548.7" y="1056.2"/><use href="#mtup" x="549.8" y="1056.1"/><use href="#mtup" x="550.9" y="1056.4"/><use href="#mtup" x="552" y="1056.3"/><use href="#mtup" x="553.1" y="1056"/><use href="#mtup" x="554.2" y="1056.3"/><use href="#mtup" x="555.3" y="1055.9"/><use href="#mtup" x="556.4" y="1056.1"/><use href="#mtup" x="557.5" y="1056"/><use href="#mtup" x="558.6" y="1056"/><use href="#mtup" x="559.7" y="1056"/><use href="#mtup" x="560.8" y="1056.1"/><use href="#mtup" x="561.9" y="1056.1"/><use href="#mtup" x="563" y="1056.1"/><use href="#mtup" x="564.1" y="1055.9"/><use href="#mtup" x="565.2" y="1055.9"/><use href="#mtup" x="566.3" y="1055.9"/><use href="#mtup" x="567.4" y="1056.1"/><use href="#mtup" x="568.5" y="1056.2"/><use href="#mtup" x="569.6" y="1056.5"/><use href="#mtup" x="570.7" y="1056.1"/><use href="#mtup" x="571.7" y="1056.1"/><use href="#mtup" x="572.8" y="1056.3"/><use href="#mtup" x="573.9" y="1056.1"/><use href="#mtup" x="575" y="1056"/><use href="#mtup" x="576.1" y="1056.2"/><use href="#mtup" x="577.2" y="1056.1"/><use href="#mtup" x="578.3" y="1056.2"/><use href="#mtup" x="579.4" y="1056.5"/><use href="#mtup" x="580.5" y="1056.3"/><use href="#mtup" x="581.6" y="1056.4"/><use href="#mtup" x="582.7" y="1056.2"/><use href="#mtup" x="583.8" y="1056.5"/><use href="#mtup" x="584.9" y="1056.4"/><use href="#mtup" x="586" y="1056.5"/><use href="#mtup" x="587.1" y="1056.4"/><use href="#mtup" x="588.2" y="1056.4"/><use href="#mtup" x="589.3" y="1056.3"/><use href="#mtup" x="590.4" y="1056.3"/><use href="#mtup" x="591.5" y="1056.4"/><use href="#mtup" x="592.6" y="1056.4"/><use href="#mtup" x="593.7" y="1056.4"/><use href="#mtup" x="594.8" y="1056.4"/><use href="#mtup" x="595.9" y="1056.1"/><use href="#mtup" x="597" y="1056.7"/><use href="#mtup" x="598.1" y="1056.4"/><use href="#mtup" x="599.2" y="1056.3"/><use href="#mtup" x="600.3" y="1056.2"/><use href="#mtup" x="601.4" y="1056.5"/><use href="#mtup" x="602.5" y="1056.3"/><use href="#mtup" x="603.5" y="1056.3"/><use href="#mtup" x="604.6" y="1056.5"/><use href="#mtup" x="605.7" y="1056.8"/><use href="#mtup" x="606.8" y="1056.6"/><use href="#mtup" x="607.9" y="1056.8"/><use href="#mtup" x="609" y="1056.6"/><use href="#mtup" x="610.1" y="1056.8"/><use href="#mtup" x="611.2" y="1056.5"/><use href="#mtup" x="612.3" y="1056.8"/><use href="#mtup" x="613.4" y="1056.9"/><use href="#mtup" x="614.5" y="1056.9"/><use href="#mtup" x="615.6" y="1057"/><use href="#mtup" x="616.7" y="1056.8"/><use href="#mtup" x="617.8" y="1056.6"/><use href="#mtup" x="618.9" y="1056.8"/><use href="#mtup" x="620" y="1056.6"/><use href="#mtup" x="621.1" y="1056.9"/><use href="#mtup" x="622.2" y="1056.7"/><use href="#mtup" x="623.3" y="1056.3"/><use href="#mtup" x="624.4" y="1056.9"/><use href="#mtup" x="625.5" y="1056.4"/><use href="#mtup" x="626.6" y="1056.4"/><use href="#mtup" x="627.7" y="1056.9"/><use href="#mtup" x="628.8" y="1056.8"/><use href="#mtup" x="629.9" y="1056.8"/><use href="#mtup" x="631" y="1056.5"/><use href="#mtup" x="632.1" y="1056.7"/><use href="#mtup" x="633.2" y="1056.7"/><use href="#mtup" x="634.3" y="1056.6"/><use href="#mtup" x="635.4" y="1056.7"/><use href="#mtup" x="636.4" y="1056.7"/><use href="#mtup" x="637.5" y="1056.9"/><use href="#mtup" x="638.6" y="1056.7"/><use href="#mtup" x="639.7" y="1057"/><use href="#mtup" x="640.8" y="1056.7"/><use href="#mtup" x="641.9" y="1057.1"/><use href="#mtup" x="643" y="1057.2"/><use href="#mtup" x="644.1" y="1057"/><use href="#mtup" x="645.2" y="1057"/><use href="#mtup" x="646.3" y="1057.4"/><use href="#mtup" x="647.4" y="1057.1"/><use href="#mtup" x="648.5" y="1057.4"/><use href="#mtup" x="649.6" y="1057.3"/><use href="#mtup" x="650.7" y="1057"/><use href="#mtup" x="651.8" y="1057.3"/></g>
<g fill="#fff" stroke="#26a214" stroke-width="1.5" clip-path="url(#cc)"><use href="#mdia" x="104.6" y="993"/><use href="#mdia" x="105.7" y="979"/><use href="#mdia" x="106.8" y="973.8"/><use href="#mdia" x="107.9" y="972.6"/><use href="#mdia" x="109" y="973"/><use href="#mdia" x="110.1" y="973.1"/><use href="#mdia" x="111.2" y="973.2"/><use href="#mdia" x="112.3" y="973.8"/><use href="#mdia" x="113.4" y="973.7"/><use href="#mdia" x="114.5" y="973.9"/><use href="#mdia" x="115.6" y="974.4"/><use href="#mdia" x="116.7" y="974.4"/><use href="#mdia" x="117.8" y="975.2"/><use href="#mdia" x="118.9" y="975"/><use href="#mdia" x="119.9" y="975.3"/><use href="#mdia" x="121" y="975.7"/><use href="#mdia" x="122.1" y="975.5"/><use href="#mdia" x="123.2" y="975.7"/><use href="#mdia" x="124.3" y="975.8"/><use href="#mdia" x="125.4" y="975.7"/><use href="#mdia" x="126.5" y="975.6"/><use href="#mdia" x="127.6" y="976.2"/><use href="#mdia" x="128.7" y="976.3"/><use href="#mdia" x="129.8" y="976.9"/><use href="#mdia" x="130.9" y="976.8"/><use href="#mdia" x="132" y="976.8"/><use href="#mdia" x="133.1" y="982"/><use href="#mdia" x="134.2" y="977.5"/><use href="#mdia" x="135.3" y="977.9"/><use href="#mdia" x="136.4" y="978.2"/><use href="#mdia" x="137.5" y="978.2"/><use href="#mdia" x="138.6" y="978.6"/><use href="#mdia" x="139.7" y="978.7"/><use href="#mdia" x="140.8" y="978.3"/><use href="#mdia" x="141.9" y="982.9"/><use href="#mdia" x="143" y="978.4"/><use href="#mdia" x="144.1" y="979.5"/><use href="#mdia" x="145.2" y="979.2"/><use href="#mdia" x="146.3" y="979.8"/><use href="#mdia" x="147.4" y="979.7"/><use href="#mdia" x="148.5" y="980.3"/><use href="#mdia" x="149.6" y="980.2"/><use href="#mdia" x="150.7" y="980.5"/><use href="#mdia" x="151.8" y="980.7"/><use href="#mdia" x="152.8" y="980.7"/><use href="#mdia" x="153.9" y="980.6"/><use href="#mdia" x="155" y="981.3"/><use href="#mdia" x="156.1" y="981.1"/><use href="#mdia" x="157.2" y="981.5"/><use href="#mdia" x="158.3" y="981.8"/><use href="#mdia" x="159.4" y="981.4"/><use href="#mdia" x="160.5" y="987.8"/><use href="#mdia" x="161.6" y="982.5"/><use href="#mdia" x="162.7" y="983"/><use href="#mdia" x="163.8" y="982.7"/><use href="#mdia" x="164.9" y="982.8"/><use href="#mdia" x="166" y="981.9"/><use href="#mdia" x="167.1" y="982.9"/><use href="#mdia" x="168.2" y="982.5"/><use href="#mdia" x="169.3" y="982.7"/><use href="#mdia" x="170.4" y="983.1"/><use href="#mdia" x="171.5" y="982.7"/><use href="#mdia" x="172.6" y="982.3"/><use href="#mdia" x="173.7" y="982.6"/><use href="#mdia" x="174.8" y="982.5"/><use href="#mdia" x="175.9" y="982.3"/><use href="#mdia" x="177" y="982.7"/><use href="#mdia" x="178.1" y="982.4"/><use href="#mdia" x="179.2" y="982"/><use href="#mdia" x="180.3" y="981.9"/><use href="#mdia" x="181.4" y="982.3"/><use href="#mdia" x="182.5" y="982.1"/><use href="#mdia" x="183.6" y="982.1"/><use href="#mdia" x="184.6" y="982.1"/><use href="#mdia" x="185.7" y="982"/><use href="#mdia" x="186.8" y="982.2"/><use href="#mdia" x="187.9" y="982.2"/><use href="#mdia" x="189" y="982.7"/><use href="#mdia" x="190.1" y="982.7"/><use href="#mdia" x="191.2" y="982.4"/><use href="#mdia" x="192.3" y="982.9"/><use href="#mdia" x="193.4" y="982.5"/><use href="#mdia" x="194.5" y="987.6"/><use href="#mdia" x="195.6" y="982.8"/><use href="#mdia" x="196.7" y="982.4"/><use href="#mdia" x="197.8" y="982.8"/><use href="#mdia" x="198.9" y="982.8"/><use href="#mdia" x="200" y="982.7"/><use href="#mdia" x="201.1" y="982.5"/><use href="#mdia" x="202.2" y="981.8"/><use href="#mdia" x="203.3" y="983"/><use href="#mdia" x="204.4" y="982.5"/><use href="#mdia" x="205.5" y="982.5"/><use href="#mdia" x="206.6" y="982.2"/><use href="#mdia" x="207.7" y="982.5"/><use href="#mdia" x="208.8" y="983.1"/><use href="#mdia" x="209.9" y="982.1"/><use href="#mdia" x="211" y="982.8"/><use href="#mdia" x="212.1" y="982.5"/><use href="#mdia" x="213.2" y="982.9"/><use href="#mdia" x="214.3" y="983"/><use href="#mdia" x="215.4" y="982.9"/><use href="#mdia" x="216.4" y="982.6"/><use href="#mdia" x="217.5" y="982.8"/><use href="#mdia" x="218.6" y="983.2"/><use href="#mdia" x="219.7" y="988.1"/><use href="#mdia" x="220.8" y="983.2"/><use href="#mdia" x="221.9" y="983"/><use href="#mdia" x="223" y="982.9"/><use href="#mdia" x="224.1" y="982.7"/><use href="#mdia" x="225.2" y="982.9"/><use href="#mdia" x="226.3" y="982.6"/><use href="#mdia" x="227.4" y="982.4"/><use href="#mdia" x="228.5" y="982.3"/><use href="#mdia" x="229.6" y="982.5"/><use href="#mdia" x="230.7" y="981.8"/><use href="#mdia" x="231.8" y="982.4"/><use href="#mdia" x="232.9" y="982.1"/><use href="#mdia" x="234" y="982.3"/><use href="#mdia" x="235.1" y="982"/><use href="#mdia" x="236.2" y="982.9"/><use href="#mdia" x="237.3" y="981.8"/><use href="#mdia" x="238.4" y="982.3"/><use href="#mdia" x="239.5" y="982.5"/><use href="#mdia" x="240.6" y="982.1"/><use href="#mdia" x="241.7" y="981.4"/><use href="#mdia" x="242.8" y="981.8"/><use href="#mdia" x="243.9" y="982.1"/><use href="#mdia" x="245" y="981.9"/><use href="#mdia" x="246.1" y="981.4"/><use href="#mdia" x="247.2" y="982.1"/><use href="#mdia" x="248.3" y="981.9"/><use href="#mdia" x="249.3" y="982"/><use href="#mdia" x="250.4" y="981.5"/><use href="#mdia" x="251.5" y="982.2"/><use href="#mdia" x="252.6" y="981.9"/><use href="#mdia" x="253.7" y="982.5"/><use href="#mdia" x="254.8" y="982.5"/><use href="#mdia" x="255.9" y="982"/><use href="#mdia" x="257" y="982"/><use href="#mdia" x="258.1" y="982.5"/><use href="#mdia" x="259.2" y="981.8"/><use href="#mdia" x="260.3" y="981.6"/><use href="#mdia" x="261.4" y="981.9"/><use href="#mdia" x="262.5" y="981.6"/><use href="#mdia" x="263.6" y="981.5"/><use href="#mdia" x="264.7" y="981.7"/><use href="#mdia" x="265.8" y="981.8"/><use href="#mdia" x="266.9" y="981.8"/><use href="#mdia" x="268" y="981.8"/><use href="#mdia" x="269.1" y="982.2"/><use href="#mdia" x="270.2" y="981.9"/><use href="#mdia" x="271.3" y="982.4"/><use href="#mdia" x="272.4" y="982"/><use href="#mdia" x="273.5" y="982.1"/><use href="#mdia" x="274.6" y="982.4"/><use href="#mdia" x="275.7" y="981.9"/><use href="#mdia" x="276.8" y="985.6"/><use href="#mdia" x="277.9" y="981.7"/><use href="#mdia" x="279" y="982.4"/><use href="#mdia" x="280.1" y="981.7"/><use href="#mdia" x="281.1" y="982"/><use href="#mdia" x="282.2" y="982.1"/><use href="#mdia" x="283.3" y="982.3"/><use href="#mdia" x="284.4" y="982.1"/><use href="#mdia" x="285.5" y="981.8"/><use href="#mdia" x="286.6" y="982"/><use href="#mdia" x="287.7" y="982.3"/><use href="#mdia" x="288.8" y="982.3"/><use href="#mdia" x="289.9" y="982.2"/><use href="#mdia" x="291" y="981.9"/><use href="#mdia" x="292.1" y="981.5"/><use href="#mdia" x="293.2" y="982.2"/><use href="#mdia" x="294.3" y="981.9"/><use href="#mdia" x="295.4" y="982"/><use href="#mdia" x="296.5" y="982.1"/><use href="#mdia" x="297.6" y="981.8"/><use href="#mdia" x="298.7" y="981.7"/><use href="#mdia" x="299.8" y="982.2"/><use href="#mdia" x="300.9" y="982.1"/><use href="#mdia" x="302" y="981.5"/><use href="#mdia" x="303.1" y="981.7"/><use href="#mdia" x="304.2" y="981.6"/><use href="#mdia" x="305.3" y="981.8"/><use href="#mdia" x="306.4" y="981.8"/><use href="#mdia" x="307.5" y="981.6"/><use href="#mdia" x="308.6" y="981.8"/><use href="#mdia" x="309.7" y="981.9"/><use href="#mdia" x="310.8" y="981.7"/><use href="#mdia" x="311.9" y="981.4"/><use href="#mdia" x="313" y="982"/><use href="#mdia" x="314" y="981.4"/><use href="#mdia" x="315.1" y="981.5"/><use href="#mdia" x="316.2" y="982"/><use href="#mdia" x="317.3" y="981.8"/><use href="#mdia" x="318.4" y="981.8"/><use href="#mdia" x="319.5" y="981.7"/><use href="#mdia" x="320.6" y="981.7"/><use href="#mdia" x="321.7" y="982.3"/><use href="#mdia" x="322.8" y="982.4"/><use href="#mdia" x="323.9" y="981.8"/><use href="#mdia" x="325" y="982.1"/><use href="#mdia" x="326.1" y="982"/><use href="#mdia" x="327.2" y="982"/><use href="#mdia" x="328.3" y="981.6"/><use href="#mdia" x="329.4" y="982.2"/><use href="#mdia" x="330.5" y="981.5"/><use href="#mdia" x="331.6" y="982"/><use href="#mdia" x="332.7" y="981.4"/><use href="#mdia" x="333.8" y="981.1"/><use href="#mdia" x="334.9" y="981.8"/><use href="#mdia" x="336" y="981.3"/><use href="#mdia" x="337.1" y="981.4"/><use href="#mdia" x="338.2" y="981.5"/><use href="#mdia" x="339.3" y="981.4"/><use href="#mdia" x="340.4" y="981.7"/><use href="#mdia" x="341.5" y="981.8"/><use href="#mdia" x="342.6" y="981.4"/><use href="#mdia" x="343.7" y="981.4"/><use href="#mdia" x="344.8" y="981.9"/><use href="#mdia" x="345.8" y="982.1"/><use href="#mdia" x="346.9" y="981.2"/><use href="#mdia" x="348" y="981.5"/><use href="#mdia" x="349.1" y="981.7"/><use href="#mdia" x="350.2" y="982.1"/><use href="#mdia" x="351.3" y="981.9"/><use href="#mdia" x="352.4" y="981.7"/><use href="#mdia" x="353.5" y="982"/><use href="#mdia" x="354.6" y="981.3"/><use href="#mdia" x="355.7" y="981.7"/><use href="#mdia" x="356.8" y="981.6"/><use href="#mdia" x="357.9" y="982"/><use href="#mdia" x="359" y="982"/><use href="#mdia" x="360.1" y="982"/><use href="#mdia" x="361.2" y="981.7"/><use href="#mdia" x="362.3" y="981.9"/><use href="#mdia" x="363.4" y="981.9"/><use href="#mdia" x="364.5" y="981.8"/><use href="#mdia" x="365.6" y="981.9"/><use href="#mdia" x="366.7" y="981.6"/><use href="#mdia" x="367.8" y="982.1"/><use href="#mdia" x="368.9" y="982.3"/><use href="#mdia" x="370" y="982.1"/><use href="#mdia" x="371.1" y="981.7"/><use href="#mdia" x="372.2" y="982.2"/><use href="#mdia" x="373.3" y="982.1"/><use href="#mdia" x="374.4" y="982.2"/><use href="#mdia" x="375.5" y="982"/><use href="#mdia" x="376.6" y="982"/><use href="#mdia" x="377.6" y="982.3"/><use href="#mdia" x="378.7" y="982.1"/><use href="#mdia" x="379.8" y="981.7"/><use href="#mdia" x="380.9" y="981.6"/><use href="#mdia" x="382" y="981.6"/><use href="#mdia" x="383.1" y="981.6"/><use href="#mdia" x="384.2" y="981.9"/><use href="#mdia" x="385.3" y="981.8"/><use href="#mdia" x="386.4" y="981.4"/><use href="#mdia" x="387.5" y="981.9"/><use href="#mdia" x="388.6" y="981.6"/><use href="#mdia" x="389.7" y="982"/><use href="#mdia" x="390.8" y="981.6"/><use href="#mdia" x="391.9" y="981.7"/><use href="#mdia" x="393" y="981.8"/><use href="#mdia" x="394.1" y="981.3"/><use href="#mdia" x="395.2" y="981.6"/><use href="#mdia" x="396.3" y="981.4"/><use href="#mdia" x="397.4" y="981.3"/><use href="#mdia" x="398.5" y="981.4"/><use href="#mdia" x="399.6" y="980.8"/><use href="#mdia" x="400.7" y="981.1"/><use href="#mdia" x="401.8" y="980.8"/><use href="#mdia" x="402.9" y="981.1"/><use href="#mdia" x="404" y="980.8"/><use href="#mdia" x="405.1" y="980.7"/><use href="#mdia" x="406.2" y="980.6"/><use href="#mdia" x="407.3" y="980.6"/><use href="#mdia" x="408.4" y="980.4"/><use href="#mdia" x="409.5" y="980.1"/><use href="#mdia" x="410.5" y="980.7"/><use href="#mdia" x="411.6" y="980.7"/><use href="#mdia" x="412.7" y="980.9"/><use href="#mdia" x="413.8" y="980.3"/><use href="#mdia" x="414.9" y="980.6"/><use href="#mdia" x="416" y="981"/><use href="#mdia" x="417.1" y="981.1"/><use href="#mdia" x="418.2" y="981.5"/><use href="#mdia" x="419.3" y="981.5"/><use href="#mdia" x="420.4" y="981.4"/><use href="#mdia" x="421.5" y="981.5"/><use href="#mdia" x="422.6" y="981.8"/><use href="#mdia" x="423.7" y="981.7"/><use href="#mdia" x="424.8" y="981.4"/><use href="#mdia" x="425.9" y="981.4"/><use href="#mdia" x="427" y="982"/><use href="#mdia" x="428.1" y="981.3"/><use href="#mdia" x="429.2" y="981"/><use href="#mdia" x="430.3" y="981.4"/><use href="#mdia" x="431.4" y="981.1"/><use href="#mdia" x="432.5" y="981.6"/><use href="#mdia" x="433.6" y="981"/><use href="#mdia" x="434.7" y="981.5"/><use href="#mdia" x="435.8" y="981.5"/><use href="#mdia" x="436.9" y="981.3"/><use href="#mdia" x="438" y="980.7"/><use href="#mdia" x="439.1" y="981.6"/><use href="#mdia" x="440.2" y="981.9"/><use href="#mdia" x="441.3" y="981.5"/><use href="#mdia" x="442.3" y="981.7"/><use href="#mdia" x="443.4" y="981.4"/><use href="#mdia" x="444.5" y="982.3"/><use href="#mdia" x="445.6" y="982.5"/><use href="#mdia" x="446.7" y="982.2"/><use href="#mdia" x="447.8" y="982.1"/><use href="#mdia" x="448.9" y="982.1"/><use href="#mdia" x="450" y="981.9"/><use href="#mdia" x="451.1" y="982.7"/><use href="#mdia" x="452.2" y="982.6"/><use href="#mdia" x="453.3" y="982.5"/><use href="#mdia" x="454.4" y="982.3"/><use href="#mdia" x="455.5" y="982.5"/><use href="#mdia" x="456.6" y="982.8"/><use href="#mdia" x="457.7" y="983"/><use href="#mdia" x="458.8" y="982.6"/><use href="#mdia" x="459.9" y="982.7"/><use href="#mdia" x="461" y="982.3"/><use href="#mdia" x="462.1" y="983.2"/><use href="#mdia" x="463.2" y="982.8"/><use href="#mdia" x="464.3" y="983.7"/><use href="#mdia" x="465.4" y="983.6"/><use href="#mdia" x="466.5" y="983.7"/><use href="#mdia" x="467.6" y="983.8"/><use href="#mdia" x="468.7" y="984"/><use href="#mdia" x="469.8" y="984"/><use href="#mdia" x="470.9" y="984"/><use href="#mdia" x="472" y="984.2"/><use href="#mdia" x="473.1" y="984"/><use href="#mdia" x="474.2" y="984.2"/><use href="#mdia" x="475.2" y="984.3"/><use href="#mdia" x="476.3" y="983.9"/><use href="#mdia" x="477.4" y="984.3"/><use href="#mdia" x="478.5" y="984.3"/><use href="#mdia" x="479.6" y="984.4"/><use href="#mdia" x="480.7" y="984.4"/><use href="#mdia" x="481.8" y="984.2"/><use href="#mdia" x="482.9" y="984.5"/><use href="#mdia" x="484" y="984"/><use href="#mdia" x="485.1" y="983.8"/><use href="#mdia" x="486.2" y="984"/><use href="#mdia" x="487.3" y="984.4"/><use href="#mdia" x="488.4" y="984.7"/><use href="#mdia" x="489.5" y="984.5"/><use href="#mdia" x="490.6" y="984.4"/><use href="#mdia" x="491.7" y="984.3"/><use href="#mdia" x="492.8" y="984.7"/><use href="#mdia" x="493.9" y="984.8"/><use href="#mdia" x="495" y="984.4"/><use href="#mdia" x="496.1" y="985.1"/><use href="#mdia" x="497.2" y="984.7"/><use href="#mdia" x="498.3" y="984.8"/><use href="#mdia" x="499.4" y="985.4"/><use href="#mdia" x="500.5" y="985.1"/><use href="#mdia" x="501.6" y="985.3"/><use href="#mdia" x="502.7" y="985.4"/><use href="#mdia" x="503.8" y="985.6"/><use href="#mdia" x="504.9" y="985.5"/><use href="#mdia" x="506" y="985"/><use href="#mdia" x="507" y="985.2"/><use href="#mdia" x="508.1" y="985.1"/><use href="#mdia" x="509.2" y="985.5"/><use href="#mdia" x="510.3" y="985.4"/><use href="#mdia" x="511.4" y="985.4"/><use href="#mdia" x="512.5" y="985.8"/><use href="#mdia" x="513.6" y="985.9"/><use href="#mdia" x="514.7" y="985.5"/><use href="#mdia" x="515.8" y="985.6"/><use href="#mdia" x="516.9" y="985.9"/><use href="#mdia" x="518" y="985.7"/><use href="#mdia" x="519.1" y="985.6"/><use href="#mdia" x="520.2" y="985.3"/><use href="#mdia" x="521.3" y="986.1"/><use href="#mdia" x="522.4" y="985.7"/><use href="#mdia" x="523.5" y="985.3"/><use href="#mdia" x="524.6" y="985.9"/><use href="#mdia" x="525.7" y="985.5"/><use href="#mdia" x="526.8" y="986.6"/><use href="#mdia" x="527.9" y="985.6"/><use href="#mdia" x="529" y="986"/><use href="#mdia" x="530.1" y="986.6"/><use href="#mdia" x="531.2" y="986"/><use href="#mdia" x="532.3" y="986.1"/><use href="#mdia" x="533.4" y="986.2"/><use href="#mdia" x="534.5" y="986.4"/><use href="#mdia" x="535.6" y="986.9"/><use href="#mdia" x="536.7" y="987.2"/><use href="#mdia" x="537.8" y="987.3"/><use href="#mdia" x="538.9" y="987.3"/><use href="#mdia" x="539.9" y="987.3"/><use href="#mdia" x="541" y="987.6"/><use href="#mdia" x="542.1" y="987.6"/><use href="#mdia" x="543.2" y="987.5"/><use href="#mdia" x="544.3" y="987.7"/><use href="#mdia" x="545.4" y="987.2"/><use href="#mdia" x="546.5" y="987.3"/><use href="#mdia" x="547.6" y="990.9"/><use href="#mdia" x="548.7" y="988.2"/><use href="#mdia" x="549.8" y="988.5"/><use href="#mdia" x="550.9" y="988.6"/><use href="#mdia" x="552" y="988.3"/><use href="#mdia" x="553.1" y="988.8"/><use href="#mdia" x="554.2" y="989"/><use href="#mdia" x="555.3" y="988.9"/><use href="#mdia" x="556.4" y="988.7"/><use href="#mdia" x="557.5" y="989.2"/><use href="#mdia" x="558.6" y="989.4"/><use href="#mdia" x="559.7" y="989.1"/><use href="#mdia" x="560.8" y="989.3"/><use href="#mdia" x="561.9" y="989.4"/><use href="#mdia" x="563" y="989.4"/><use href="#mdia" x="564.1" y="990"/><use href="#mdia" x="565.2" y="989.7"/><use href="#mdia" x="566.3" y="990"/><use href="#mdia" x="567.4" y="989.7"/><use href="#mdia" x="568.5" y="989.9"/><use href="#mdia" x="569.6" y="990.4"/><use href="#mdia" x="570.7" y="989.9"/><use href="#mdia" x="571.7" y="990.6"/><use href="#mdia" x="572.8" y="990.1"/><use href="#mdia" x="573.9" y="990.4"/><use href="#mdia" x="575" y="990.7"/><use href="#mdia" x="576.1" y="990.8"/><use href="#mdia" x="577.2" y="990.6"/><use href="#mdia" x="578.3" y="990.5"/><use href="#mdia" x="579.4" y="990.8"/><use href="#mdia" x="580.5" y="990.5"/><use href="#mdia" x="581.6" y="991"/><use href="#mdia" x="582.7" y="990.7"/><use href="#mdia" x="583.8" y="990.8"/><use href="#mdia" x="584.9" y="991.3"/><use href="#mdia" x="586" y="990.8"/><use href="#mdia" x="587.1" y="991.3"/><use href="#mdia" x="588.2" y="991.7"/><use href="#mdia" x="589.3" y="991.3"/><use href="#mdia" x="590.4" y="991.3"/><use href="#mdia" x="591.5" y="991"/><use href="#mdia" x="592.6" y="991.5"/><use href="#mdia" x="593.7" y="991"/><use href="#mdia" x="594.8" y="991.1"/><use href="#mdia" x="595.9" y="991.2"/><use href="#mdia" x="597" y="991.1"/><use href="#mdia" x="598.1" y="991.3"/><use href="#mdia" x="599.2" y="991.5"/><use href="#mdia" x="600.3" y="991.2"/><use href="#mdia" x="601.4" y="991.1"/><use href="#mdia" x="602.5" y="991.3"/><use href="#mdia" x="603.5" y="991.4"/><use href="#mdia" x="604.6" y="991.8"/><use href="#mdia" x="605.7" y="991.2"/><use href="#mdia" x="606.8" y="991.3"/><use href="#mdia" x="607.9" y="991.8"/><use href="#mdia" x="609" y="991.5"/><use href="#mdia" x="610.1" y="991.4"/><use href="#mdia" x="611.2" y="991.7"/><use href="#mdia" x="612.3" y="991.5"/><use href="#mdia" x="613.4" y="991.5"/><use href="#mdia" x="614.5" y="992.2"/><use href="#mdia" x="615.6" y="992"/><use href="#mdia" x="616.7" y="991.9"/><use href="#mdia" x="617.8" y="991.9"/><use href="#mdia" x="618.9" y="991.9"/><use href="#mdia" x="620" y="992.8"/><use href="#mdia" x="621.1" y="992.4"/><use href="#mdia" x="622.2" y="992.2"/><use href="#mdia" x="623.3" y="992"/><use href="#mdia" x="624.4" y="991.9"/><use href="#mdia" x="625.5" y="992.6"/><use href="#mdia" x="626.6" y="992.4"/><use href="#mdia" x="627.7" y="992.6"/><use href="#mdia" x="628.8" y="992.1"/><use href="#mdia" x="629.9" y="992.6"/><use href="#mdia" x="631" y="992"/><use href="#mdia" x="632.1" y="992.1"/><use href="#mdia" x="633.2" y="992.3"/><use href="#mdia" x="634.3" y="993"/><use href="#mdia" x="635.4" y="992.6"/><use href="#mdia" x="636.4" y="992.3"/><use href="#mdia" x="637.5" y="992.9"/><use href="#mdia" x="638.6" y="992.6"/><use href="#mdia" x="639.7" y="992.7"/><use href="#mdia" x="640.8" y="992.4"/><use href="#mdia" x="641.9" y="992.6"/><use href="#mdia" x="643" y="992.6"/><use href="#mdia" x="644.1" y="992.8"/><use href="#mdia" x="645.2" y="992.7"/><use href="#mdia" x="646.3" y="992.7"/><use href="#mdia" x="647.4" y="992.5"/><use href="#mdia" x="648.5" y="992.8"/><use href="#mdia" x="649.6" y="992.6"/><use href="#mdia" x="650.7" y="993.3"/><use href="#mdia" x="651.8" y="992.6"/></g>
<rect x="103.5" y="14.5" width="548.3" height="334.0" fill="none" stroke="#000" stroke-width="2"/>
<line x1="103.5" y1="348.5" x2="103.5" y2="358" stroke="#000" stroke-width="2"/>
<line x1="158.3" y1="348.5" x2="158.3" y2="353.5" stroke="#000" stroke-width="2"/>
<line x1="213.2" y1="348.5" x2="213.2" y2="358" stroke="#000" stroke-width="2"/>
<line x1="268" y1="348.5" x2="268" y2="353.5" stroke="#000" stroke-width="2"/>
<line x1="322.8" y1="348.5" x2="322.8" y2="358" stroke="#000" stroke-width="2"/>
<line x1="377.6" y1="348.5" x2="377.6" y2="353.5" stroke="#000" stroke-width="2"/>
<line x1="432.5" y1="348.5" x2="432.5" y2="358" stroke="#000" stroke-width="2"/>
<line x1="487.3" y1="348.5" x2="487.3" y2="353.5" stroke="#000" stroke-width="2"/>
<line x1="542.1" y1="348.5" x2="542.1" y2="358" stroke="#000" stroke-width="2"/>
<line x1="597" y1="348.5" x2="597" y2="353.5" stroke="#000" stroke-width="2"/>
<line x1="651.8" y1="348.5" x2="651.8" y2="358" stroke="#000" stroke-width="2"/>
<line x1="94" y1="348.5" x2="103.5" y2="348.5" stroke="#000" stroke-width="2"/>
<line x1="98.5" y1="315.1" x2="103.5" y2="315.1" stroke="#000" stroke-width="2"/>
<line x1="94" y1="281.7" x2="103.5" y2="281.7" stroke="#000" stroke-width="2"/>
<line x1="98.5" y1="248.3" x2="103.5" y2="248.3" stroke="#000" stroke-width="2"/>
<line x1="94" y1="214.9" x2="103.5" y2="214.9" stroke="#000" stroke-width="2"/>
<line x1="98.5" y1="181.5" x2="103.5" y2="181.5" stroke="#000" stroke-width="2"/>
<line x1="94" y1="148.1" x2="103.5" y2="148.1" stroke="#000" stroke-width="2"/>
<line x1="98.5" y1="114.7" x2="103.5" y2="114.7" stroke="#000" stroke-width="2"/>
<line x1="94" y1="81.3" x2="103.5" y2="81.3" stroke="#000" stroke-width="2"/>
<line x1="98.5" y1="47.9" x2="103.5" y2="47.9" stroke="#000" stroke-width="2"/>
<line x1="94" y1="14.5" x2="103.5" y2="14.5" stroke="#000" stroke-width="2"/>
<line x1="651.8" y1="348.5" x2="661.3" y2="348.5" stroke="#000" stroke-width="2"/>
<line x1="651.8" y1="313.7" x2="656.8" y2="313.7" stroke="#000" stroke-width="2"/>
<line x1="651.8" y1="278.9" x2="661.3" y2="278.9" stroke="#000" stroke-width="2"/>
<line x1="651.8" y1="244.1" x2="656.8" y2="244.1" stroke="#000" stroke-width="2"/>
<line x1="651.8" y1="209.3" x2="661.3" y2="209.3" stroke="#000" stroke-width="2"/>
<line x1="651.8" y1="174.5" x2="656.8" y2="174.5" stroke="#000" stroke-width="2"/>
<line x1="651.8" y1="139.8" x2="661.3" y2="139.8" stroke="#000" stroke-width="2"/>
<line x1="651.8" y1="105" x2="656.8" y2="105" stroke="#000" stroke-width="2"/>
<line x1="651.8" y1="70.2" x2="661.3" y2="70.2" stroke="#000" stroke-width="2"/>
<line x1="651.8" y1="35.4" x2="656.8" y2="35.4" stroke="#000" stroke-width="2"/>
<rect x="103.5" y="441.6" width="548.3" height="334.4" fill="none" stroke="#000" stroke-width="2"/>
<line x1="103.5" y1="776" x2="103.5" y2="785.5" stroke="#000" stroke-width="2"/>
<line x1="158.3" y1="776" x2="158.3" y2="781" stroke="#000" stroke-width="2"/>
<line x1="213.2" y1="776" x2="213.2" y2="785.5" stroke="#000" stroke-width="2"/>
<line x1="268" y1="776" x2="268" y2="781" stroke="#000" stroke-width="2"/>
<line x1="322.8" y1="776" x2="322.8" y2="785.5" stroke="#000" stroke-width="2"/>
<line x1="377.6" y1="776" x2="377.6" y2="781" stroke="#000" stroke-width="2"/>
<line x1="432.5" y1="776" x2="432.5" y2="785.5" stroke="#000" stroke-width="2"/>
<line x1="487.3" y1="776" x2="487.3" y2="781" stroke="#000" stroke-width="2"/>
<line x1="542.1" y1="776" x2="542.1" y2="785.5" stroke="#000" stroke-width="2"/>
<line x1="597" y1="776" x2="597" y2="781" stroke="#000" stroke-width="2"/>
<line x1="651.8" y1="776" x2="651.8" y2="785.5" stroke="#000" stroke-width="2"/>
<line x1="94" y1="776" x2="103.5" y2="776" stroke="#000" stroke-width="2"/>
<line x1="98.5" y1="742.6" x2="103.5" y2="742.6" stroke="#000" stroke-width="2"/>
<line x1="94" y1="709.1" x2="103.5" y2="709.1" stroke="#000" stroke-width="2"/>
<line x1="98.5" y1="675.7" x2="103.5" y2="675.7" stroke="#000" stroke-width="2"/>
<line x1="94" y1="642.2" x2="103.5" y2="642.2" stroke="#000" stroke-width="2"/>
<line x1="98.5" y1="608.8" x2="103.5" y2="608.8" stroke="#000" stroke-width="2"/>
<line x1="94" y1="575.4" x2="103.5" y2="575.4" stroke="#000" stroke-width="2"/>
<line x1="98.5" y1="541.9" x2="103.5" y2="541.9" stroke="#000" stroke-width="2"/>
<line x1="94" y1="508.5" x2="103.5" y2="508.5" stroke="#000" stroke-width="2"/>
<line x1="98.5" y1="475" x2="103.5" y2="475" stroke="#000" stroke-width="2"/>
<line x1="94" y1="441.6" x2="103.5" y2="441.6" stroke="#000" stroke-width="2"/>
<line x1="651.8" y1="776" x2="661.3" y2="776" stroke="#000" stroke-width="2"/>
<line x1="651.8" y1="741.2" x2="656.8" y2="741.2" stroke="#000" stroke-width="2"/>
<line x1="651.8" y1="706.3" x2="661.3" y2="706.3" stroke="#000" stroke-width="2"/>
<line x1="651.8" y1="671.5" x2="656.8" y2="671.5" stroke="#000" stroke-width="2"/>
<line x1="651.8" y1="636.7" x2="661.3" y2="636.7" stroke="#000" stroke-width="2"/>
<line x1="651.8" y1="601.8" x2="656.8" y2="601.8" stroke="#000" stroke-width="2"/>
<line x1="651.8" y1="567" x2="661.3" y2="567" stroke="#000" stroke-width="2"/>
<line x1="651.8" y1="532.2" x2="656.8" y2="532.2" stroke="#000" stroke-width="2"/>
<line x1="651.8" y1="497.3" x2="661.3" y2="497.3" stroke="#000" stroke-width="2"/>
<line x1="651.8" y1="462.5" x2="656.8" y2="462.5" stroke="#000" stroke-width="2"/>
<rect x="103.5" y="869.0" width="548.3" height="333.8" fill="none" stroke="#000" stroke-width="2"/>
<line x1="103.5" y1="1202.8" x2="103.5" y2="1212.3" stroke="#000" stroke-width="2"/>
<line x1="158.3" y1="1202.8" x2="158.3" y2="1207.8" stroke="#000" stroke-width="2"/>
<line x1="213.2" y1="1202.8" x2="213.2" y2="1212.3" stroke="#000" stroke-width="2"/>
<line x1="268" y1="1202.8" x2="268" y2="1207.8" stroke="#000" stroke-width="2"/>
<line x1="322.8" y1="1202.8" x2="322.8" y2="1212.3" stroke="#000" stroke-width="2"/>
<line x1="377.6" y1="1202.8" x2="377.6" y2="1207.8" stroke="#000" stroke-width="2"/>
<line x1="432.5" y1="1202.8" x2="432.5" y2="1212.3" stroke="#000" stroke-width="2"/>
<line x1="487.3" y1="1202.8" x2="487.3" y2="1207.8" stroke="#000" stroke-width="2"/>
<line x1="542.1" y1="1202.8" x2="542.1" y2="1212.3" stroke="#000" stroke-width="2"/>
<line x1="597" y1="1202.8" x2="597" y2="1207.8" stroke="#000" stroke-width="2"/>
<line x1="651.8" y1="1202.8" x2="651.8" y2="1212.3" stroke="#000" stroke-width="2"/>
<line x1="94" y1="1202.8" x2="103.5" y2="1202.8" stroke="#000" stroke-width="2"/>
<line x1="98.5" y1="1180.5" x2="103.5" y2="1180.5" stroke="#000" stroke-width="2"/>
<line x1="94" y1="1158.3" x2="103.5" y2="1158.3" stroke="#000" stroke-width="2"/>
<line x1="98.5" y1="1136" x2="103.5" y2="1136" stroke="#000" stroke-width="2"/>
<line x1="94" y1="1113.8" x2="103.5" y2="1113.8" stroke="#000" stroke-width="2"/>
<line x1="98.5" y1="1091.5" x2="103.5" y2="1091.5" stroke="#000" stroke-width="2"/>
<line x1="94" y1="1069.3" x2="103.5" y2="1069.3" stroke="#000" stroke-width="2"/>
<line x1="98.5" y1="1047" x2="103.5" y2="1047" stroke="#000" stroke-width="2"/>
<line x1="94" y1="1024.8" x2="103.5" y2="1024.8" stroke="#000" stroke-width="2"/>
<line x1="98.5" y1="1002.5" x2="103.5" y2="1002.5" stroke="#000" stroke-width="2"/>
<line x1="94" y1="980.3" x2="103.5" y2="980.3" stroke="#000" stroke-width="2"/>
<line x1="98.5" y1="958" x2="103.5" y2="958" stroke="#000" stroke-width="2"/>
<line x1="94" y1="935.8" x2="103.5" y2="935.8" stroke="#000" stroke-width="2"/>
<line x1="98.5" y1="913.5" x2="103.5" y2="913.5" stroke="#000" stroke-width="2"/>
<line x1="94" y1="891.3" x2="103.5" y2="891.3" stroke="#000" stroke-width="2"/>
<line x1="98.5" y1="869" x2="103.5" y2="869" stroke="#000" stroke-width="2"/>
<g opacity="0.995">
<text x="103.5" y="381.3" font-size="24" text-anchor="middle" font-family="&quot;Liberation Sans&quot;, sans-serif" fill="#000">0</text>
<text x="213.2" y="381.3" font-size="24" text-anchor="middle" font-family="&quot;Liberation Sans&quot;, sans-serif" fill="#000">100</text>
<text x="322.8" y="381.3" font-size="24" text-anchor="middle" font-family="&quot;Liberation Sans&quot;, sans-serif" fill="#000">200</text>
<text x="432.5" y="381.3" font-size="24" text-anchor="middle" font-family="&quot;Liberation Sans&quot;, sans-serif" fill="#000">300</text>
<text x="542.1" y="381.3" font-size="24" text-anchor="middle" font-family="&quot;Liberation Sans&quot;, sans-serif" fill="#000">400</text>
<text x="651.8" y="381.3" font-size="24" text-anchor="middle" font-family="&quot;Liberation Sans&quot;, sans-serif" fill="#000">500</text>
<text x="89" y="354.9" font-size="24" text-anchor="end" font-family="&quot;Liberation Sans&quot;, sans-serif" fill="#000">0</text>
<text x="89" y="288.1" font-size="24" text-anchor="end" font-family="&quot;Liberation Sans&quot;, sans-serif" fill="#000">20</text>
<text x="89" y="221.3" font-size="24" text-anchor="end" font-family="&quot;Liberation Sans&quot;, sans-serif" fill="#000">40</text>
<text x="89" y="154.5" font-size="24" text-anchor="end" font-family="&quot;Liberation Sans&quot;, sans-serif" fill="#000">60</text>
<text x="89" y="87.7" font-size="24" text-anchor="end" font-family="&quot;Liberation Sans&quot;, sans-serif" fill="#000">80</text>
<text x="89" y="20.9" font-size="24" text-anchor="end" font-family="&quot;Liberation Sans&quot;, sans-serif" fill="#000">100</text>
<text x="666.5" y="354.9" font-size="24" text-anchor="start" font-family="&quot;Liberation Sans&quot;, sans-serif" fill="#000">0</text>
<text x="666.5" y="285.3" font-size="24" text-anchor="start" font-family="&quot;Liberation Sans&quot;, sans-serif" fill="#000">25</text>
<text x="666.5" y="215.7" font-size="24" text-anchor="start" font-family="&quot;Liberation Sans&quot;, sans-serif" fill="#000">50</text>
<text x="666.5" y="146.2" font-size="24" text-anchor="start" font-family="&quot;Liberation Sans&quot;, sans-serif" fill="#000">75</text>
<text x="666.5" y="76.6" font-size="24" text-anchor="start" font-family="&quot;Liberation Sans&quot;, sans-serif" fill="#000">100</text>
<text x="103.5" y="808.8" font-size="24" text-anchor="middle" font-family="&quot;Liberation Sans&quot;, sans-serif" fill="#000">0</text>
<text x="213.2" y="808.8" font-size="24" text-anchor="middle" font-family="&quot;Liberation Sans&quot;, sans-serif" fill="#000">100</text>
<text x="322.8" y="808.8" font-size="24" text-anchor="middle" font-family="&quot;Liberation Sans&quot;, sans-serif" fill="#000">200</text>
<text x="432.5" y="808.8" font-size="24" text-anchor="middle" font-family="&quot;Liberation Sans&quot;, sans-serif" fill="#000">300</text>
<text x="542.1" y="808.8" font-size="24" text-anchor="middle" font-family="&quot;Liberation Sans&quot;, sans-serif" fill="#000">400</text>
<text x="651.8" y="808.8" font-size="24" text-anchor="middle" font-family="&quot;Liberation Sans&quot;, sans-serif" fill="#000">500</text>
<text x="89" y="782.4" font-size="24" text-anchor="end" font-family="&quot;Liberation Sans&quot;, sans-serif" fill="#000">0</text>
<text x="89" y="715.5" font-size="24" text-anchor="end" font-family="&quot;Liberation Sans&quot;, sans-serif" fill="#000">20</text>
<text x="89" y="648.6" font-size="24" text-anchor="end" font-family="&quot;Liberation Sans&quot;, sans-serif" fill="#000">40</text>
<text x="89" y="581.8" font-size="24" text-anchor="end" font-family="&quot;Liberation Sans&quot;, sans-serif" fill="#000">60</text>
<text x="89" y="514.9" font-size="24" text-anchor="end" font-family="&quot;Liberation Sans&quot;, sans-serif" fill="#000">80</text>
<text x="89" y="448" font-size="24" text-anchor="end" font-family="&quot;Liberation Sans&quot;, sans-serif" fill="#000">100</text>
<text x="666.5" y="782.4" font-size="24" text-anchor="start" font-family="&quot;Liberation Sans&quot;, sans-serif" fill="#000">0</text>
<text x="666.5" y="712.7" font-size="24" text-anchor="start" font-family="&quot;Liberation Sans&quot;, sans-serif" fill="#000">25</text>
<text x="666.5" y="643.1" font-size="24" text-anchor="start" font-family="&quot;Liberation Sans&quot;, sans-serif" fill="#000">50</text>
<text x="666.5" y="573.4" font-size="24" text-anchor="start" font-family="&quot;Liberation Sans&quot;, sans-serif" fill="#000">75</text>
<text x="666.5" y="503.7" font-size="24" text-anchor="start" font-family="&quot;Liberation Sans&quot;, sans-serif" fill="#000">100</text>
<text x="103.5" y="1235.6" font-size="24" text-anchor="middle" font-family="&quot;Liberation Sans&quot;, sans-serif" fill="#000">0</text>
<text x="213.2" y="1235.6" font-size="24" text-anchor="middle" font-family="&quot;Liberation Sans&quot;, sans-serif" fill="#000">100</text>
<text x="322.8" y="1235.6" font-size="24" text-anchor="middle" font-family="&quot;Liberation Sans&quot;, sans-serif" fill="#000">200</text>
<text x="432.5" y="1235.6" font-size="24" text-anchor="middle" font-family="&quot;Liberation Sans&quot;, sans-serif" fill="#000">300</text>
<text x="542.1" y="1235.6" font-size="24" text-anchor="middle" font-family="&quot;Liberation Sans&quot;, sans-serif" fill="#000">400</text>
<text x="651.8" y="1235.6" font-size="24" text-anchor="middle" font-family="&quot;Liberation Sans&quot;, sans-serif" fill="#000">500</text>
<text x="89" y="1209.2" font-size="24" text-anchor="end" font-family="&quot;Liberation Sans&quot;, sans-serif" fill="#000">0</text>
<text x="89" y="1164.7" font-size="24" text-anchor="end" font-family="&quot;Liberation Sans&quot;, sans-serif" fill="#000">20</text>
<text x="89" y="1120.2" font-size="24" text-anchor="end" font-family="&quot;Liberation Sans&quot;, sans-serif" fill="#000">40</text>
<text x="89" y="1075.7" font-size="24" text-anchor="end" font-family="&quot;Liberation Sans&quot;, sans-serif" fill="#000">60</text>
<text x="89" y="1031.2" font-size="24" text-anchor="end" font-family="&quot;Liberation Sans&quot;, sans-serif" fill="#000">80</text>
<text x="89" y="986.7" font-size="24" text-anchor="end" font-family="&quot;Liberation Sans&quot;, sans-serif" fill="#000">100</text>
<text x="89" y="942.2" font-size="24" text-anchor="end" font-family="&quot;Liberation Sans&quot;, sans-serif" fill="#000">120</text>
<text x="89" y="897.7" font-size="24" text-anchor="end" font-family="&quot;Liberation Sans&quot;, sans-serif" fill="#000">140</text>
<text x="313.8" y="412.6" font-size="24" text-anchor="start" font-family="&quot;Liberation Sans&quot;, sans-serif" fill="#000">cycle number</text>
<text x="314.4" y="844.2" font-size="24" text-anchor="start" font-family="&quot;Liberation Sans&quot;, sans-serif" fill="#000">cycle number</text>
<text x="306.4" y="1273.7" font-size="24" text-anchor="start" font-family="&quot;Liberation Sans&quot;, sans-serif" fill="#000">cycle number</text>
<g transform="translate(36,285.6) rotate(-90)"><text x="0" y="0" font-size="24" letter-spacing="0.07" font-family="&quot;Liberation Sans&quot;, sans-serif" fill="#000">capacity / mAh g<tspan font-size="13.5" dy="-13.4" dx="0.5">-1</tspan></text></g>
<g transform="translate(32.3,709.6) rotate(-90)"><text x="0" y="0" font-size="24" letter-spacing="0.07" font-family="&quot;Liberation Sans&quot;, sans-serif" fill="#000">capacity / mAh g<tspan font-size="13.5" dy="-13.4" dx="0.5">-1</tspan></text></g>
<g transform="translate(25.4,1190.2) rotate(-90)"><text x="0" y="0" font-size="24" letter-spacing="0.1" font-family="&quot;Liberation Sans&quot;, sans-serif" fill="#000">discharge capacity / mAh g<tspan font-size="13.5" dy="-13.4" dx="0.5">-1</tspan></text></g>
<g transform="translate(729.6,268.2) rotate(-90)"><text x="0" y="0" font-size="24" letter-spacing="0.3" font-family="&quot;Liberation Sans&quot;, sans-serif" fill="#000">efficiency / %</text></g>
<g transform="translate(729.6,696.6) rotate(-90)"><text x="0" y="0" font-size="24" letter-spacing="0.3" font-family="&quot;Liberation Sans&quot;, sans-serif" fill="#000">efficiency / %</text></g>
<text x="112.5" y="40.5" font-size="20" text-anchor="start" letter-spacing="0.36" font-weight="bold" font-family="&quot;Liberation Sans&quot;, sans-serif" fill="#000">a)</text>
<text x="162" y="40.5" font-size="20" text-anchor="start" letter-spacing="0.36" font-weight="bold" font-family="&quot;Liberation Sans&quot;, sans-serif" fill="#000">met. Li vs. KS6 graphite; Cut-off: 5.0 V</text>
<text x="117.8" y="472.7" font-size="20" text-anchor="start" letter-spacing="0.36" font-weight="bold" font-family="&quot;Liberation Sans&quot;, sans-serif" fill="#000">b)</text>
<text x="167.8" y="472.7" font-size="20" text-anchor="start" letter-spacing="0.46" font-weight="bold" font-family="&quot;Liberation Sans&quot;, sans-serif" fill="#000">LTO vs. KS6 graphite; Cut-off: 3.4 V</text>
<text x="114" y="900.6" font-size="20" text-anchor="start" letter-spacing="0.36" font-weight="bold" font-family="&quot;Liberation Sans&quot;, sans-serif" fill="#000">c)</text>
<text x="163" y="900.6" font-size="20" text-anchor="start" letter-spacing="0.36" font-weight="bold" font-family="&quot;Liberation Sans&quot;, sans-serif" fill="#000">met. Li vs. KS6 graphite; Cut-off: 5.0 V</text>
</g>
<g fill="#fff" stroke="#5050e2" stroke-width="1.2"><use href="#mtdown" x="415.6" y="263.7"/></g>
<g fill="#fff" stroke="#e03c60" stroke-width="1.2"><use href="#msq" x="415.6" y="288.2"/></g>
<g fill="#fff" stroke="#3c3c3c" stroke-width="1.2"><use href="#mlcirc" x="415.6" y="315.4"/></g>
<g opacity="0.995">
<text x="446.8" y="269.9" font-size="22" text-anchor="start" font-family="&quot;Liberation Sans&quot;, sans-serif" fill="#000">efficiency</text>
<text x="446.8" y="294.4" font-size="22" text-anchor="start" font-family="&quot;Liberation Sans&quot;, sans-serif" fill="#000">charge capacity</text>
<text x="446.8" y="321.6" font-size="22" text-anchor="start" font-family="&quot;Liberation Sans&quot;, sans-serif" fill="#000">discharge capacity</text>
</g>
<g fill="#fff" stroke="#5050e2" stroke-width="1.2"><use href="#mtdown" x="425.3" y="693.9"/></g>
<g fill="#fff" stroke="#e03c60" stroke-width="1.2"><use href="#msq" x="425.3" y="720.3"/></g>
<g fill="#fff" stroke="#3c3c3c" stroke-width="1.2"><use href="#mlcirc" x="425.3" y="746.7"/></g>
<g opacity="0.995">
<text x="456.4" y="700.1" font-size="22" text-anchor="start" font-family="&quot;Liberation Sans&quot;, sans-serif" fill="#000">efficiency</text>
<text x="456.4" y="726.5" font-size="22" text-anchor="start" font-family="&quot;Liberation Sans&quot;, sans-serif" fill="#000">charge capacity</text>
<text x="456.4" y="752.9" font-size="22" text-anchor="start" font-family="&quot;Liberation Sans&quot;, sans-serif" fill="#000">discharge capacity</text>
</g>
<g fill="#fff" stroke="#3c3c3c" stroke-width="1.2"><use href="#mlcirc" x="543.1" y="1124.2"/></g>
<g fill="#fff" stroke="#e03c60" stroke-width="1.2"><use href="#mtup" x="543.1" y="1149.8"/></g>
<g fill="#fff" stroke="#3aa83a" stroke-width="1.2"><use href="#mdia" x="543.1" y="1177.2"/></g>
<g opacity="0.995">
<text x="573.4" y="1131.4" font-size="22" text-anchor="start" font-family="&quot;Liberation Sans&quot;, sans-serif" fill="#000">20 °C</text>
<text x="573.4" y="1157" font-size="22" text-anchor="start" font-family="&quot;Liberation Sans&quot;, sans-serif" fill="#000">40 °C</text>
<text x="573.4" y="1184.4" font-size="22" text-anchor="start" font-family="&quot;Liberation Sans&quot;, sans-serif" fill="#000">60 °C</text>
</g>
</svg>
</body></html>
